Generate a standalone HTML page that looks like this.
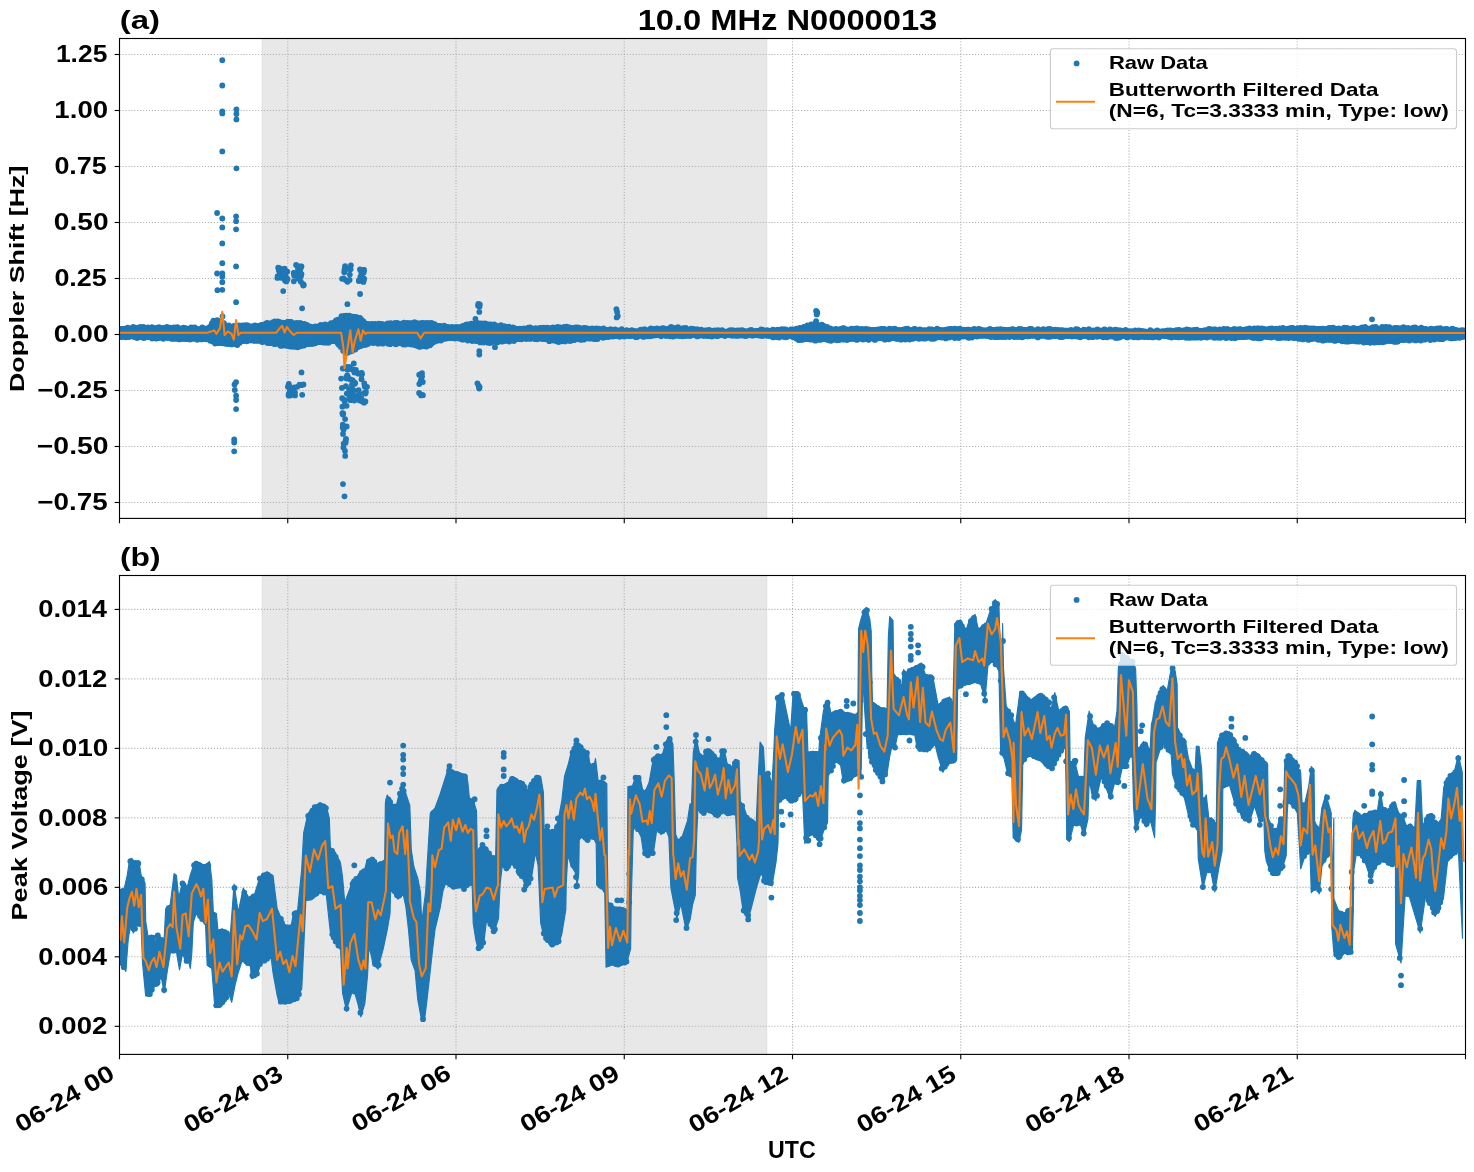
<!DOCTYPE html><html><head><meta charset="utf-8"><style>html,body{margin:0;padding:0;background:#fff;}svg{display:block;}text{font-family:"Liberation Sans", sans-serif;font-weight:bold;fill:#000;}</style></head><body>
<svg width="1474" height="1172" viewBox="0 0 1474 1172">
<rect x="0" y="0" width="1474" height="1172" fill="#fff"/>
<rect x="262.3" y="38.5" width="504.40000000000003" height="479.9" fill="#e8e8e8" stroke="#e0e0e0" stroke-width="1.1"/>
<rect x="262.3" y="575.5" width="504.40000000000003" height="478.9000000000001" fill="#e8e8e8" stroke="#e0e0e0" stroke-width="1.1"/>
<line x1="119.5" y1="54.50" x2="1465.5" y2="54.50" stroke="#b0b0b0" stroke-width="1.1" stroke-dasharray="1.1 1.85"/>
<line x1="119.5" y1="110.50" x2="1465.5" y2="110.50" stroke="#b0b0b0" stroke-width="1.1" stroke-dasharray="1.1 1.85"/>
<line x1="119.5" y1="166.50" x2="1465.5" y2="166.50" stroke="#b0b0b0" stroke-width="1.1" stroke-dasharray="1.1 1.85"/>
<line x1="119.5" y1="222.50" x2="1465.5" y2="222.50" stroke="#b0b0b0" stroke-width="1.1" stroke-dasharray="1.1 1.85"/>
<line x1="119.5" y1="278.50" x2="1465.5" y2="278.50" stroke="#b0b0b0" stroke-width="1.1" stroke-dasharray="1.1 1.85"/>
<line x1="119.5" y1="334.50" x2="1465.5" y2="334.50" stroke="#b0b0b0" stroke-width="1.1" stroke-dasharray="1.1 1.85"/>
<line x1="119.5" y1="390.50" x2="1465.5" y2="390.50" stroke="#b0b0b0" stroke-width="1.1" stroke-dasharray="1.1 1.85"/>
<line x1="119.5" y1="446.50" x2="1465.5" y2="446.50" stroke="#b0b0b0" stroke-width="1.1" stroke-dasharray="1.1 1.85"/>
<line x1="119.5" y1="502.50" x2="1465.5" y2="502.50" stroke="#b0b0b0" stroke-width="1.1" stroke-dasharray="1.1 1.85"/>
<line x1="119.5" y1="1026.30" x2="1465.5" y2="1026.30" stroke="#b0b0b0" stroke-width="1.1" stroke-dasharray="1.1 1.85"/>
<line x1="119.5" y1="956.82" x2="1465.5" y2="956.82" stroke="#b0b0b0" stroke-width="1.1" stroke-dasharray="1.1 1.85"/>
<line x1="119.5" y1="887.34" x2="1465.5" y2="887.34" stroke="#b0b0b0" stroke-width="1.1" stroke-dasharray="1.1 1.85"/>
<line x1="119.5" y1="817.86" x2="1465.5" y2="817.86" stroke="#b0b0b0" stroke-width="1.1" stroke-dasharray="1.1 1.85"/>
<line x1="119.5" y1="748.38" x2="1465.5" y2="748.38" stroke="#b0b0b0" stroke-width="1.1" stroke-dasharray="1.1 1.85"/>
<line x1="119.5" y1="678.90" x2="1465.5" y2="678.90" stroke="#b0b0b0" stroke-width="1.1" stroke-dasharray="1.1 1.85"/>
<line x1="119.5" y1="609.42" x2="1465.5" y2="609.42" stroke="#b0b0b0" stroke-width="1.1" stroke-dasharray="1.1 1.85"/>
<line x1="287.75" y1="38.5" x2="287.75" y2="518.4" stroke="#b0b0b0" stroke-width="1.1" stroke-dasharray="1.1 1.85"/>
<line x1="287.75" y1="575.5" x2="287.75" y2="1054.4" stroke="#b0b0b0" stroke-width="1.1" stroke-dasharray="1.1 1.85"/>
<line x1="456.00" y1="38.5" x2="456.00" y2="518.4" stroke="#b0b0b0" stroke-width="1.1" stroke-dasharray="1.1 1.85"/>
<line x1="456.00" y1="575.5" x2="456.00" y2="1054.4" stroke="#b0b0b0" stroke-width="1.1" stroke-dasharray="1.1 1.85"/>
<line x1="624.25" y1="38.5" x2="624.25" y2="518.4" stroke="#b0b0b0" stroke-width="1.1" stroke-dasharray="1.1 1.85"/>
<line x1="624.25" y1="575.5" x2="624.25" y2="1054.4" stroke="#b0b0b0" stroke-width="1.1" stroke-dasharray="1.1 1.85"/>
<line x1="792.50" y1="38.5" x2="792.50" y2="518.4" stroke="#b0b0b0" stroke-width="1.1" stroke-dasharray="1.1 1.85"/>
<line x1="792.50" y1="575.5" x2="792.50" y2="1054.4" stroke="#b0b0b0" stroke-width="1.1" stroke-dasharray="1.1 1.85"/>
<line x1="960.75" y1="38.5" x2="960.75" y2="518.4" stroke="#b0b0b0" stroke-width="1.1" stroke-dasharray="1.1 1.85"/>
<line x1="960.75" y1="575.5" x2="960.75" y2="1054.4" stroke="#b0b0b0" stroke-width="1.1" stroke-dasharray="1.1 1.85"/>
<line x1="1129.00" y1="38.5" x2="1129.00" y2="518.4" stroke="#b0b0b0" stroke-width="1.1" stroke-dasharray="1.1 1.85"/>
<line x1="1129.00" y1="575.5" x2="1129.00" y2="1054.4" stroke="#b0b0b0" stroke-width="1.1" stroke-dasharray="1.1 1.85"/>
<line x1="1297.25" y1="38.5" x2="1297.25" y2="518.4" stroke="#b0b0b0" stroke-width="1.1" stroke-dasharray="1.1 1.85"/>
<line x1="1297.25" y1="575.5" x2="1297.25" y2="1054.4" stroke="#b0b0b0" stroke-width="1.1" stroke-dasharray="1.1 1.85"/>
<defs><clipPath id="clipA"><rect x="119.5" y="38.5" width="1346" height="479.9"/></clipPath><clipPath id="clipB"><rect x="119.5" y="575.5" width="1346" height="478.9"/></clipPath></defs>
<g clip-path="url(#clipB)">
<polygon points="120.4,890.6 124.2,889.0 127.3,875.2 129.6,859.8 131.9,858.3 134.2,866.0 136.5,861.4 138.8,860.6 141.1,875.2 145.0,882.9 145.7,921.3 148.0,936.6 151.9,935.1 154.9,942.8 158.0,933.6 161.1,938.2 164.2,938.2 165.7,909.0 170.3,904.4 174.1,873.7 176.4,875.2 178.7,898.2 182.6,881.3 187.2,887.5 190.3,875.2 194.9,861.4 199.5,862.9 205.6,866.0 209.5,861.4 211.8,879.8 213.3,912.1 216.4,913.6 217.9,930.5 222.5,929.0 225.6,930.5 230.2,936.6 234.1,884.0 238.2,912.6 243.3,888.1 248.4,898.3 254.6,894.2 259.7,877.8 266.9,871.7 273.0,875.8 277.1,908.5 283.2,922.9 287.3,927.0 291.4,924.9 293.5,912.6 297.6,910.6 301.7,869.6 303.7,832.8 307.8,814.3 314.0,806.1 320.1,803.1 326.3,806.1 329.3,818.4 330.3,847.1 336.5,855.3 340.6,863.5 342.6,877.8 344.7,902.4 352.9,881.0 364.8,869.1 366.8,861.2 371.5,857.2 376.8,863.8 380.7,862.5 384.7,859.8 385.4,803.0 387.3,795.0 392.6,804.3 396.6,804.3 399.2,793.7 403.2,785.8 407.2,797.7 409.8,805.6 411.2,849.3 413.8,866.5 417.8,878.4 420.4,891.9 421.7,922.5 425.7,891.9 427.0,867.8 430.3,813.5 435.0,808.2 440.3,793.7 448.2,768.6 453.5,771.2 458.8,772.5 466.6,775.2 467.9,783.1 469.3,797.7 473.2,800.3 476.5,810.9 477.2,850.6 481.2,846.6 486.5,847.9 491.8,855.9 495.7,855.9 497.0,789.7 499.7,787.1 509.0,781.8 512.9,776.5 518.2,780.5 523.5,781.8 527.5,792.4 531.4,783.1 536.7,775.2 540.7,776.5 543.4,792.4 544.0,829.4 547.3,828.1 552.6,833.4 557.9,821.5 561.9,800.3 564.5,776.5 568.5,763.3 571.1,752.7 576.4,742.1 580.3,744.1 582.9,750.8 588.2,752.1 589.6,762.7 593.5,768.0 595.5,758.7 598.2,781.2 601.5,779.9 606.8,783.8 607.3,856.9 608.1,902.1 614.7,907.4 620.0,907.4 627.3,910.0 627.9,786.5 631.9,787.8 635.9,775.9 639.8,775.9 642.5,789.1 645.1,791.8 649.1,782.5 653.1,760.0 657.0,754.7 662.3,754.7 666.3,741.5 670.3,737.5 672.9,744.1 674.2,781.2 675.6,834.1 678.2,840.7 682.2,836.8 687.5,820.9 690.1,803.7 691.4,807.6 693.3,752.7 696.0,736.8 699.3,752.7 703.2,756.6 707.2,748.7 711.2,751.3 715.1,755.3 718.4,763.2 721.8,750.0 724.4,750.0 727.0,763.2 729.7,765.9 732.3,767.2 735.0,759.3 739.0,760.6 740.3,801.6 742.9,804.3 746.9,816.2 752.2,820.1 756.2,824.1 758.1,779.1 760.1,742.1 763.4,747.4 764.8,773.8 768.1,771.2 772.0,784.4 774.0,747.4 774.7,730.2 777.3,695.8 782.6,693.1 787.9,718.3 790.6,731.5 793.2,691.8 798.5,691.8 803.8,707.7 806.4,707.7 807.9,751.9 818.9,751.9 819.6,739.7 823.5,710.6 828.2,700.0 831.5,715.9 835.4,711.9 840.7,709.3 844.7,713.2 851.3,713.2 855.3,715.9 857.9,711.9 858.6,628.6 860.6,620.6 863.9,610.0 866.5,607.4 869.8,619.3 871.2,631.2 871.8,676.2 872.5,702.6 873.8,702.6 879.1,707.9 884.4,707.9 887.0,710.6 888.4,636.5 889.7,616.6 893.0,620.6 893.6,673.5 897.6,678.8 901.6,686.8 903.6,669.6 906.9,676.2 909.5,669.6 914.8,666.9 921.4,663.0 925.5,674.9 932.8,676.7 938.3,706.1 943.9,700.6 949.4,696.9 953.0,704.2 954.9,623.5 960.4,619.8 965.9,630.8 969.5,619.8 975.0,614.3 978.7,630.8 986.1,623.5 989.7,612.5 995.2,599.6 998.9,605.1 1001.7,698.7 1002.6,623.5 1003.5,669.4 1006.2,706.1 1011.7,715.2 1015.4,726.2 1020.0,691.4 1024.6,693.2 1030.1,700.6 1039.0,694.0 1042.9,695.3 1048.2,700.6 1050.9,709.9 1054.8,692.7 1058.8,711.2 1062.8,708.5 1065.4,705.9 1069.4,711.2 1070.1,761.5 1074.7,761.5 1078.7,777.3 1084.0,777.3 1085.3,737.6 1089.2,711.2 1093.2,724.4 1097.2,728.4 1101.2,728.4 1106.4,721.8 1110.4,724.4 1114.4,728.4 1117.0,711.2 1118.4,667.5 1122.3,653.0 1127.6,658.3 1132.9,660.9 1135.6,668.8 1136.9,705.9 1137.5,750.9 1140.8,745.6 1143.5,741.6 1147.5,746.9 1150.1,750.9 1151.4,724.4 1152.6,719.9 1155.3,702.7 1159.3,692.1 1163.2,685.5 1167.2,690.8 1169.8,676.2 1171.8,665.6 1175.1,670.9 1177.1,684.1 1177.5,727.8 1178.4,729.1 1181.8,737.1 1185.7,742.4 1188.4,758.2 1192.3,768.8 1195.0,774.1 1196.3,746.3 1199.0,746.3 1201.6,768.8 1202.7,796.9 1202.9,801.5 1206.2,794.9 1208.9,818.7 1213.5,820.0 1216.2,828.0 1217.5,742.4 1222.8,733.1 1229.4,731.8 1236.0,742.4 1237.3,747.6 1242.6,750.3 1250.6,758.2 1254.5,751.6 1259.8,755.6 1263.8,760.9 1266.4,762.2 1267.6,764.0 1268.3,818.2 1272.9,828.8 1276.9,828.8 1279.6,818.2 1283.5,816.9 1284.8,762.7 1288.8,753.4 1295.4,762.7 1300.7,773.2 1302.0,802.4 1304.7,803.7 1308.7,786.5 1311.3,766.6 1314.0,770.6 1314.6,820.9 1319.2,831.5 1321.9,807.6 1325.9,794.4 1331.2,812.9 1331.8,894.9 1333.8,818.2 1333.8,898.8 1339.1,912.1 1344.4,913.4 1349.7,908.1 1352.3,906.8 1352.7,823.4 1353.4,814.3 1355.0,810.3 1360.3,815.6 1365.6,814.3 1370.8,811.6 1377.5,810.3 1380.3,791.0 1382.9,806.9 1388.2,810.9 1394.8,801.6 1398.8,813.5 1402.8,816.2 1406.8,826.8 1410.7,824.1 1414.7,829.4 1417.3,780.5 1420.6,780.5 1422.6,826.8 1426.6,816.2 1431.9,813.5 1434.5,821.5 1438.5,822.8 1441.2,818.8 1443.8,787.1 1449.1,775.2 1454.4,771.2 1458.4,755.3 1462.3,772.5 1462.5,938.3 1458.4,849.6 1447.5,861.9 1443.4,898.7 1435.2,916.5 1425.6,896.0 1420.2,932.9 1409.2,896.0 1405.1,896.0 1401.0,962.9 1395.6,943.8 1395.5,862.9 1392.2,866.8 1386.9,862.9 1380.3,860.2 1374.8,868.8 1370.8,879.4 1365.6,863.5 1360.3,855.5 1356.3,854.2 1353.6,871.4 1353.4,903.2 1352.3,953.4 1344.4,953.4 1338.4,958.7 1333.8,952.1 1331.8,927.0 1331.2,852.9 1327.2,856.9 1321.9,866.1 1319.2,893.9 1316.6,887.3 1311.3,892.6 1310.0,851.6 1304.7,856.9 1300.7,868.8 1297.4,813.2 1296.8,812.0 1291.5,802.7 1287.8,804.0 1287.2,813.2 1286.2,855.5 1282.2,868.8 1278.2,874.1 1272.9,875.4 1270.3,871.4 1266.4,861.4 1264.8,850.8 1263.8,813.8 1259.8,823.0 1254.5,805.8 1249.2,823.0 1242.6,816.4 1234.7,803.2 1229.4,784.7 1222.8,788.6 1222.1,850.8 1218.8,868.0 1214.8,891.8 1210.9,872.0 1206.9,872.0 1202.9,887.9 1198.3,858.8 1197.6,831.0 1193.7,824.4 1188.4,815.1 1184.4,797.9 1176.5,787.3 1172.5,774.1 1171.2,754.6 1167.2,750.7 1163.2,742.7 1159.3,752.0 1156.0,762.6 1155.6,797.9 1154.6,837.6 1150.1,819.2 1146.1,827.1 1140.8,815.2 1135.6,832.4 1133.6,807.3 1132.2,751.7 1128.9,759.7 1126.3,767.6 1122.3,767.6 1118.4,784.8 1114.4,783.5 1110.4,799.4 1106.4,788.8 1101.2,776.9 1095.9,800.7 1091.9,794.1 1089.2,779.5 1087.9,819.2 1084.0,836.4 1080.0,823.2 1073.4,825.8 1069.4,841.7 1066.8,839.0 1066.1,787.4 1065.4,746.4 1058.8,755.7 1052.2,770.2 1046.9,766.3 1040.3,759.7 1035.6,759.3 1030.0,755.7 1025.2,758.7 1022.7,765.0 1021.5,830.2 1018.9,842.4 1013.2,837.7 1012.0,777.7 1007.9,774.5 1004.0,758.2 1000.7,752.2 998.9,671.3 993.4,660.3 987.9,665.8 985.1,698.8 980.6,684.1 975.0,682.3 962.2,686.0 957.6,689.6 956.7,759.3 953.9,763.0 947.5,763.0 942.9,772.2 938.3,757.5 934.7,742.8 927.3,752.0 917.5,748.5 917.2,748.5 914.8,734.8 905.6,733.4 897.6,734.8 895.0,747.2 891.7,747.2 889.7,756.4 887.0,773.6 881.7,780.2 873.8,767.0 868.5,753.8 867.2,675.2 867.2,748.5 862.6,677.9 861.6,748.5 861.2,769.7 859.2,775.0 856.6,775.0 850.0,780.2 843.4,782.9 840.7,765.7 835.4,760.4 830.1,772.3 828.2,776.3 827.5,822.6 824.8,827.9 819.6,842.4 812.9,833.2 809.0,835.8 804.8,843.5 802.5,791.4 799.8,794.0 795.8,802.0 790.6,802.0 785.3,796.7 778.6,803.3 778.0,843.5 776.0,862.0 772.0,885.8 764.1,883.2 761.4,871.3 756.2,888.5 750.9,909.6 748.2,917.6 742.9,909.6 740.3,891.1 737.6,877.9 737.0,843.5 735.6,813.9 729.7,815.2 723.1,811.2 717.8,817.9 712.5,813.9 708.5,809.9 703.2,815.2 697.9,807.3 696.4,843.5 695.3,895.1 692.6,904.4 690.1,919.6 686.1,930.2 680.8,903.8 676.9,918.3 672.9,898.5 670.9,887.9 668.9,837.1 666.3,830.5 661.0,834.5 657.0,827.9 653.1,854.8 643.8,854.8 641.2,837.1 635.9,826.5 633.2,830.5 631.2,901.1 630.6,948.8 626.6,963.3 620.0,966.0 612.0,964.6 606.1,967.3 604.8,893.2 601.5,887.9 596.8,883.9 596.2,843.7 592.2,834.5 588.2,842.4 585.6,839.8 582.9,835.8 579.2,839.8 578.7,873.3 577.1,884.5 575.1,872.1 571.1,865.5 567.8,854.9 566.2,883.9 565.8,909.7 561.9,933.5 559.2,942.7 551.3,946.7 543.4,934.8 540.7,922.9 539.0,883.9 538.1,865.5 535.4,852.3 531.4,878.7 526.2,888.3 522.2,877.4 518.2,872.1 515.6,865.5 510.3,864.2 506.3,870.8 502.3,865.5 500.1,883.9 498.4,918.9 494.4,930.8 486.5,920.2 483.8,942.7 478.5,950.7 475.9,940.1 473.2,922.9 472.2,883.9 466.6,887.2 454.8,888.5 445.6,883.2 442.9,891.1 440.3,907.0 435.0,929.5 432.3,952.0 429.7,975.8 427.0,999.6 424.4,1020.8 421.7,1020.8 417.8,999.6 415.1,970.5 411.2,959.9 408.5,929.5 405.9,907.0 403.2,893.8 397.9,899.1 395.3,895.1 390.6,889.8 390.0,913.6 387.3,929.5 383.4,948.0 379.4,962.6 378.1,969.2 372.8,963.9 371.5,956.0 368.8,946.7 367.5,975.8 364.8,1003.6 360.9,1016.8 358.2,1004.9 355.6,995.7 352.9,989.0 347.6,1006.2 346.7,1011.4 342.6,993.0 340.6,950.0 336.5,943.8 330.3,931.6 326.3,894.7 320.1,892.6 311.9,898.8 305.8,900.8 303.7,947.9 301.7,988.9 295.5,1001.2 287.3,1003.2 279.2,1003.2 277.1,995.0 273.0,972.5 271.0,956.1 266.9,960.2 260.7,964.3 256.6,976.6 251.5,978.7 250.5,966.4 242.3,960.2 238.2,972.5 235.1,984.8 231.7,1002.2 228.7,993.0 225.6,1000.6 221.0,1006.8 214.8,1006.8 211.8,968.4 207.2,965.3 205.6,925.4 201.0,919.2 196.4,913.1 193.3,922.3 191.8,953.0 190.3,968.4 188.7,962.2 185.7,962.2 182.6,953.0 179.5,969.9 176.4,951.5 170.3,953.0 167.2,971.4 164.2,993.0 161.1,976.1 158.0,985.3 154.9,985.3 150.3,996.0 145.7,996.0 142.6,963.8 141.1,925.4 136.5,925.4 133.4,933.0 130.4,925.4 128.1,940.7 125.8,971.4 124.2,968.4 120.4,960.7" fill="#1f77b4" stroke="#1f77b4" stroke-width="1.2" stroke-linejoin="round"/>
<g fill="#1f77b4"><circle cx="120.1" cy="892.0" r="2.9"/><circle cx="122.6" cy="891.0" r="2.9"/><circle cx="130.4" cy="861.2" r="2.9"/><circle cx="131.7" cy="862.0" r="2.9"/><circle cx="133.6" cy="867.6" r="2.9"/><circle cx="135.7" cy="862.9" r="2.9"/><circle cx="138.3" cy="863.5" r="2.9"/><circle cx="141.8" cy="879.3" r="2.9"/><circle cx="148.6" cy="939.5" r="2.9"/><circle cx="150.5" cy="937.6" r="2.9"/><circle cx="153.1" cy="937.6" r="2.9"/><circle cx="154.9" cy="943.1" r="2.9"/><circle cx="157.8" cy="935.5" r="2.9"/><circle cx="160.1" cy="939.9" r="2.9"/><circle cx="161.9" cy="940.4" r="2.9"/><circle cx="168.6" cy="908.2" r="2.9"/><circle cx="182.5" cy="883.5" r="2.9"/><circle cx="183.7" cy="885.2" r="2.9"/><circle cx="186.7" cy="888.4" r="2.9"/><circle cx="194.1" cy="865.2" r="2.9"/><circle cx="196.3" cy="863.6" r="2.9"/><circle cx="198.8" cy="865.0" r="2.9"/><circle cx="200.0" cy="865.6" r="2.9"/><circle cx="202.4" cy="867.2" r="2.9"/><circle cx="204.7" cy="867.0" r="2.9"/><circle cx="207.1" cy="866.4" r="2.9"/><circle cx="208.2" cy="865.3" r="2.9"/><circle cx="219.8" cy="931.8" r="2.9"/><circle cx="221.6" cy="931.5" r="2.9"/><circle cx="224.8" cy="932.1" r="2.9"/><circle cx="227.0" cy="933.3" r="2.9"/><circle cx="228.7" cy="936.5" r="2.9"/><circle cx="234.5" cy="887.9" r="2.9"/><circle cx="238.9" cy="914.7" r="2.9"/><circle cx="244.3" cy="892.6" r="2.9"/><circle cx="245.7" cy="896.7" r="2.9"/><circle cx="248.6" cy="901.3" r="2.9"/><circle cx="250.9" cy="898.7" r="2.9"/><circle cx="252.2" cy="898.1" r="2.9"/><circle cx="253.6" cy="896.4" r="2.9"/><circle cx="259.8" cy="878.6" r="2.9"/><circle cx="261.7" cy="878.2" r="2.9"/><circle cx="263.8" cy="875.4" r="2.9"/><circle cx="266.2" cy="874.9" r="2.9"/><circle cx="267.7" cy="874.7" r="2.9"/><circle cx="270.5" cy="876.9" r="2.9"/><circle cx="280.9" cy="919.0" r="2.9"/><circle cx="282.0" cy="922.8" r="2.9"/><circle cx="284.2" cy="926.9" r="2.9"/><circle cx="287.1" cy="927.4" r="2.9"/><circle cx="287.9" cy="928.0" r="2.9"/><circle cx="289.9" cy="927.5" r="2.9"/><circle cx="294.5" cy="913.8" r="2.9"/><circle cx="295.6" cy="913.1" r="2.9"/><circle cx="308.2" cy="815.8" r="2.9"/><circle cx="311.1" cy="813.4" r="2.9"/><circle cx="312.4" cy="810.6" r="2.9"/><circle cx="314.7" cy="807.1" r="2.9"/><circle cx="317.0" cy="807.6" r="2.9"/><circle cx="319.0" cy="806.6" r="2.9"/><circle cx="320.2" cy="805.1" r="2.9"/><circle cx="321.7" cy="806.6" r="2.9"/><circle cx="323.7" cy="806.4" r="2.9"/><circle cx="325.9" cy="808.1" r="2.9"/><circle cx="332.1" cy="851.0" r="2.9"/><circle cx="333.6" cy="853.9" r="2.9"/><circle cx="335.7" cy="857.0" r="2.9"/><circle cx="337.6" cy="861.9" r="2.9"/><circle cx="352.6" cy="883.9" r="2.9"/><circle cx="354.0" cy="881.4" r="2.9"/><circle cx="356.2" cy="878.9" r="2.9"/><circle cx="358.9" cy="878.7" r="2.9"/><circle cx="360.3" cy="875.6" r="2.9"/><circle cx="361.7" cy="872.9" r="2.9"/><circle cx="364.1" cy="871.2" r="2.9"/><circle cx="368.9" cy="861.3" r="2.9"/><circle cx="369.6" cy="861.1" r="2.9"/><circle cx="372.4" cy="859.7" r="2.9"/><circle cx="374.4" cy="862.0" r="2.9"/><circle cx="376.4" cy="866.4" r="2.9"/><circle cx="379.0" cy="865.8" r="2.9"/><circle cx="380.0" cy="864.4" r="2.9"/><circle cx="381.8" cy="864.0" r="2.9"/><circle cx="388.4" cy="799.5" r="2.9"/><circle cx="390.1" cy="801.9" r="2.9"/><circle cx="392.9" cy="806.9" r="2.9"/><circle cx="394.9" cy="807.0" r="2.9"/><circle cx="396.9" cy="806.9" r="2.9"/><circle cx="399.9" cy="793.6" r="2.9"/><circle cx="402.1" cy="788.6" r="2.9"/><circle cx="403.6" cy="790.9" r="2.9"/><circle cx="422.0" cy="920.1" r="2.9"/><circle cx="433.1" cy="813.2" r="2.9"/><circle cx="435.1" cy="812.0" r="2.9"/><circle cx="449.1" cy="770.5" r="2.9"/><circle cx="449.9" cy="771.2" r="2.9"/><circle cx="451.9" cy="772.2" r="2.9"/><circle cx="454.6" cy="774.3" r="2.9"/><circle cx="456.9" cy="774.0" r="2.9"/><circle cx="458.6" cy="775.1" r="2.9"/><circle cx="459.7" cy="775.5" r="2.9"/><circle cx="463.0" cy="776.4" r="2.9"/><circle cx="464.8" cy="776.5" r="2.9"/><circle cx="469.9" cy="801.1" r="2.9"/><circle cx="472.1" cy="802.4" r="2.9"/><circle cx="481.1" cy="849.3" r="2.9"/><circle cx="482.2" cy="849.9" r="2.9"/><circle cx="484.7" cy="848.9" r="2.9"/><circle cx="485.8" cy="849.3" r="2.9"/><circle cx="489.0" cy="853.5" r="2.9"/><circle cx="489.8" cy="856.6" r="2.9"/><circle cx="493.1" cy="858.3" r="2.9"/><circle cx="500.1" cy="788.9" r="2.9"/><circle cx="501.8" cy="786.7" r="2.9"/><circle cx="505.1" cy="786.8" r="2.9"/><circle cx="506.4" cy="786.2" r="2.9"/><circle cx="508.3" cy="785.0" r="2.9"/><circle cx="510.9" cy="781.4" r="2.9"/><circle cx="512.0" cy="778.9" r="2.9"/><circle cx="514.0" cy="779.9" r="2.9"/><circle cx="516.0" cy="781.0" r="2.9"/><circle cx="517.8" cy="783.4" r="2.9"/><circle cx="520.1" cy="783.0" r="2.9"/><circle cx="522.5" cy="784.4" r="2.9"/><circle cx="524.2" cy="787.0" r="2.9"/><circle cx="526.4" cy="791.6" r="2.9"/><circle cx="528.4" cy="791.4" r="2.9"/><circle cx="530.3" cy="787.1" r="2.9"/><circle cx="531.6" cy="784.4" r="2.9"/><circle cx="533.9" cy="780.8" r="2.9"/><circle cx="536.7" cy="777.9" r="2.9"/><circle cx="538.1" cy="777.9" r="2.9"/><circle cx="546.5" cy="831.1" r="2.9"/><circle cx="547.7" cy="831.4" r="2.9"/><circle cx="550.0" cy="832.8" r="2.9"/><circle cx="552.8" cy="835.3" r="2.9"/><circle cx="554.5" cy="832.0" r="2.9"/><circle cx="557.0" cy="826.9" r="2.9"/><circle cx="572.6" cy="752.3" r="2.9"/><circle cx="574.4" cy="748.7" r="2.9"/><circle cx="576.3" cy="744.4" r="2.9"/><circle cx="578.3" cy="746.1" r="2.9"/><circle cx="580.7" cy="747.2" r="2.9"/><circle cx="583.1" cy="751.0" r="2.9"/><circle cx="584.5" cy="754.1" r="2.9"/><circle cx="586.9" cy="753.0" r="2.9"/><circle cx="591.8" cy="768.4" r="2.9"/><circle cx="593.7" cy="765.6" r="2.9"/><circle cx="599.7" cy="782.7" r="2.9"/><circle cx="602.8" cy="783.4" r="2.9"/><circle cx="603.8" cy="784.6" r="2.9"/><circle cx="610.6" cy="905.3" r="2.9"/><circle cx="613.0" cy="908.6" r="2.9"/><circle cx="613.9" cy="910.1" r="2.9"/><circle cx="616.2" cy="909.4" r="2.9"/><circle cx="619.2" cy="910.1" r="2.9"/><circle cx="619.8" cy="909.5" r="2.9"/><circle cx="622.4" cy="910.0" r="2.9"/><circle cx="623.9" cy="910.7" r="2.9"/><circle cx="630.7" cy="788.4" r="2.9"/><circle cx="632.5" cy="788.3" r="2.9"/><circle cx="635.6" cy="777.7" r="2.9"/><circle cx="638.6" cy="778.0" r="2.9"/><circle cx="643.7" cy="794.1" r="2.9"/><circle cx="646.8" cy="791.9" r="2.9"/><circle cx="653.7" cy="759.9" r="2.9"/><circle cx="655.6" cy="758.3" r="2.9"/><circle cx="658.0" cy="756.1" r="2.9"/><circle cx="660.3" cy="757.6" r="2.9"/><circle cx="662.9" cy="756.2" r="2.9"/><circle cx="665.8" cy="744.3" r="2.9"/><circle cx="668.5" cy="741.9" r="2.9"/><circle cx="669.7" cy="739.0" r="2.9"/><circle cx="678.7" cy="842.5" r="2.9"/><circle cx="679.7" cy="841.5" r="2.9"/><circle cx="682.6" cy="838.8" r="2.9"/><circle cx="695.7" cy="741.6" r="2.9"/><circle cx="699.7" cy="756.6" r="2.9"/><circle cx="702.3" cy="757.6" r="2.9"/><circle cx="704.5" cy="757.3" r="2.9"/><circle cx="706.0" cy="751.7" r="2.9"/><circle cx="708.4" cy="751.1" r="2.9"/><circle cx="709.8" cy="752.2" r="2.9"/><circle cx="711.7" cy="754.0" r="2.9"/><circle cx="714.1" cy="756.3" r="2.9"/><circle cx="716.8" cy="760.0" r="2.9"/><circle cx="718.4" cy="764.5" r="2.9"/><circle cx="722.1" cy="751.2" r="2.9"/><circle cx="724.0" cy="751.1" r="2.9"/><circle cx="728.7" cy="766.8" r="2.9"/><circle cx="729.9" cy="768.3" r="2.9"/><circle cx="733.1" cy="768.4" r="2.9"/><circle cx="734.9" cy="763.1" r="2.9"/><circle cx="736.4" cy="762.5" r="2.9"/><circle cx="742.2" cy="805.8" r="2.9"/><circle cx="746.7" cy="817.7" r="2.9"/><circle cx="748.1" cy="820.0" r="2.9"/><circle cx="750.7" cy="821.2" r="2.9"/><circle cx="752.2" cy="822.1" r="2.9"/><circle cx="753.7" cy="823.7" r="2.9"/><circle cx="765.7" cy="775.1" r="2.9"/><circle cx="768.0" cy="773.7" r="2.9"/><circle cx="777.7" cy="698.0" r="2.9"/><circle cx="781.0" cy="696.7" r="2.9"/><circle cx="782.0" cy="694.8" r="2.9"/><circle cx="794.0" cy="693.8" r="2.9"/><circle cx="795.8" cy="693.8" r="2.9"/><circle cx="798.0" cy="694.8" r="2.9"/><circle cx="805.1" cy="709.9" r="2.9"/><circle cx="810.0" cy="754.9" r="2.9"/><circle cx="812.1" cy="753.7" r="2.9"/><circle cx="813.6" cy="753.7" r="2.9"/><circle cx="816.3" cy="754.0" r="2.9"/><circle cx="825.9" cy="706.2" r="2.9"/><circle cx="827.6" cy="702.7" r="2.9"/><circle cx="831.7" cy="716.9" r="2.9"/><circle cx="833.6" cy="714.1" r="2.9"/><circle cx="836.1" cy="713.0" r="2.9"/><circle cx="838.5" cy="712.6" r="2.9"/><circle cx="840.8" cy="711.9" r="2.9"/><circle cx="842.7" cy="713.8" r="2.9"/><circle cx="844.2" cy="714.7" r="2.9"/><circle cx="847.2" cy="714.6" r="2.9"/><circle cx="848.7" cy="715.6" r="2.9"/><circle cx="849.6" cy="716.0" r="2.9"/><circle cx="853.0" cy="716.3" r="2.9"/><circle cx="854.8" cy="718.0" r="2.9"/><circle cx="855.8" cy="716.4" r="2.9"/><circle cx="864.4" cy="612.3" r="2.9"/><circle cx="866.9" cy="610.3" r="2.9"/><circle cx="874.5" cy="706.1" r="2.9"/><circle cx="876.7" cy="707.7" r="2.9"/><circle cx="877.9" cy="708.4" r="2.9"/><circle cx="879.8" cy="709.8" r="2.9"/><circle cx="881.7" cy="710.7" r="2.9"/><circle cx="884.5" cy="710.3" r="2.9"/><circle cx="896.6" cy="679.6" r="2.9"/><circle cx="898.4" cy="681.5" r="2.9"/><circle cx="900.9" cy="686.9" r="2.9"/><circle cx="904.4" cy="673.4" r="2.9"/><circle cx="906.6" cy="676.4" r="2.9"/><circle cx="908.8" cy="674.0" r="2.9"/><circle cx="909.7" cy="670.8" r="2.9"/><circle cx="912.7" cy="669.7" r="2.9"/><circle cx="914.8" cy="670.2" r="2.9"/><circle cx="916.4" cy="667.9" r="2.9"/><circle cx="918.3" cy="667.3" r="2.9"/><circle cx="920.8" cy="665.9" r="2.9"/><circle cx="922.6" cy="667.0" r="2.9"/><circle cx="925.8" cy="676.7" r="2.9"/><circle cx="928.8" cy="677.3" r="2.9"/><circle cx="930.5" cy="677.2" r="2.9"/><circle cx="931.7" cy="678.2" r="2.9"/><circle cx="938.7" cy="708.5" r="2.9"/><circle cx="940.7" cy="705.7" r="2.9"/><circle cx="942.4" cy="704.1" r="2.9"/><circle cx="944.3" cy="701.5" r="2.9"/><circle cx="947.0" cy="700.4" r="2.9"/><circle cx="949.1" cy="700.5" r="2.9"/><circle cx="949.6" cy="700.9" r="2.9"/><circle cx="956.9" cy="625.5" r="2.9"/><circle cx="958.3" cy="622.8" r="2.9"/><circle cx="959.9" cy="622.8" r="2.9"/><circle cx="961.9" cy="626.1" r="2.9"/><circle cx="963.8" cy="630.0" r="2.9"/><circle cx="967.1" cy="630.7" r="2.9"/><circle cx="970.9" cy="621.1" r="2.9"/><circle cx="973.0" cy="619.5" r="2.9"/><circle cx="973.9" cy="617.9" r="2.9"/><circle cx="978.4" cy="630.5" r="2.9"/><circle cx="979.6" cy="631.3" r="2.9"/><circle cx="982.3" cy="628.9" r="2.9"/><circle cx="983.8" cy="627.0" r="2.9"/><circle cx="986.1" cy="625.3" r="2.9"/><circle cx="991.6" cy="608.9" r="2.9"/><circle cx="994.9" cy="603.0" r="2.9"/><circle cx="997.1" cy="603.9" r="2.9"/><circle cx="1003.0" cy="641.0" r="2.9"/><circle cx="1008.2" cy="711.5" r="2.9"/><circle cx="1011.2" cy="715.2" r="2.9"/><circle cx="1014.2" cy="725.1" r="2.9"/><circle cx="1022.0" cy="693.5" r="2.9"/><circle cx="1023.7" cy="695.9" r="2.9"/><circle cx="1026.0" cy="698.6" r="2.9"/><circle cx="1028.0" cy="699.9" r="2.9"/><circle cx="1030.4" cy="701.8" r="2.9"/><circle cx="1032.2" cy="701.9" r="2.9"/><circle cx="1035.0" cy="700.1" r="2.9"/><circle cx="1036.6" cy="698.8" r="2.9"/><circle cx="1039.1" cy="696.6" r="2.9"/><circle cx="1040.7" cy="695.7" r="2.9"/><circle cx="1042.7" cy="697.1" r="2.9"/><circle cx="1044.8" cy="699.1" r="2.9"/><circle cx="1046.0" cy="699.9" r="2.9"/><circle cx="1049.1" cy="702.5" r="2.9"/><circle cx="1050.3" cy="709.9" r="2.9"/><circle cx="1054.1" cy="697.3" r="2.9"/><circle cx="1061.1" cy="711.8" r="2.9"/><circle cx="1062.6" cy="710.5" r="2.9"/><circle cx="1064.5" cy="708.8" r="2.9"/><circle cx="1065.8" cy="708.6" r="2.9"/><circle cx="1071.9" cy="764.4" r="2.9"/><circle cx="1074.4" cy="763.0" r="2.9"/><circle cx="1079.0" cy="779.3" r="2.9"/><circle cx="1080.3" cy="778.7" r="2.9"/><circle cx="1081.9" cy="778.6" r="2.9"/><circle cx="1090.1" cy="716.2" r="2.9"/><circle cx="1094.0" cy="727.2" r="2.9"/><circle cx="1096.5" cy="730.5" r="2.9"/><circle cx="1098.8" cy="730.3" r="2.9"/><circle cx="1100.2" cy="730.5" r="2.9"/><circle cx="1102.2" cy="728.6" r="2.9"/><circle cx="1103.7" cy="726.0" r="2.9"/><circle cx="1107.1" cy="723.2" r="2.9"/><circle cx="1108.4" cy="725.4" r="2.9"/><circle cx="1111.0" cy="725.9" r="2.9"/><circle cx="1112.0" cy="728.0" r="2.9"/><circle cx="1122.2" cy="655.0" r="2.9"/><circle cx="1125.1" cy="657.8" r="2.9"/><circle cx="1127.0" cy="658.2" r="2.9"/><circle cx="1127.6" cy="661.2" r="2.9"/><circle cx="1131.0" cy="661.7" r="2.9"/><circle cx="1132.5" cy="661.7" r="2.9"/><circle cx="1140.2" cy="749.3" r="2.9"/><circle cx="1142.9" cy="746.1" r="2.9"/><circle cx="1145.1" cy="744.4" r="2.9"/><circle cx="1145.8" cy="746.9" r="2.9"/><circle cx="1148.4" cy="750.7" r="2.9"/><circle cx="1159.1" cy="697.0" r="2.9"/><circle cx="1160.6" cy="692.8" r="2.9"/><circle cx="1162.3" cy="689.1" r="2.9"/><circle cx="1163.6" cy="689.7" r="2.9"/><circle cx="1165.9" cy="692.6" r="2.9"/><circle cx="1172.6" cy="668.2" r="2.9"/><circle cx="1179.8" cy="735.4" r="2.9"/><circle cx="1182.6" cy="740.4" r="2.9"/><circle cx="1183.8" cy="741.8" r="2.9"/><circle cx="1192.4" cy="771.2" r="2.9"/><circle cx="1204.2" cy="800.1" r="2.9"/><circle cx="1210.5" cy="820.2" r="2.9"/><circle cx="1212.1" cy="821.7" r="2.9"/><circle cx="1215.1" cy="825.0" r="2.9"/><circle cx="1221.0" cy="739.3" r="2.9"/><circle cx="1222.0" cy="735.4" r="2.9"/><circle cx="1225.1" cy="735.3" r="2.9"/><circle cx="1226.1" cy="733.5" r="2.9"/><circle cx="1228.4" cy="734.4" r="2.9"/><circle cx="1230.2" cy="735.0" r="2.9"/><circle cx="1232.6" cy="739.5" r="2.9"/><circle cx="1233.9" cy="740.9" r="2.9"/><circle cx="1236.1" cy="745.8" r="2.9"/><circle cx="1238.7" cy="749.7" r="2.9"/><circle cx="1240.9" cy="751.8" r="2.9"/><circle cx="1242.4" cy="751.7" r="2.9"/><circle cx="1245.1" cy="753.8" r="2.9"/><circle cx="1246.9" cy="755.6" r="2.9"/><circle cx="1247.9" cy="758.7" r="2.9"/><circle cx="1250.0" cy="761.1" r="2.9"/><circle cx="1252.4" cy="756.7" r="2.9"/><circle cx="1253.9" cy="753.8" r="2.9"/><circle cx="1256.6" cy="756.0" r="2.9"/><circle cx="1257.8" cy="756.4" r="2.9"/><circle cx="1259.9" cy="759.4" r="2.9"/><circle cx="1261.8" cy="760.2" r="2.9"/><circle cx="1263.7" cy="763.1" r="2.9"/><circle cx="1271.0" cy="825.8" r="2.9"/><circle cx="1272.7" cy="830.6" r="2.9"/><circle cx="1275.1" cy="830.6" r="2.9"/><circle cx="1275.9" cy="831.8" r="2.9"/><circle cx="1280.8" cy="819.1" r="2.9"/><circle cx="1286.6" cy="761.0" r="2.9"/><circle cx="1288.2" cy="756.2" r="2.9"/><circle cx="1289.8" cy="756.7" r="2.9"/><circle cx="1292.0" cy="760.2" r="2.9"/><circle cx="1295.1" cy="762.5" r="2.9"/><circle cx="1297.1" cy="766.1" r="2.9"/><circle cx="1298.1" cy="771.3" r="2.9"/><circle cx="1304.9" cy="805.5" r="2.9"/><circle cx="1311.7" cy="770.3" r="2.9"/><circle cx="1316.2" cy="827.8" r="2.9"/><circle cx="1317.9" cy="831.3" r="2.9"/><circle cx="1327.0" cy="797.4" r="2.9"/><circle cx="1338.2" cy="913.0" r="2.9"/><circle cx="1340.8" cy="913.6" r="2.9"/><circle cx="1341.6" cy="914.1" r="2.9"/><circle cx="1345.0" cy="915.0" r="2.9"/><circle cx="1346.8" cy="914.3" r="2.9"/><circle cx="1348.1" cy="911.0" r="2.9"/><circle cx="1351.1" cy="910.1" r="2.9"/><circle cx="1356.0" cy="814.2" r="2.9"/><circle cx="1358.1" cy="815.4" r="2.9"/><circle cx="1359.6" cy="818.2" r="2.9"/><circle cx="1363.0" cy="817.4" r="2.9"/><circle cx="1365.1" cy="815.7" r="2.9"/><circle cx="1366.0" cy="815.9" r="2.9"/><circle cx="1369.1" cy="815.9" r="2.9"/><circle cx="1370.2" cy="813.5" r="2.9"/><circle cx="1372.3" cy="813.4" r="2.9"/><circle cx="1375.1" cy="812.4" r="2.9"/><circle cx="1376.9" cy="813.1" r="2.9"/><circle cx="1380.9" cy="794.2" r="2.9"/><circle cx="1384.5" cy="809.8" r="2.9"/><circle cx="1386.1" cy="811.3" r="2.9"/><circle cx="1388.8" cy="811.9" r="2.9"/><circle cx="1389.9" cy="810.5" r="2.9"/><circle cx="1392.0" cy="806.3" r="2.9"/><circle cx="1393.6" cy="804.5" r="2.9"/><circle cx="1398.1" cy="815.3" r="2.9"/><circle cx="1401.0" cy="817.7" r="2.9"/><circle cx="1402.0" cy="817.2" r="2.9"/><circle cx="1405.7" cy="827.9" r="2.9"/><circle cx="1408.7" cy="827.7" r="2.9"/><circle cx="1410.0" cy="826.3" r="2.9"/><circle cx="1412.6" cy="828.8" r="2.9"/><circle cx="1426.8" cy="819.6" r="2.9"/><circle cx="1428.6" cy="816.6" r="2.9"/><circle cx="1430.9" cy="816.0" r="2.9"/><circle cx="1432.5" cy="816.8" r="2.9"/><circle cx="1434.8" cy="822.5" r="2.9"/><circle cx="1436.0" cy="823.7" r="2.9"/><circle cx="1437.8" cy="825.6" r="2.9"/><circle cx="1446.5" cy="783.0" r="2.9"/><circle cx="1448.2" cy="779.9" r="2.9"/><circle cx="1450.4" cy="775.8" r="2.9"/><circle cx="1452.9" cy="775.1" r="2.9"/><circle cx="1455.2" cy="772.5" r="2.9"/><circle cx="1458.3" cy="758.2" r="2.9"/><circle cx="120.9" cy="957.8" r="2.9"/><circle cx="121.6" cy="963.0" r="2.9"/><circle cx="123.8" cy="967.2" r="2.9"/><circle cx="131.1" cy="923.1" r="2.9"/><circle cx="133.1" cy="928.6" r="2.9"/><circle cx="135.0" cy="928.7" r="2.9"/><circle cx="136.0" cy="923.0" r="2.9"/><circle cx="139.1" cy="924.1" r="2.9"/><circle cx="148.5" cy="993.7" r="2.9"/><circle cx="149.9" cy="994.1" r="2.9"/><circle cx="151.8" cy="989.7" r="2.9"/><circle cx="154.0" cy="984.3" r="2.9"/><circle cx="156.6" cy="983.8" r="2.9"/><circle cx="157.6" cy="982.4" r="2.9"/><circle cx="160.7" cy="976.7" r="2.9"/><circle cx="164.1" cy="989.9" r="2.9"/><circle cx="172.8" cy="950.3" r="2.9"/><circle cx="173.7" cy="950.7" r="2.9"/><circle cx="182.2" cy="952.0" r="2.9"/><circle cx="186.6" cy="960.9" r="2.9"/><circle cx="187.8" cy="959.7" r="2.9"/><circle cx="196.2" cy="911.5" r="2.9"/><circle cx="198.1" cy="912.7" r="2.9"/><circle cx="200.1" cy="916.1" r="2.9"/><circle cx="202.1" cy="919.1" r="2.9"/><circle cx="211.0" cy="964.4" r="2.9"/><circle cx="216.2" cy="1005.3" r="2.9"/><circle cx="218.7" cy="1005.3" r="2.9"/><circle cx="219.6" cy="1003.9" r="2.9"/><circle cx="222.3" cy="1002.2" r="2.9"/><circle cx="224.2" cy="999.4" r="2.9"/><circle cx="226.3" cy="997.3" r="2.9"/><circle cx="227.6" cy="991.5" r="2.9"/><circle cx="242.6" cy="957.4" r="2.9"/><circle cx="243.7" cy="959.4" r="2.9"/><circle cx="246.2" cy="961.2" r="2.9"/><circle cx="247.8" cy="963.1" r="2.9"/><circle cx="252.4" cy="975.4" r="2.9"/><circle cx="253.8" cy="975.4" r="2.9"/><circle cx="256.9" cy="973.7" r="2.9"/><circle cx="259.9" cy="964.0" r="2.9"/><circle cx="263.1" cy="960.2" r="2.9"/><circle cx="264.3" cy="960.7" r="2.9"/><circle cx="267.1" cy="958.7" r="2.9"/><circle cx="269.0" cy="956.4" r="2.9"/><circle cx="270.9" cy="955.3" r="2.9"/><circle cx="280.8" cy="1001.7" r="2.9"/><circle cx="282.2" cy="1000.4" r="2.9"/><circle cx="284.9" cy="1001.8" r="2.9"/><circle cx="285.9" cy="1001.3" r="2.9"/><circle cx="288.4" cy="1001.1" r="2.9"/><circle cx="289.8" cy="1000.9" r="2.9"/><circle cx="292.7" cy="999.1" r="2.9"/><circle cx="293.6" cy="999.2" r="2.9"/><circle cx="296.8" cy="998.3" r="2.9"/><circle cx="298.9" cy="994.2" r="2.9"/><circle cx="308.5" cy="897.8" r="2.9"/><circle cx="310.6" cy="897.6" r="2.9"/><circle cx="312.2" cy="896.2" r="2.9"/><circle cx="314.3" cy="894.5" r="2.9"/><circle cx="316.3" cy="893.5" r="2.9"/><circle cx="317.6" cy="891.6" r="2.9"/><circle cx="320.4" cy="891.2" r="2.9"/><circle cx="322.8" cy="890.7" r="2.9"/><circle cx="324.3" cy="892.6" r="2.9"/><circle cx="332.3" cy="934.3" r="2.9"/><circle cx="333.8" cy="937.6" r="2.9"/><circle cx="335.7" cy="941.6" r="2.9"/><circle cx="338.4" cy="945.5" r="2.9"/><circle cx="346.6" cy="1008.6" r="2.9"/><circle cx="352.7" cy="988.2" r="2.9"/><circle cx="354.4" cy="991.4" r="2.9"/><circle cx="360.4" cy="1012.7" r="2.9"/><circle cx="375.1" cy="964.1" r="2.9"/><circle cx="376.9" cy="964.4" r="2.9"/><circle cx="378.7" cy="965.0" r="2.9"/><circle cx="391.9" cy="888.7" r="2.9"/><circle cx="394.4" cy="891.1" r="2.9"/><circle cx="397.0" cy="895.3" r="2.9"/><circle cx="398.8" cy="895.7" r="2.9"/><circle cx="399.7" cy="894.8" r="2.9"/><circle cx="402.8" cy="893.2" r="2.9"/><circle cx="423.0" cy="1019.2" r="2.9"/><circle cx="446.9" cy="882.3" r="2.9"/><circle cx="448.4" cy="881.9" r="2.9"/><circle cx="449.9" cy="884.3" r="2.9"/><circle cx="452.4" cy="885.4" r="2.9"/><circle cx="453.6" cy="886.8" r="2.9"/><circle cx="455.8" cy="885.3" r="2.9"/><circle cx="458.7" cy="885.2" r="2.9"/><circle cx="459.8" cy="885.2" r="2.9"/><circle cx="461.8" cy="885.5" r="2.9"/><circle cx="464.6" cy="885.6" r="2.9"/><circle cx="467.0" cy="885.0" r="2.9"/><circle cx="468.5" cy="883.3" r="2.9"/><circle cx="469.7" cy="881.8" r="2.9"/><circle cx="478.6" cy="948.2" r="2.9"/><circle cx="480.9" cy="946.3" r="2.9"/><circle cx="483.2" cy="942.6" r="2.9"/><circle cx="488.2" cy="920.2" r="2.9"/><circle cx="490.3" cy="924.0" r="2.9"/><circle cx="492.8" cy="926.9" r="2.9"/><circle cx="494.9" cy="929.2" r="2.9"/><circle cx="504.6" cy="865.2" r="2.9"/><circle cx="506.5" cy="868.3" r="2.9"/><circle cx="508.1" cy="866.3" r="2.9"/><circle cx="509.6" cy="862.8" r="2.9"/><circle cx="512.6" cy="862.7" r="2.9"/><circle cx="514.4" cy="862.3" r="2.9"/><circle cx="515.8" cy="866.0" r="2.9"/><circle cx="518.6" cy="871.2" r="2.9"/><circle cx="519.6" cy="873.2" r="2.9"/><circle cx="521.7" cy="876.1" r="2.9"/><circle cx="525.9" cy="885.6" r="2.9"/><circle cx="528.5" cy="882.8" r="2.9"/><circle cx="530.6" cy="878.6" r="2.9"/><circle cx="543.8" cy="933.4" r="2.9"/><circle cx="546.0" cy="937.9" r="2.9"/><circle cx="547.7" cy="940.0" r="2.9"/><circle cx="551.0" cy="942.7" r="2.9"/><circle cx="552.2" cy="944.5" r="2.9"/><circle cx="553.6" cy="942.8" r="2.9"/><circle cx="556.5" cy="942.4" r="2.9"/><circle cx="558.6" cy="941.2" r="2.9"/><circle cx="573.1" cy="865.0" r="2.9"/><circle cx="576.0" cy="877.1" r="2.9"/><circle cx="581.6" cy="834.2" r="2.9"/><circle cx="584.2" cy="836.4" r="2.9"/><circle cx="585.7" cy="837.9" r="2.9"/><circle cx="587.6" cy="839.9" r="2.9"/><circle cx="591.1" cy="836.7" r="2.9"/><circle cx="591.9" cy="832.6" r="2.9"/><circle cx="594.4" cy="837.2" r="2.9"/><circle cx="598.9" cy="883.8" r="2.9"/><circle cx="600.1" cy="885.3" r="2.9"/><circle cx="601.7" cy="886.5" r="2.9"/><circle cx="608.8" cy="963.7" r="2.9"/><circle cx="609.6" cy="962.6" r="2.9"/><circle cx="612.8" cy="962.7" r="2.9"/><circle cx="614.8" cy="963.0" r="2.9"/><circle cx="615.9" cy="964.0" r="2.9"/><circle cx="617.9" cy="964.5" r="2.9"/><circle cx="620.1" cy="963.2" r="2.9"/><circle cx="622.7" cy="962.2" r="2.9"/><circle cx="624.7" cy="962.6" r="2.9"/><circle cx="626.5" cy="961.4" r="2.9"/><circle cx="636.8" cy="825.4" r="2.9"/><circle cx="638.0" cy="829.2" r="2.9"/><circle cx="645.1" cy="853.3" r="2.9"/><circle cx="647.0" cy="853.7" r="2.9"/><circle cx="648.0" cy="853.2" r="2.9"/><circle cx="650.8" cy="851.8" r="2.9"/><circle cx="652.8" cy="853.1" r="2.9"/><circle cx="659.0" cy="828.3" r="2.9"/><circle cx="660.0" cy="830.5" r="2.9"/><circle cx="662.6" cy="831.0" r="2.9"/><circle cx="664.6" cy="828.9" r="2.9"/><circle cx="666.3" cy="827.9" r="2.9"/><circle cx="676.7" cy="913.0" r="2.9"/><circle cx="680.3" cy="903.0" r="2.9"/><circle cx="686.5" cy="927.9" r="2.9"/><circle cx="699.9" cy="808.6" r="2.9"/><circle cx="701.7" cy="811.0" r="2.9"/><circle cx="703.8" cy="812.9" r="2.9"/><circle cx="705.7" cy="809.1" r="2.9"/><circle cx="708.1" cy="808.7" r="2.9"/><circle cx="709.6" cy="810.6" r="2.9"/><circle cx="712.7" cy="811.4" r="2.9"/><circle cx="714.7" cy="812.7" r="2.9"/><circle cx="715.7" cy="814.5" r="2.9"/><circle cx="718.2" cy="814.4" r="2.9"/><circle cx="720.9" cy="811.7" r="2.9"/><circle cx="721.7" cy="809.3" r="2.9"/><circle cx="725.0" cy="809.0" r="2.9"/><circle cx="725.7" cy="811.7" r="2.9"/><circle cx="727.8" cy="813.3" r="2.9"/><circle cx="730.9" cy="812.3" r="2.9"/><circle cx="732.6" cy="811.9" r="2.9"/><circle cx="734.6" cy="812.5" r="2.9"/><circle cx="743.7" cy="910.5" r="2.9"/><circle cx="746.8" cy="913.3" r="2.9"/><circle cx="748.1" cy="915.2" r="2.9"/><circle cx="759.6" cy="873.1" r="2.9"/><circle cx="764.0" cy="880.7" r="2.9"/><circle cx="766.2" cy="882.2" r="2.9"/><circle cx="769.1" cy="882.5" r="2.9"/><circle cx="770.9" cy="882.9" r="2.9"/><circle cx="779.6" cy="799.7" r="2.9"/><circle cx="782.3" cy="796.9" r="2.9"/><circle cx="784.1" cy="795.1" r="2.9"/><circle cx="786.4" cy="796.3" r="2.9"/><circle cx="789.0" cy="798.5" r="2.9"/><circle cx="790.9" cy="800.4" r="2.9"/><circle cx="791.6" cy="800.5" r="2.9"/><circle cx="794.8" cy="798.9" r="2.9"/><circle cx="795.6" cy="798.8" r="2.9"/><circle cx="798.4" cy="794.2" r="2.9"/><circle cx="799.9" cy="791.4" r="2.9"/><circle cx="806.1" cy="837.9" r="2.9"/><circle cx="808.0" cy="833.9" r="2.9"/><circle cx="810.0" cy="833.3" r="2.9"/><circle cx="812.7" cy="831.4" r="2.9"/><circle cx="813.8" cy="832.8" r="2.9"/><circle cx="815.7" cy="835.3" r="2.9"/><circle cx="818.7" cy="838.1" r="2.9"/><circle cx="820.6" cy="838.4" r="2.9"/><circle cx="824.2" cy="827.3" r="2.9"/><circle cx="831.0" cy="770.5" r="2.9"/><circle cx="833.0" cy="766.1" r="2.9"/><circle cx="833.9" cy="761.1" r="2.9"/><circle cx="837.0" cy="759.2" r="2.9"/><circle cx="838.2" cy="760.5" r="2.9"/><circle cx="844.0" cy="780.5" r="2.9"/><circle cx="846.4" cy="779.1" r="2.9"/><circle cx="848.8" cy="778.5" r="2.9"/><circle cx="850.1" cy="778.2" r="2.9"/><circle cx="851.8" cy="775.5" r="2.9"/><circle cx="854.6" cy="774.2" r="2.9"/><circle cx="855.8" cy="773.2" r="2.9"/><circle cx="858.8" cy="772.7" r="2.9"/><circle cx="865.8" cy="734.1" r="2.9"/><circle cx="871.0" cy="756.9" r="2.9"/><circle cx="871.9" cy="761.8" r="2.9"/><circle cx="874.7" cy="765.2" r="2.9"/><circle cx="875.8" cy="769.9" r="2.9"/><circle cx="878.0" cy="772.9" r="2.9"/><circle cx="880.4" cy="776.6" r="2.9"/><circle cx="882.1" cy="778.0" r="2.9"/><circle cx="885.1" cy="774.4" r="2.9"/><circle cx="891.7" cy="744.1" r="2.9"/><circle cx="893.7" cy="745.3" r="2.9"/><circle cx="899.2" cy="732.0" r="2.9"/><circle cx="900.7" cy="732.3" r="2.9"/><circle cx="901.9" cy="731.6" r="2.9"/><circle cx="903.7" cy="732.1" r="2.9"/><circle cx="906.2" cy="732.4" r="2.9"/><circle cx="908.2" cy="731.2" r="2.9"/><circle cx="910.7" cy="732.0" r="2.9"/><circle cx="912.6" cy="732.4" r="2.9"/><circle cx="913.8" cy="732.4" r="2.9"/><circle cx="918.2" cy="746.2" r="2.9"/><circle cx="921.0" cy="747.6" r="2.9"/><circle cx="922.5" cy="747.6" r="2.9"/><circle cx="924.3" cy="749.4" r="2.9"/><circle cx="926.7" cy="748.8" r="2.9"/><circle cx="928.8" cy="748.2" r="2.9"/><circle cx="930.9" cy="745.8" r="2.9"/><circle cx="932.6" cy="743.7" r="2.9"/><circle cx="934.1" cy="740.9" r="2.9"/><circle cx="941.7" cy="768.5" r="2.9"/><circle cx="944.8" cy="766.8" r="2.9"/><circle cx="946.6" cy="763.7" r="2.9"/><circle cx="948.3" cy="761.0" r="2.9"/><circle cx="950.6" cy="761.1" r="2.9"/><circle cx="952.7" cy="760.1" r="2.9"/><circle cx="953.9" cy="760.0" r="2.9"/><circle cx="960.8" cy="685.5" r="2.9"/><circle cx="962.4" cy="682.9" r="2.9"/><circle cx="963.6" cy="683.1" r="2.9"/><circle cx="965.8" cy="682.1" r="2.9"/><circle cx="969.1" cy="682.0" r="2.9"/><circle cx="969.7" cy="681.4" r="2.9"/><circle cx="972.4" cy="680.5" r="2.9"/><circle cx="974.4" cy="680.1" r="2.9"/><circle cx="976.9" cy="680.6" r="2.9"/><circle cx="978.2" cy="680.4" r="2.9"/><circle cx="979.9" cy="681.6" r="2.9"/><circle cx="984.2" cy="693.7" r="2.9"/><circle cx="989.8" cy="660.2" r="2.9"/><circle cx="992.1" cy="660.1" r="2.9"/><circle cx="994.0" cy="660.3" r="2.9"/><circle cx="995.6" cy="664.3" r="2.9"/><circle cx="1002.2" cy="752.8" r="2.9"/><circle cx="1008.1" cy="773.2" r="2.9"/><circle cx="1009.9" cy="773.8" r="2.9"/><circle cx="1017.1" cy="838.2" r="2.9"/><circle cx="1017.9" cy="839.3" r="2.9"/><circle cx="1024.2" cy="759.3" r="2.9"/><circle cx="1025.8" cy="755.3" r="2.9"/><circle cx="1028.9" cy="754.3" r="2.9"/><circle cx="1030.3" cy="753.7" r="2.9"/><circle cx="1031.9" cy="754.2" r="2.9"/><circle cx="1034.1" cy="756.2" r="2.9"/><circle cx="1036.9" cy="756.7" r="2.9"/><circle cx="1038.3" cy="757.8" r="2.9"/><circle cx="1040.5" cy="758.4" r="2.9"/><circle cx="1042.9" cy="759.9" r="2.9"/><circle cx="1044.9" cy="762.1" r="2.9"/><circle cx="1046.2" cy="764.1" r="2.9"/><circle cx="1048.3" cy="765.9" r="2.9"/><circle cx="1049.6" cy="766.3" r="2.9"/><circle cx="1052.0" cy="768.3" r="2.9"/><circle cx="1054.1" cy="763.4" r="2.9"/><circle cx="1056.3" cy="758.7" r="2.9"/><circle cx="1058.6" cy="754.8" r="2.9"/><circle cx="1061.1" cy="750.7" r="2.9"/><circle cx="1061.7" cy="748.0" r="2.9"/><circle cx="1069.0" cy="838.0" r="2.9"/><circle cx="1073.8" cy="822.7" r="2.9"/><circle cx="1076.6" cy="823.5" r="2.9"/><circle cx="1077.6" cy="820.8" r="2.9"/><circle cx="1080.6" cy="822.9" r="2.9"/><circle cx="1083.7" cy="833.2" r="2.9"/><circle cx="1090.0" cy="783.1" r="2.9"/><circle cx="1094.1" cy="796.8" r="2.9"/><circle cx="1097.0" cy="795.7" r="2.9"/><circle cx="1101.8" cy="776.7" r="2.9"/><circle cx="1104.5" cy="781.4" r="2.9"/><circle cx="1106.6" cy="785.7" r="2.9"/><circle cx="1110.8" cy="796.5" r="2.9"/><circle cx="1113.9" cy="781.0" r="2.9"/><circle cx="1116.4" cy="781.6" r="2.9"/><circle cx="1118.3" cy="781.8" r="2.9"/><circle cx="1122.5" cy="766.0" r="2.9"/><circle cx="1124.0" cy="766.2" r="2.9"/><circle cx="1126.4" cy="766.1" r="2.9"/><circle cx="1130.3" cy="754.8" r="2.9"/><circle cx="1136.4" cy="827.7" r="2.9"/><circle cx="1140.4" cy="813.9" r="2.9"/><circle cx="1141.6" cy="815.9" r="2.9"/><circle cx="1144.3" cy="820.9" r="2.9"/><circle cx="1146.6" cy="823.9" r="2.9"/><circle cx="1148.2" cy="820.7" r="2.9"/><circle cx="1151.1" cy="819.0" r="2.9"/><circle cx="1160.6" cy="747.0" r="2.9"/><circle cx="1161.6" cy="742.4" r="2.9"/><circle cx="1164.7" cy="742.1" r="2.9"/><circle cx="1166.1" cy="746.0" r="2.9"/><circle cx="1168.4" cy="749.8" r="2.9"/><circle cx="1177.0" cy="785.9" r="2.9"/><circle cx="1178.7" cy="787.5" r="2.9"/><circle cx="1180.1" cy="789.7" r="2.9"/><circle cx="1182.2" cy="793.1" r="2.9"/><circle cx="1190.4" cy="816.0" r="2.9"/><circle cx="1191.9" cy="820.1" r="2.9"/><circle cx="1194.3" cy="823.3" r="2.9"/><circle cx="1208.9" cy="870.3" r="2.9"/><circle cx="1210.9" cy="870.1" r="2.9"/><circle cx="1214.4" cy="887.9" r="2.9"/><circle cx="1224.4" cy="784.6" r="2.9"/><circle cx="1226.6" cy="783.8" r="2.9"/><circle cx="1228.1" cy="783.5" r="2.9"/><circle cx="1236.1" cy="803.7" r="2.9"/><circle cx="1238.6" cy="806.7" r="2.9"/><circle cx="1239.6" cy="810.1" r="2.9"/><circle cx="1243.0" cy="813.8" r="2.9"/><circle cx="1243.7" cy="816.5" r="2.9"/><circle cx="1245.6" cy="818.7" r="2.9"/><circle cx="1249.1" cy="819.9" r="2.9"/><circle cx="1254.6" cy="803.6" r="2.9"/><circle cx="1261.0" cy="819.4" r="2.9"/><circle cx="1262.6" cy="814.7" r="2.9"/><circle cx="1270.7" cy="869.2" r="2.9"/><circle cx="1272.7" cy="873.0" r="2.9"/><circle cx="1274.6" cy="873.0" r="2.9"/><circle cx="1276.8" cy="873.2" r="2.9"/><circle cx="1277.9" cy="872.7" r="2.9"/><circle cx="1280.8" cy="868.3" r="2.9"/><circle cx="1282.6" cy="866.3" r="2.9"/><circle cx="1290.9" cy="800.4" r="2.9"/><circle cx="1292.5" cy="802.7" r="2.9"/><circle cx="1294.1" cy="805.9" r="2.9"/><circle cx="1304.1" cy="855.9" r="2.9"/><circle cx="1306.6" cy="852.2" r="2.9"/><circle cx="1307.7" cy="850.9" r="2.9"/><circle cx="1313.6" cy="888.2" r="2.9"/><circle cx="1316.9" cy="885.3" r="2.9"/><circle cx="1319.0" cy="889.7" r="2.9"/><circle cx="1323.6" cy="859.9" r="2.9"/><circle cx="1326.5" cy="855.3" r="2.9"/><circle cx="1329.1" cy="853.6" r="2.9"/><circle cx="1336.2" cy="954.5" r="2.9"/><circle cx="1338.6" cy="957.1" r="2.9"/><circle cx="1339.8" cy="955.9" r="2.9"/><circle cx="1341.6" cy="952.8" r="2.9"/><circle cx="1343.8" cy="950.4" r="2.9"/><circle cx="1345.7" cy="950.6" r="2.9"/><circle cx="1347.8" cy="952.3" r="2.9"/><circle cx="1350.7" cy="951.9" r="2.9"/><circle cx="1358.8" cy="853.4" r="2.9"/><circle cx="1359.7" cy="853.1" r="2.9"/><circle cx="1362.7" cy="855.9" r="2.9"/><circle cx="1364.7" cy="860.4" r="2.9"/><circle cx="1370.6" cy="875.4" r="2.9"/><circle cx="1374.3" cy="867.0" r="2.9"/><circle cx="1376.0" cy="863.3" r="2.9"/><circle cx="1378.7" cy="862.1" r="2.9"/><circle cx="1379.6" cy="857.8" r="2.9"/><circle cx="1382.9" cy="859.8" r="2.9"/><circle cx="1384.1" cy="859.3" r="2.9"/><circle cx="1385.8" cy="859.8" r="2.9"/><circle cx="1388.4" cy="862.7" r="2.9"/><circle cx="1390.2" cy="863.2" r="2.9"/><circle cx="1392.3" cy="864.2" r="2.9"/><circle cx="1399.8" cy="957.9" r="2.9"/><circle cx="1406.2" cy="893.6" r="2.9"/><circle cx="1408.6" cy="894.1" r="2.9"/><circle cx="1420.2" cy="928.7" r="2.9"/><circle cx="1427.1" cy="895.0" r="2.9"/><circle cx="1428.5" cy="900.2" r="2.9"/><circle cx="1429.7" cy="903.1" r="2.9"/><circle cx="1432.7" cy="907.7" r="2.9"/><circle cx="1434.1" cy="912.5" r="2.9"/><circle cx="1437.1" cy="911.1" r="2.9"/><circle cx="1438.5" cy="907.8" r="2.9"/><circle cx="1440.3" cy="902.3" r="2.9"/><circle cx="1450.2" cy="856.1" r="2.9"/><circle cx="1452.5" cy="853.4" r="2.9"/><circle cx="1454.9" cy="852.4" r="2.9"/><circle cx="1455.6" cy="850.2" r="2.9"/></g>
<circle cx="403.2" cy="745.6" r="2.9" fill="#1f77b4"/>
<circle cx="403.2" cy="754.8" r="2.9" fill="#1f77b4"/>
<circle cx="403.2" cy="759.5" r="2.9" fill="#1f77b4"/>
<circle cx="403.2" cy="768.1" r="2.9" fill="#1f77b4"/>
<circle cx="403.2" cy="774.0" r="2.9" fill="#1f77b4"/>
<circle cx="403.2" cy="784.6" r="2.9" fill="#1f77b4"/>
<circle cx="390.0" cy="782.6" r="2.9" fill="#1f77b4"/>
<circle cx="449.5" cy="766.1" r="2.9" fill="#1f77b4"/>
<circle cx="354.3" cy="865.3" r="2.9" fill="#1f77b4"/>
<circle cx="474.6" cy="799.2" r="2.9" fill="#1f77b4"/>
<circle cx="503.7" cy="752.9" r="2.9" fill="#1f77b4"/>
<circle cx="503.7" cy="756.8" r="2.9" fill="#1f77b4"/>
<circle cx="503.7" cy="769.4" r="2.9" fill="#1f77b4"/>
<circle cx="503.7" cy="776.0" r="2.9" fill="#1f77b4"/>
<circle cx="486.5" cy="830.3" r="2.9" fill="#1f77b4"/>
<circle cx="486.5" cy="836.2" r="2.9" fill="#1f77b4"/>
<circle cx="547.3" cy="826.3" r="2.9" fill="#1f77b4"/>
<circle cx="552.6" cy="831.6" r="2.9" fill="#1f77b4"/>
<circle cx="557.9" cy="818.4" r="2.9" fill="#1f77b4"/>
<circle cx="576.4" cy="740.3" r="2.9" fill="#1f77b4"/>
<circle cx="482.5" cy="844.8" r="2.9" fill="#1f77b4"/>
<circle cx="524.2" cy="889.6" r="2.9" fill="#1f77b4"/>
<circle cx="576.4" cy="886.3" r="2.9" fill="#1f77b4"/>
<circle cx="464.0" cy="889.0" r="2.9" fill="#1f77b4"/>
<circle cx="493.7" cy="931.3" r="2.9" fill="#1f77b4"/>
<circle cx="666.3" cy="715.2" r="2.9" fill="#1f77b4"/>
<circle cx="666.3" cy="727.1" r="2.9" fill="#1f77b4"/>
<circle cx="656.4" cy="747.0" r="2.9" fill="#1f77b4"/>
<circle cx="603.4" cy="777.4" r="2.9" fill="#1f77b4"/>
<circle cx="577.0" cy="885.7" r="2.9" fill="#1f77b4"/>
<circle cx="629.2" cy="873.8" r="2.9" fill="#1f77b4"/>
<circle cx="629.2" cy="902.3" r="2.9" fill="#1f77b4"/>
<circle cx="617.3" cy="900.3" r="2.9" fill="#1f77b4"/>
<circle cx="621.3" cy="900.3" r="2.9" fill="#1f77b4"/>
<circle cx="676.2" cy="920.1" r="2.9" fill="#1f77b4"/>
<circle cx="647.8" cy="855.3" r="2.9" fill="#1f77b4"/>
<circle cx="708.5" cy="739.0" r="2.9" fill="#1f77b4"/>
<circle cx="696.0" cy="735.0" r="2.9" fill="#1f77b4"/>
<circle cx="781.3" cy="811.7" r="2.9" fill="#1f77b4"/>
<circle cx="782.6" cy="825.0" r="2.9" fill="#1f77b4"/>
<circle cx="790.6" cy="814.4" r="2.9" fill="#1f77b4"/>
<circle cx="771.4" cy="897.6" r="2.9" fill="#1f77b4"/>
<circle cx="748.2" cy="919.4" r="2.9" fill="#1f77b4"/>
<circle cx="807.8" cy="840.7" r="2.9" fill="#1f77b4"/>
<circle cx="846.7" cy="700.8" r="2.9" fill="#1f77b4"/>
<circle cx="846.7" cy="706.1" r="2.9" fill="#1f77b4"/>
<circle cx="853.3" cy="703.5" r="2.9" fill="#1f77b4"/>
<circle cx="860.6" cy="700.8" r="2.9" fill="#1f77b4"/>
<circle cx="869.8" cy="682.3" r="2.9" fill="#1f77b4"/>
<circle cx="910.8" cy="626.8" r="2.9" fill="#1f77b4"/>
<circle cx="910.8" cy="634.0" r="2.9" fill="#1f77b4"/>
<circle cx="910.8" cy="639.3" r="2.9" fill="#1f77b4"/>
<circle cx="910.8" cy="646.6" r="2.9" fill="#1f77b4"/>
<circle cx="910.8" cy="655.9" r="2.9" fill="#1f77b4"/>
<circle cx="910.8" cy="659.8" r="2.9" fill="#1f77b4"/>
<circle cx="918.1" cy="645.3" r="2.9" fill="#1f77b4"/>
<circle cx="918.1" cy="652.6" r="2.9" fill="#1f77b4"/>
<circle cx="909.5" cy="740.5" r="2.9" fill="#1f77b4"/>
<circle cx="820.9" cy="737.9" r="2.9" fill="#1f77b4"/>
<circle cx="819.6" cy="844.2" r="2.9" fill="#1f77b4"/>
<circle cx="808.3" cy="840.3" r="2.9" fill="#1f77b4"/>
<circle cx="882.4" cy="781.4" r="2.9" fill="#1f77b4"/>
<circle cx="861.2" cy="776.8" r="2.9" fill="#1f77b4"/>
<circle cx="895.0" cy="747.6" r="2.9" fill="#1f77b4"/>
<circle cx="920.1" cy="749.0" r="2.9" fill="#1f77b4"/>
<circle cx="859.9" cy="795.3" r="2.9" fill="#1f77b4"/>
<circle cx="859.9" cy="812.5" r="2.9" fill="#1f77b4"/>
<circle cx="859.9" cy="823.1" r="2.9" fill="#1f77b4"/>
<circle cx="859.9" cy="828.4" r="2.9" fill="#1f77b4"/>
<circle cx="859.9" cy="839.6" r="2.9" fill="#1f77b4"/>
<circle cx="859.9" cy="848.2" r="2.9" fill="#1f77b4"/>
<circle cx="859.9" cy="856.1" r="2.9" fill="#1f77b4"/>
<circle cx="859.9" cy="865.4" r="2.9" fill="#1f77b4"/>
<circle cx="859.9" cy="870.0" r="2.9" fill="#1f77b4"/>
<circle cx="859.9" cy="876.6" r="2.9" fill="#1f77b4"/>
<circle cx="859.9" cy="881.3" r="2.9" fill="#1f77b4"/>
<circle cx="859.9" cy="887.2" r="2.9" fill="#1f77b4"/>
<circle cx="859.9" cy="890.5" r="2.9" fill="#1f77b4"/>
<circle cx="859.9" cy="895.8" r="2.9" fill="#1f77b4"/>
<circle cx="859.9" cy="900.1" r="2.9" fill="#1f77b4"/>
<circle cx="859.9" cy="905.1" r="2.9" fill="#1f77b4"/>
<circle cx="859.9" cy="913.0" r="2.9" fill="#1f77b4"/>
<circle cx="859.9" cy="921.0" r="2.9" fill="#1f77b4"/>
<circle cx="965.9" cy="694.2" r="2.9" fill="#1f77b4"/>
<circle cx="1000.7" cy="680.4" r="2.9" fill="#1f77b4"/>
<circle cx="985.1" cy="700.6" r="2.9" fill="#1f77b4"/>
<circle cx="1142.2" cy="725.3" r="2.9" fill="#1f77b4"/>
<circle cx="1140.8" cy="731.2" r="2.9" fill="#1f77b4"/>
<circle cx="1066.8" cy="761.0" r="2.9" fill="#1f77b4"/>
<circle cx="1074.7" cy="761.0" r="2.9" fill="#1f77b4"/>
<circle cx="1124.3" cy="785.9" r="2.9" fill="#1f77b4"/>
<circle cx="1132.9" cy="754.8" r="2.9" fill="#1f77b4"/>
<circle cx="1075.4" cy="760.8" r="2.9" fill="#1f77b4"/>
<circle cx="1066.1" cy="761.5" r="2.9" fill="#1f77b4"/>
<circle cx="1175.1" cy="714.1" r="2.9" fill="#1f77b4"/>
<circle cx="1231.4" cy="718.7" r="2.9" fill="#1f77b4"/>
<circle cx="1231.4" cy="726.7" r="2.9" fill="#1f77b4"/>
<circle cx="1245.3" cy="737.9" r="2.9" fill="#1f77b4"/>
<circle cx="1193.0" cy="824.8" r="2.9" fill="#1f77b4"/>
<circle cx="1218.8" cy="798.4" r="2.9" fill="#1f77b4"/>
<circle cx="1218.8" cy="820.2" r="2.9" fill="#1f77b4"/>
<circle cx="1259.8" cy="824.8" r="2.9" fill="#1f77b4"/>
<circle cx="1202.9" cy="887.0" r="2.9" fill="#1f77b4"/>
<circle cx="1372.2" cy="716.5" r="2.9" fill="#1f77b4"/>
<circle cx="1372.2" cy="744.3" r="2.9" fill="#1f77b4"/>
<circle cx="1372.2" cy="764.8" r="2.9" fill="#1f77b4"/>
<circle cx="1372.2" cy="769.5" r="2.9" fill="#1f77b4"/>
<circle cx="1372.2" cy="791.3" r="2.9" fill="#1f77b4"/>
<circle cx="1372.2" cy="793.9" r="2.9" fill="#1f77b4"/>
<circle cx="1364.2" cy="805.8" r="2.9" fill="#1f77b4"/>
<circle cx="1280.2" cy="789.3" r="2.9" fill="#1f77b4"/>
<circle cx="1280.2" cy="805.8" r="2.9" fill="#1f77b4"/>
<circle cx="1285.5" cy="801.9" r="2.9" fill="#1f77b4"/>
<circle cx="1331.2" cy="865.9" r="2.9" fill="#1f77b4"/>
<circle cx="1331.2" cy="889.1" r="2.9" fill="#1f77b4"/>
<circle cx="1351.7" cy="871.9" r="2.9" fill="#1f77b4"/>
<circle cx="1351.7" cy="887.8" r="2.9" fill="#1f77b4"/>
<circle cx="1370.8" cy="881.2" r="2.9" fill="#1f77b4"/>
<circle cx="1404.1" cy="780.0" r="2.9" fill="#1f77b4"/>
<circle cx="1404.1" cy="801.2" r="2.9" fill="#1f77b4"/>
<circle cx="1404.1" cy="815.0" r="2.9" fill="#1f77b4"/>
<circle cx="1401.0" cy="975.6" r="2.9" fill="#1f77b4"/>
<circle cx="1401.0" cy="985.2" r="2.9" fill="#1f77b4"/>
<polyline points="120.4,941.0 121.9,916.4 124.2,942.5 127.3,907.2 129.6,898.0 131.9,891.8 134.2,905.7 136.5,888.8 138.8,907.2 141.1,894.9 143.4,957.9 145.7,961.0 148.8,970.2 151.1,962.5 154.2,957.9 156.5,967.1 159.5,951.7 163.4,967.1 167.2,928.7 170.3,924.1 172.6,927.2 174.1,891.8 176.4,927.2 180.3,948.7 182.6,914.9 185.7,913.3 188.7,936.4 191.8,893.4 196.4,884.2 198.7,888.8 201.0,896.4 203.3,888.8 205.6,922.6 207.9,899.5 210.2,953.3 213.3,939.5 216.4,982.5 219.5,962.5 222.5,971.7 228.7,962.5 231.7,976.3 234.1,910.8 237.2,964.1 240.2,935.4 242.3,939.5 245.4,926.2 248.4,925.2 252.5,931.3 256.6,939.5 259.7,912.9 262.8,921.1 266.9,919.0 272.0,908.8 277.1,960.0 280.2,951.8 283.2,964.1 286.3,960.0 289.4,972.3 292.5,955.9 295.5,966.1 300.7,914.9 302.7,931.3 305.8,855.5 309.9,871.9 314.0,849.4 318.1,859.6 322.2,845.3 325.2,841.2 328.3,888.3 332.4,886.3 335.5,908.8 340.6,904.7 343.7,984.6 346.7,947.7 347.6,968.4 350.3,943.2 354.3,934.0 358.2,959.1 361.5,969.7 363.5,960.4 365.5,968.4 368.2,902.2 371.5,902.2 375.4,919.4 378.1,910.1 380.7,915.4 384.7,896.9 386.0,890.1 386.0,885.0 388.0,823.6 390.6,838.2 392.6,835.6 394.6,851.4 397.3,854.1 399.2,832.9 402.6,826.3 405.2,854.1 407.2,830.3 409.8,890.1 409.8,900.9 413.8,918.1 416.4,922.0 419.1,964.4 421.7,976.3 425.7,968.4 428.4,903.5 430.3,911.5 431.7,885.0 432.3,855.4 435.0,867.3 438.9,850.1 441.6,848.8 444.2,827.6 448.2,822.3 450.8,840.8 452.8,819.7 456.1,830.3 458.8,818.4 461.4,827.6 462.6,831.6 465.3,825.0 467.9,832.9 470.6,828.9 473.2,830.3 474.3,890.1 474.8,898.2 475.9,911.5 479.8,895.6 482.5,894.3 486.5,887.6 490.4,889.0 493.7,899.6 497.0,887.6 498.1,885.0 498.4,814.4 501.0,827.6 503.7,821.0 506.3,826.3 509.6,822.3 511.6,818.4 514.2,827.6 516.9,826.3 519.5,832.9 522.2,822.3 524.2,842.2 526.2,830.3 528.8,826.3 531.4,814.4 534.1,819.7 536.7,809.1 539.4,794.5 540.7,814.4 541.8,890.1 542.3,902.2 544.7,889.0 552.6,887.6 554.6,896.9 557.9,887.6 561.2,886.3 563.2,885.0 564.5,814.4 566.5,805.1 568.5,818.4 571.1,801.2 573.8,819.7 576.4,798.5 580.3,792.6 582.9,795.3 584.9,788.6 586.9,799.2 589.6,796.6 592.2,801.9 594.2,811.1 595.5,793.9 598.2,821.7 600.1,840.2 602.1,828.3 604.4,855.1 605.4,855.3 606.8,896.3 608.1,947.9 610.1,926.7 612.0,945.3 616.0,928.1 620.0,941.3 623.3,930.7 627.3,942.6 628.6,850.0 629.2,855.1 629.9,799.2 631.2,813.8 633.2,805.8 635.9,795.3 639.8,804.5 642.5,821.7 646.4,820.4 647.8,824.4 649.8,811.1 651.7,823.0 654.4,790.0 658.4,783.4 661.7,796.6 665.0,780.7 668.9,775.4 671.6,778.1 673.2,855.1 673.6,856.6 675.6,879.1 678.2,863.2 680.8,876.5 683.5,871.2 686.8,889.7 690.1,857.9 692.6,857.2 694.2,840.0 695.3,761.4 697.9,770.7 700.6,773.4 704.6,790.6 707.2,768.1 709.8,787.9 712.5,782.6 715.1,774.7 717.8,794.5 721.8,780.0 723.7,768.1 725.7,798.5 728.4,780.0 731.0,793.2 735.0,785.3 737.0,769.4 738.4,845.1 739.0,840.0 739.6,855.9 744.2,849.3 749.5,859.8 752.2,854.6 754.8,862.5 758.1,851.9 759.1,840.0 759.9,776.0 762.1,839.5 764.1,828.9 768.1,825.0 770.7,832.9 773.4,819.7 774.7,834.2 776.7,736.3 780.0,758.8 782.6,744.2 787.9,772.0 791.9,754.8 795.8,727.0 798.5,742.9 802.5,729.7 805.1,801.1 807.6,797.9 810.3,795.3 812.9,796.6 815.6,792.6 818.2,805.9 820.9,786.0 823.5,803.2 825.1,745.0 825.5,750.1 826.2,728.6 829.5,745.8 832.8,737.9 839.4,730.0 842.0,735.2 843.4,755.6 847.3,747.6 851.3,750.3 855.3,745.0 857.3,724.7 858.6,788.7 861.2,630.7 863.2,651.9 865.2,630.7 867.8,645.3 869.8,681.0 871.2,719.4 873.8,733.9 876.4,732.6 880.4,745.8 881.7,747.6 884.4,751.6 887.7,735.2 891.0,650.6 893.6,708.8 898.9,715.4 903.6,696.9 906.9,714.1 908.9,719.4 910.8,682.3 913.5,707.5 917.5,677.0 920.1,722.0 922.8,687.8 925.5,722.6 929.2,726.3 931.9,711.6 936.5,730.0 940.2,739.1 942.9,741.0 945.7,730.0 950.3,722.6 953.9,752.0 955.8,645.6 959.4,638.2 962.2,662.1 967.7,658.4 973.2,660.2 975.0,651.1 978.7,662.1 982.4,658.4 984.2,665.7 987.9,623.5 991.6,634.5 995.2,629.0 997.1,618.0 1000.7,640.0 1002.6,695.1 1003.5,737.3 1006.2,728.1 1009.9,741.0 1012.5,760.0 1013.5,822.0 1013.6,742.8 1016.0,805.0 1019.0,826.0 1020.5,760.0 1021.5,712.0 1024.6,735.5 1028.3,728.1 1031.9,739.1 1037.6,712.0 1040.3,733.2 1044.3,716.0 1046.9,739.8 1049.6,735.8 1051.5,747.8 1054.8,733.2 1057.5,727.9 1060.8,735.8 1064.1,734.5 1066.1,714.7 1067.4,774.7 1068.1,814.4 1070.7,794.5 1073.4,809.1 1076.0,789.2 1078.7,805.1 1081.3,810.4 1084.0,814.4 1087.9,740.3 1091.9,748.2 1095.9,774.7 1099.8,745.6 1103.8,757.5 1107.8,745.6 1110.4,773.4 1115.7,742.9 1117.7,766.8 1119.0,735.0 1121.0,675.0 1126.3,735.8 1128.9,680.3 1132.9,692.2 1134.0,748.2 1136.9,809.1 1142.8,764.1 1147.5,798.5 1151.4,809.1 1153.3,760.0 1154.0,732.6 1156.6,719.4 1159.3,718.1 1162.6,706.2 1165.9,722.0 1169.2,726.0 1172.5,678.4 1175.1,741.9 1177.8,759.1 1181.1,753.8 1183.1,767.0 1184.4,759.1 1187.0,785.5 1189.7,775.0 1192.3,794.4 1196.3,790.4 1197.6,773.2 1200.3,826.2 1202.3,852.6 1204.2,856.6 1205.6,818.2 1208.2,856.6 1212.2,842.0 1214.8,865.8 1217.5,844.7 1218.8,797.0 1220.8,764.0 1221.4,759.1 1224.1,756.4 1226.1,747.2 1229.4,759.1 1233.4,777.6 1237.3,764.4 1241.3,797.0 1244.6,775.9 1248.6,805.0 1255.8,775.9 1259.8,794.4 1263.1,779.8 1265.1,815.6 1267.6,826.9 1270.3,845.4 1272.9,857.3 1275.6,848.1 1278.2,854.7 1280.9,836.2 1283.5,844.1 1284.8,815.0 1286.2,771.4 1288.8,776.7 1291.5,779.4 1295.4,784.7 1298.1,793.9 1299.4,803.2 1300.7,845.4 1303.4,828.2 1307.3,833.5 1310.0,784.7 1312.6,854.7 1315.3,845.4 1319.2,881.2 1323.9,815.0 1324.5,809.8 1328.5,832.3 1330.5,828.3 1331.8,894.4 1332.5,924.8 1336.4,930.1 1338.4,940.7 1340.4,924.8 1344.4,938.0 1347.0,931.4 1349.7,944.7 1351.7,854.7 1352.3,833.5 1356.3,825.6 1358.9,838.8 1362.9,832.2 1366.9,848.1 1369.5,838.8 1373.5,830.9 1376.1,852.0 1380.3,821.0 1382.9,843.5 1385.6,840.8 1388.2,832.9 1392.2,831.6 1395.5,818.4 1396.8,867.3 1398.8,846.1 1401.0,903.2 1403.4,854.1 1406.8,867.3 1409.4,855.4 1411.4,847.5 1414.7,867.3 1416.0,877.9 1418.0,813.1 1420.0,880.5 1422.9,858.2 1425.3,854.1 1428.6,839.5 1431.2,848.8 1433.2,873.9 1435.2,891.0 1437.8,868.6 1441.2,838.2 1443.8,848.8 1446.4,831.6 1448.4,798.5 1451.1,818.4 1454.4,803.8 1457.0,787.9 1459.7,821.0 1461.7,806.4 1463.6,862.0" fill="none" stroke="#ff7f0e" stroke-width="2.08" stroke-linejoin="round"/>
</g>
<g clip-path="url(#clipA)">
<polygon points="119.5,326.4 115.0,326.4 138.1,325.2 207.3,326.4 214.2,318.3 221.1,319.5 225.7,324.1 244.2,324.1 262.6,322.9 276.5,319.5 294.9,320.6 313.4,325.2 331.8,321.8 343.4,313.7 359.5,314.9 368.7,322.9 414.9,320.6 426.4,320.6 447.2,325.2 456.9,325.2 477.7,320.6 519.2,326.4 574.6,325.2 611.5,327.6 634.5,328.7 676.1,325.2 703.7,328.7 749.9,328.7 782.2,327.6 791.9,328.2 817.3,321.8 831.1,326.9 909.6,327.6 1015.7,327.6 1117.2,328.2 1132.0,329.3 1265.4,326.9 1370.8,325.7 1401.2,325.7 1466.8,328.1 1465.5,328.1 1465.5,339.0 1466.8,339.0 1370.8,344.4 1284.2,339.7 1132.0,338.6 1117.2,339.0 992.6,338.3 911.9,340.6 826.5,342.0 796.5,341.7 791.9,337.8 782.2,338.9 749.9,337.8 657.6,337.8 611.5,338.9 558.4,343.6 530.7,340.1 496.1,344.7 480.0,343.6 456.9,340.1 447.2,341.3 438.0,342.4 424.1,349.3 408.0,345.9 368.7,344.7 345.7,355.1 336.5,343.6 313.4,344.7 299.5,349.3 281.1,347.0 262.6,343.6 244.2,342.4 236.1,347.0 214.2,344.7 207.3,341.3 115.0,338.9 119.5,338.9" fill="#1f77b4"/>
<g fill="#1f77b4"><circle cx="119.4" cy="328.8" r="2.9"/><circle cx="122.0" cy="329.3" r="2.9"/><circle cx="122.8" cy="329.1" r="2.9"/><circle cx="126.0" cy="329.0" r="2.9"/><circle cx="127.6" cy="327.6" r="2.9"/><circle cx="130.1" cy="328.7" r="2.9"/><circle cx="131.8" cy="328.8" r="2.9"/><circle cx="133.3" cy="326.8" r="2.9"/><circle cx="135.6" cy="328.3" r="2.9"/><circle cx="137.0" cy="328.0" r="2.9"/><circle cx="140.2" cy="326.9" r="2.9"/><circle cx="141.7" cy="327.9" r="2.9"/><circle cx="143.4" cy="326.9" r="2.9"/><circle cx="145.1" cy="328.1" r="2.9"/><circle cx="148.0" cy="327.5" r="2.9"/><circle cx="148.8" cy="328.3" r="2.9"/><circle cx="151.9" cy="327.1" r="2.9"/><circle cx="153.6" cy="328.6" r="2.9"/><circle cx="156.1" cy="327.8" r="2.9"/><circle cx="157.5" cy="328.0" r="2.9"/><circle cx="159.0" cy="327.1" r="2.9"/><circle cx="161.0" cy="328.3" r="2.9"/><circle cx="163.3" cy="328.0" r="2.9"/><circle cx="165.3" cy="327.9" r="2.9"/><circle cx="166.9" cy="326.9" r="2.9"/><circle cx="170.3" cy="327.7" r="2.9"/><circle cx="170.9" cy="328.3" r="2.9"/><circle cx="174.0" cy="327.3" r="2.9"/><circle cx="175.7" cy="327.7" r="2.9"/><circle cx="177.5" cy="327.1" r="2.9"/><circle cx="178.8" cy="329.2" r="2.9"/><circle cx="182.1" cy="328.1" r="2.9"/><circle cx="183.6" cy="327.7" r="2.9"/><circle cx="185.9" cy="328.1" r="2.9"/><circle cx="188.2" cy="328.9" r="2.9"/><circle cx="190.0" cy="329.3" r="2.9"/><circle cx="191.1" cy="327.3" r="2.9"/><circle cx="193.0" cy="327.7" r="2.9"/><circle cx="194.8" cy="327.4" r="2.9"/><circle cx="197.6" cy="329.3" r="2.9"/><circle cx="199.4" cy="329.5" r="2.9"/><circle cx="202.2" cy="327.5" r="2.9"/><circle cx="203.7" cy="328.3" r="2.9"/><circle cx="204.9" cy="329.6" r="2.9"/><circle cx="207.1" cy="328.5" r="2.9"/><circle cx="209.7" cy="327.0" r="2.9"/><circle cx="211.8" cy="323.4" r="2.9"/><circle cx="213.4" cy="320.6" r="2.9"/><circle cx="216.2" cy="321.8" r="2.9"/><circle cx="217.1" cy="320.1" r="2.9"/><circle cx="219.1" cy="321.1" r="2.9"/><circle cx="222.1" cy="323.0" r="2.9"/><circle cx="224.0" cy="323.1" r="2.9"/><circle cx="226.0" cy="326.5" r="2.9"/><circle cx="227.7" cy="327.4" r="2.9"/><circle cx="228.8" cy="325.5" r="2.9"/><circle cx="231.9" cy="327.3" r="2.9"/><circle cx="233.8" cy="325.9" r="2.9"/><circle cx="235.6" cy="326.9" r="2.9"/><circle cx="236.9" cy="325.9" r="2.9"/><circle cx="239.1" cy="325.5" r="2.9"/><circle cx="241.5" cy="325.6" r="2.9"/><circle cx="243.1" cy="325.5" r="2.9"/><circle cx="245.8" cy="325.1" r="2.9"/><circle cx="247.8" cy="325.4" r="2.9"/><circle cx="248.8" cy="326.9" r="2.9"/><circle cx="251.1" cy="326.8" r="2.9"/><circle cx="254.1" cy="326.6" r="2.9"/><circle cx="254.9" cy="325.5" r="2.9"/><circle cx="256.9" cy="326.4" r="2.9"/><circle cx="260.0" cy="325.6" r="2.9"/><circle cx="261.4" cy="324.9" r="2.9"/><circle cx="264.0" cy="324.9" r="2.9"/><circle cx="265.7" cy="323.6" r="2.9"/><circle cx="267.1" cy="323.0" r="2.9"/><circle cx="269.8" cy="323.5" r="2.9"/><circle cx="270.9" cy="323.7" r="2.9"/><circle cx="273.1" cy="322.2" r="2.9"/><circle cx="274.9" cy="321.4" r="2.9"/><circle cx="278.0" cy="321.4" r="2.9"/><circle cx="279.0" cy="321.9" r="2.9"/><circle cx="281.2" cy="322.9" r="2.9"/><circle cx="282.9" cy="323.2" r="2.9"/><circle cx="284.8" cy="323.1" r="2.9"/><circle cx="287.8" cy="321.7" r="2.9"/><circle cx="289.5" cy="322.0" r="2.9"/><circle cx="291.1" cy="322.0" r="2.9"/><circle cx="293.3" cy="323.8" r="2.9"/><circle cx="296.3" cy="323.9" r="2.9"/><circle cx="296.9" cy="323.0" r="2.9"/><circle cx="300.1" cy="323.0" r="2.9"/><circle cx="301.9" cy="324.0" r="2.9"/><circle cx="304.3" cy="323.9" r="2.9"/><circle cx="306.0" cy="325.1" r="2.9"/><circle cx="306.9" cy="324.9" r="2.9"/><circle cx="310.0" cy="326.5" r="2.9"/><circle cx="311.0" cy="326.8" r="2.9"/><circle cx="314.2" cy="326.8" r="2.9"/><circle cx="315.6" cy="326.3" r="2.9"/><circle cx="317.0" cy="327.3" r="2.9"/><circle cx="319.8" cy="325.6" r="2.9"/><circle cx="320.8" cy="325.0" r="2.9"/><circle cx="323.7" cy="325.5" r="2.9"/><circle cx="325.1" cy="324.5" r="2.9"/><circle cx="327.7" cy="325.3" r="2.9"/><circle cx="330.0" cy="324.6" r="2.9"/><circle cx="331.0" cy="323.1" r="2.9"/><circle cx="333.9" cy="322.6" r="2.9"/><circle cx="335.9" cy="320.4" r="2.9"/><circle cx="338.0" cy="319.7" r="2.9"/><circle cx="340.0" cy="319.4" r="2.9"/><circle cx="341.5" cy="316.2" r="2.9"/><circle cx="344.2" cy="315.9" r="2.9"/><circle cx="346.1" cy="315.6" r="2.9"/><circle cx="347.0" cy="316.9" r="2.9"/><circle cx="349.3" cy="315.6" r="2.9"/><circle cx="351.3" cy="316.7" r="2.9"/><circle cx="352.7" cy="316.7" r="2.9"/><circle cx="355.4" cy="316.8" r="2.9"/><circle cx="356.9" cy="317.4" r="2.9"/><circle cx="360.0" cy="317.9" r="2.9"/><circle cx="361.2" cy="319.3" r="2.9"/><circle cx="363.3" cy="321.1" r="2.9"/><circle cx="364.8" cy="323.1" r="2.9"/><circle cx="368.2" cy="324.0" r="2.9"/><circle cx="369.5" cy="325.2" r="2.9"/><circle cx="371.6" cy="323.9" r="2.9"/><circle cx="374.2" cy="324.3" r="2.9"/><circle cx="375.0" cy="323.9" r="2.9"/><circle cx="377.1" cy="325.4" r="2.9"/><circle cx="378.7" cy="323.7" r="2.9"/><circle cx="381.8" cy="323.8" r="2.9"/><circle cx="382.7" cy="324.6" r="2.9"/><circle cx="385.6" cy="324.4" r="2.9"/><circle cx="387.8" cy="323.3" r="2.9"/><circle cx="390.1" cy="324.6" r="2.9"/><circle cx="390.8" cy="323.2" r="2.9"/><circle cx="393.5" cy="323.9" r="2.9"/><circle cx="395.1" cy="323.0" r="2.9"/><circle cx="397.3" cy="322.9" r="2.9"/><circle cx="399.6" cy="324.4" r="2.9"/><circle cx="400.9" cy="323.7" r="2.9"/><circle cx="403.9" cy="322.7" r="2.9"/><circle cx="406.0" cy="324.3" r="2.9"/><circle cx="407.3" cy="323.0" r="2.9"/><circle cx="410.0" cy="323.2" r="2.9"/><circle cx="411.3" cy="324.0" r="2.9"/><circle cx="413.9" cy="322.5" r="2.9"/><circle cx="415.1" cy="322.5" r="2.9"/><circle cx="417.4" cy="323.9" r="2.9"/><circle cx="420.0" cy="323.7" r="2.9"/><circle cx="422.0" cy="323.6" r="2.9"/><circle cx="422.8" cy="322.9" r="2.9"/><circle cx="426.2" cy="323.8" r="2.9"/><circle cx="427.1" cy="322.9" r="2.9"/><circle cx="429.7" cy="323.2" r="2.9"/><circle cx="431.5" cy="323.0" r="2.9"/><circle cx="433.4" cy="324.4" r="2.9"/><circle cx="434.7" cy="324.1" r="2.9"/><circle cx="438.3" cy="325.9" r="2.9"/><circle cx="440.2" cy="326.0" r="2.9"/><circle cx="442.0" cy="327.0" r="2.9"/><circle cx="444.1" cy="325.6" r="2.9"/><circle cx="445.7" cy="326.6" r="2.9"/><circle cx="447.8" cy="327.0" r="2.9"/><circle cx="449.6" cy="328.4" r="2.9"/><circle cx="451.7" cy="326.9" r="2.9"/><circle cx="453.5" cy="327.3" r="2.9"/><circle cx="456.2" cy="327.0" r="2.9"/><circle cx="457.2" cy="327.6" r="2.9"/><circle cx="458.9" cy="327.1" r="2.9"/><circle cx="462.2" cy="326.5" r="2.9"/><circle cx="463.1" cy="325.9" r="2.9"/><circle cx="465.6" cy="324.8" r="2.9"/><circle cx="466.9" cy="324.3" r="2.9"/><circle cx="469.2" cy="324.4" r="2.9"/><circle cx="471.2" cy="323.6" r="2.9"/><circle cx="472.8" cy="323.9" r="2.9"/><circle cx="476.0" cy="323.6" r="2.9"/><circle cx="477.6" cy="323.2" r="2.9"/><circle cx="479.0" cy="323.6" r="2.9"/><circle cx="481.4" cy="323.5" r="2.9"/><circle cx="483.7" cy="323.6" r="2.9"/><circle cx="485.2" cy="323.4" r="2.9"/><circle cx="487.1" cy="324.2" r="2.9"/><circle cx="489.3" cy="324.7" r="2.9"/><circle cx="490.7" cy="324.4" r="2.9"/><circle cx="494.1" cy="324.5" r="2.9"/><circle cx="495.6" cy="325.3" r="2.9"/><circle cx="497.2" cy="326.7" r="2.9"/><circle cx="499.2" cy="326.5" r="2.9"/><circle cx="501.0" cy="325.2" r="2.9"/><circle cx="504.1" cy="326.3" r="2.9"/><circle cx="504.8" cy="326.5" r="2.9"/><circle cx="507.4" cy="327.5" r="2.9"/><circle cx="508.9" cy="326.6" r="2.9"/><circle cx="512.2" cy="328.1" r="2.9"/><circle cx="512.9" cy="327.5" r="2.9"/><circle cx="515.3" cy="328.5" r="2.9"/><circle cx="517.7" cy="329.1" r="2.9"/><circle cx="520.0" cy="328.6" r="2.9"/><circle cx="521.9" cy="329.1" r="2.9"/><circle cx="523.9" cy="328.5" r="2.9"/><circle cx="526.0" cy="328.9" r="2.9"/><circle cx="528.2" cy="327.6" r="2.9"/><circle cx="530.1" cy="327.3" r="2.9"/><circle cx="531.9" cy="328.5" r="2.9"/><circle cx="533.5" cy="329.3" r="2.9"/><circle cx="535.6" cy="328.1" r="2.9"/><circle cx="538.0" cy="329.0" r="2.9"/><circle cx="539.7" cy="327.9" r="2.9"/><circle cx="541.4" cy="328.0" r="2.9"/><circle cx="543.9" cy="327.6" r="2.9"/><circle cx="545.3" cy="328.2" r="2.9"/><circle cx="547.3" cy="327.6" r="2.9"/><circle cx="550.0" cy="328.7" r="2.9"/><circle cx="551.5" cy="327.8" r="2.9"/><circle cx="553.0" cy="327.5" r="2.9"/><circle cx="554.9" cy="328.0" r="2.9"/><circle cx="557.6" cy="326.9" r="2.9"/><circle cx="560.2" cy="327.4" r="2.9"/><circle cx="562.0" cy="328.5" r="2.9"/><circle cx="564.2" cy="327.0" r="2.9"/><circle cx="565.4" cy="328.5" r="2.9"/><circle cx="566.7" cy="326.6" r="2.9"/><circle cx="569.6" cy="327.5" r="2.9"/><circle cx="572.2" cy="328.1" r="2.9"/><circle cx="573.6" cy="328.6" r="2.9"/><circle cx="575.5" cy="327.5" r="2.9"/><circle cx="577.8" cy="327.4" r="2.9"/><circle cx="579.3" cy="328.0" r="2.9"/><circle cx="581.3" cy="328.9" r="2.9"/><circle cx="583.8" cy="328.1" r="2.9"/><circle cx="584.9" cy="327.9" r="2.9"/><circle cx="587.3" cy="328.4" r="2.9"/><circle cx="589.6" cy="329.2" r="2.9"/><circle cx="592.2" cy="328.5" r="2.9"/><circle cx="593.4" cy="328.9" r="2.9"/><circle cx="596.3" cy="328.4" r="2.9"/><circle cx="597.5" cy="329.6" r="2.9"/><circle cx="599.0" cy="328.6" r="2.9"/><circle cx="602.3" cy="329.8" r="2.9"/><circle cx="603.5" cy="328.4" r="2.9"/><circle cx="606.1" cy="329.8" r="2.9"/><circle cx="608.0" cy="330.6" r="2.9"/><circle cx="610.1" cy="329.5" r="2.9"/><circle cx="611.0" cy="329.3" r="2.9"/><circle cx="613.5" cy="329.9" r="2.9"/><circle cx="615.0" cy="329.3" r="2.9"/><circle cx="617.7" cy="330.3" r="2.9"/><circle cx="619.3" cy="331.2" r="2.9"/><circle cx="621.7" cy="329.2" r="2.9"/><circle cx="623.4" cy="331.0" r="2.9"/><circle cx="625.2" cy="330.9" r="2.9"/><circle cx="626.7" cy="330.1" r="2.9"/><circle cx="630.0" cy="330.8" r="2.9"/><circle cx="631.8" cy="330.1" r="2.9"/><circle cx="633.5" cy="331.0" r="2.9"/><circle cx="635.1" cy="331.2" r="2.9"/><circle cx="637.6" cy="331.8" r="2.9"/><circle cx="639.6" cy="330.3" r="2.9"/><circle cx="640.9" cy="329.6" r="2.9"/><circle cx="643.9" cy="329.3" r="2.9"/><circle cx="644.9" cy="329.3" r="2.9"/><circle cx="647.5" cy="330.5" r="2.9"/><circle cx="649.7" cy="330.3" r="2.9"/><circle cx="650.8" cy="328.4" r="2.9"/><circle cx="653.9" cy="328.9" r="2.9"/><circle cx="655.8" cy="328.8" r="2.9"/><circle cx="657.0" cy="328.5" r="2.9"/><circle cx="658.9" cy="329.7" r="2.9"/><circle cx="661.6" cy="328.3" r="2.9"/><circle cx="663.4" cy="328.2" r="2.9"/><circle cx="664.8" cy="329.2" r="2.9"/><circle cx="667.6" cy="329.2" r="2.9"/><circle cx="669.4" cy="328.3" r="2.9"/><circle cx="671.1" cy="326.8" r="2.9"/><circle cx="674.2" cy="328.4" r="2.9"/><circle cx="675.2" cy="328.4" r="2.9"/><circle cx="678.0" cy="327.2" r="2.9"/><circle cx="679.7" cy="328.9" r="2.9"/><circle cx="681.5" cy="329.1" r="2.9"/><circle cx="683.1" cy="328.1" r="2.9"/><circle cx="685.8" cy="328.0" r="2.9"/><circle cx="687.2" cy="329.7" r="2.9"/><circle cx="689.5" cy="329.8" r="2.9"/><circle cx="691.1" cy="328.7" r="2.9"/><circle cx="693.3" cy="328.9" r="2.9"/><circle cx="696.3" cy="329.4" r="2.9"/><circle cx="697.6" cy="329.3" r="2.9"/><circle cx="699.6" cy="330.1" r="2.9"/><circle cx="701.3" cy="329.7" r="2.9"/><circle cx="702.9" cy="331.6" r="2.9"/><circle cx="705.3" cy="330.3" r="2.9"/><circle cx="707.0" cy="330.4" r="2.9"/><circle cx="709.1" cy="329.9" r="2.9"/><circle cx="711.8" cy="330.6" r="2.9"/><circle cx="712.9" cy="331.4" r="2.9"/><circle cx="714.8" cy="330.4" r="2.9"/><circle cx="718.0" cy="330.1" r="2.9"/><circle cx="719.4" cy="331.6" r="2.9"/><circle cx="722.0" cy="330.2" r="2.9"/><circle cx="723.3" cy="331.4" r="2.9"/><circle cx="725.3" cy="331.9" r="2.9"/><circle cx="727.0" cy="331.9" r="2.9"/><circle cx="729.5" cy="330.3" r="2.9"/><circle cx="731.4" cy="330.1" r="2.9"/><circle cx="733.8" cy="330.4" r="2.9"/><circle cx="736.1" cy="331.1" r="2.9"/><circle cx="737.3" cy="330.4" r="2.9"/><circle cx="739.7" cy="330.3" r="2.9"/><circle cx="742.1" cy="330.1" r="2.9"/><circle cx="743.5" cy="331.0" r="2.9"/><circle cx="745.1" cy="331.5" r="2.9"/><circle cx="747.3" cy="331.3" r="2.9"/><circle cx="749.6" cy="330.5" r="2.9"/><circle cx="751.3" cy="329.9" r="2.9"/><circle cx="753.0" cy="331.6" r="2.9"/><circle cx="755.2" cy="331.1" r="2.9"/><circle cx="756.9" cy="330.8" r="2.9"/><circle cx="759.3" cy="330.6" r="2.9"/><circle cx="761.2" cy="329.5" r="2.9"/><circle cx="763.2" cy="329.8" r="2.9"/><circle cx="764.9" cy="330.8" r="2.9"/><circle cx="767.2" cy="330.1" r="2.9"/><circle cx="770.2" cy="330.8" r="2.9"/><circle cx="772.1" cy="330.9" r="2.9"/><circle cx="772.9" cy="329.6" r="2.9"/><circle cx="774.7" cy="330.4" r="2.9"/><circle cx="777.8" cy="329.6" r="2.9"/><circle cx="779.4" cy="330.2" r="2.9"/><circle cx="781.8" cy="329.2" r="2.9"/><circle cx="784.1" cy="329.5" r="2.9"/><circle cx="785.7" cy="329.3" r="2.9"/><circle cx="786.9" cy="331.0" r="2.9"/><circle cx="789.9" cy="330.7" r="2.9"/><circle cx="790.8" cy="329.4" r="2.9"/><circle cx="793.0" cy="329.4" r="2.9"/><circle cx="795.2" cy="329.3" r="2.9"/><circle cx="796.8" cy="328.6" r="2.9"/><circle cx="799.7" cy="327.8" r="2.9"/><circle cx="802.0" cy="328.2" r="2.9"/><circle cx="803.8" cy="327.0" r="2.9"/><circle cx="805.4" cy="327.4" r="2.9"/><circle cx="807.3" cy="325.4" r="2.9"/><circle cx="810.0" cy="326.6" r="2.9"/><circle cx="811.2" cy="324.5" r="2.9"/><circle cx="814.1" cy="325.2" r="2.9"/><circle cx="814.8" cy="323.9" r="2.9"/><circle cx="816.9" cy="324.7" r="2.9"/><circle cx="819.0" cy="325.7" r="2.9"/><circle cx="821.9" cy="324.6" r="2.9"/><circle cx="823.8" cy="326.0" r="2.9"/><circle cx="825.9" cy="327.7" r="2.9"/><circle cx="827.1" cy="326.8" r="2.9"/><circle cx="830.2" cy="328.3" r="2.9"/><circle cx="832.2" cy="329.5" r="2.9"/><circle cx="833.9" cy="329.8" r="2.9"/><circle cx="835.7" cy="329.0" r="2.9"/><circle cx="836.8" cy="329.6" r="2.9"/><circle cx="839.4" cy="329.2" r="2.9"/><circle cx="842.2" cy="328.3" r="2.9"/><circle cx="843.9" cy="328.2" r="2.9"/><circle cx="845.8" cy="329.9" r="2.9"/><circle cx="847.1" cy="329.3" r="2.9"/><circle cx="850.3" cy="329.5" r="2.9"/><circle cx="851.6" cy="328.7" r="2.9"/><circle cx="852.8" cy="328.9" r="2.9"/><circle cx="855.4" cy="328.6" r="2.9"/><circle cx="857.2" cy="328.5" r="2.9"/><circle cx="859.8" cy="329.7" r="2.9"/><circle cx="861.1" cy="328.8" r="2.9"/><circle cx="863.5" cy="329.2" r="2.9"/><circle cx="866.2" cy="329.0" r="2.9"/><circle cx="867.2" cy="330.2" r="2.9"/><circle cx="868.9" cy="329.5" r="2.9"/><circle cx="871.2" cy="330.1" r="2.9"/><circle cx="873.6" cy="330.0" r="2.9"/><circle cx="875.0" cy="329.8" r="2.9"/><circle cx="877.7" cy="329.4" r="2.9"/><circle cx="879.9" cy="330.2" r="2.9"/><circle cx="880.9" cy="329.0" r="2.9"/><circle cx="883.3" cy="328.9" r="2.9"/><circle cx="884.8" cy="329.1" r="2.9"/><circle cx="887.0" cy="330.0" r="2.9"/><circle cx="889.4" cy="328.7" r="2.9"/><circle cx="891.2" cy="329.5" r="2.9"/><circle cx="893.3" cy="328.9" r="2.9"/><circle cx="894.8" cy="328.6" r="2.9"/><circle cx="898.3" cy="330.2" r="2.9"/><circle cx="898.8" cy="330.1" r="2.9"/><circle cx="902.3" cy="329.8" r="2.9"/><circle cx="902.9" cy="329.7" r="2.9"/><circle cx="905.4" cy="329.0" r="2.9"/><circle cx="907.6" cy="328.7" r="2.9"/><circle cx="910.2" cy="330.1" r="2.9"/><circle cx="911.7" cy="330.7" r="2.9"/><circle cx="913.7" cy="329.2" r="2.9"/><circle cx="915.1" cy="329.0" r="2.9"/><circle cx="916.7" cy="330.4" r="2.9"/><circle cx="920.0" cy="329.3" r="2.9"/><circle cx="921.0" cy="330.1" r="2.9"/><circle cx="924.1" cy="330.7" r="2.9"/><circle cx="925.0" cy="330.4" r="2.9"/><circle cx="928.0" cy="330.3" r="2.9"/><circle cx="929.2" cy="329.1" r="2.9"/><circle cx="932.0" cy="329.4" r="2.9"/><circle cx="933.3" cy="329.9" r="2.9"/><circle cx="935.3" cy="330.5" r="2.9"/><circle cx="937.1" cy="328.7" r="2.9"/><circle cx="939.6" cy="330.0" r="2.9"/><circle cx="942.0" cy="330.2" r="2.9"/><circle cx="944.1" cy="330.7" r="2.9"/><circle cx="945.5" cy="329.8" r="2.9"/><circle cx="947.0" cy="329.3" r="2.9"/><circle cx="949.6" cy="328.8" r="2.9"/><circle cx="951.8" cy="329.0" r="2.9"/><circle cx="953.4" cy="330.8" r="2.9"/><circle cx="954.8" cy="328.7" r="2.9"/><circle cx="957.4" cy="329.1" r="2.9"/><circle cx="959.9" cy="328.7" r="2.9"/><circle cx="962.0" cy="330.5" r="2.9"/><circle cx="964.0" cy="329.6" r="2.9"/><circle cx="965.2" cy="330.1" r="2.9"/><circle cx="967.5" cy="329.6" r="2.9"/><circle cx="969.2" cy="329.6" r="2.9"/><circle cx="971.8" cy="330.5" r="2.9"/><circle cx="974.1" cy="329.0" r="2.9"/><circle cx="975.2" cy="329.6" r="2.9"/><circle cx="977.6" cy="329.4" r="2.9"/><circle cx="979.0" cy="328.8" r="2.9"/><circle cx="981.2" cy="329.7" r="2.9"/><circle cx="984.3" cy="330.7" r="2.9"/><circle cx="986.1" cy="330.8" r="2.9"/><circle cx="988.2" cy="330.0" r="2.9"/><circle cx="990.0" cy="328.8" r="2.9"/><circle cx="991.8" cy="330.0" r="2.9"/><circle cx="993.2" cy="329.9" r="2.9"/><circle cx="996.2" cy="329.7" r="2.9"/><circle cx="997.7" cy="329.3" r="2.9"/><circle cx="999.2" cy="330.6" r="2.9"/><circle cx="1000.7" cy="329.1" r="2.9"/><circle cx="1003.8" cy="329.6" r="2.9"/><circle cx="1004.8" cy="330.1" r="2.9"/><circle cx="1007.3" cy="329.9" r="2.9"/><circle cx="1009.4" cy="329.8" r="2.9"/><circle cx="1011.6" cy="329.5" r="2.9"/><circle cx="1012.9" cy="329.1" r="2.9"/><circle cx="1016.1" cy="329.9" r="2.9"/><circle cx="1016.9" cy="330.6" r="2.9"/><circle cx="1019.1" cy="328.9" r="2.9"/><circle cx="1021.5" cy="329.2" r="2.9"/><circle cx="1023.5" cy="329.9" r="2.9"/><circle cx="1025.1" cy="330.0" r="2.9"/><circle cx="1026.9" cy="329.9" r="2.9"/><circle cx="1029.6" cy="328.9" r="2.9"/><circle cx="1031.4" cy="328.9" r="2.9"/><circle cx="1033.4" cy="330.7" r="2.9"/><circle cx="1035.6" cy="330.4" r="2.9"/><circle cx="1037.9" cy="329.1" r="2.9"/><circle cx="1040.3" cy="330.4" r="2.9"/><circle cx="1040.9" cy="330.7" r="2.9"/><circle cx="1043.3" cy="329.2" r="2.9"/><circle cx="1046.2" cy="330.1" r="2.9"/><circle cx="1047.9" cy="329.2" r="2.9"/><circle cx="1049.9" cy="329.0" r="2.9"/><circle cx="1051.1" cy="329.7" r="2.9"/><circle cx="1052.7" cy="330.2" r="2.9"/><circle cx="1055.0" cy="329.6" r="2.9"/><circle cx="1057.8" cy="329.9" r="2.9"/><circle cx="1060.1" cy="330.3" r="2.9"/><circle cx="1062.1" cy="330.2" r="2.9"/><circle cx="1064.2" cy="330.9" r="2.9"/><circle cx="1065.0" cy="330.6" r="2.9"/><circle cx="1067.2" cy="330.7" r="2.9"/><circle cx="1069.8" cy="330.8" r="2.9"/><circle cx="1070.9" cy="329.9" r="2.9"/><circle cx="1073.9" cy="331.1" r="2.9"/><circle cx="1075.9" cy="329.2" r="2.9"/><circle cx="1077.7" cy="329.3" r="2.9"/><circle cx="1079.6" cy="330.9" r="2.9"/><circle cx="1080.9" cy="331.1" r="2.9"/><circle cx="1083.8" cy="329.7" r="2.9"/><circle cx="1085.0" cy="330.1" r="2.9"/><circle cx="1088.0" cy="330.4" r="2.9"/><circle cx="1088.9" cy="329.2" r="2.9"/><circle cx="1090.9" cy="330.9" r="2.9"/><circle cx="1093.0" cy="330.4" r="2.9"/><circle cx="1095.2" cy="330.7" r="2.9"/><circle cx="1097.3" cy="329.5" r="2.9"/><circle cx="1100.1" cy="330.4" r="2.9"/><circle cx="1101.8" cy="331.0" r="2.9"/><circle cx="1104.2" cy="329.3" r="2.9"/><circle cx="1105.2" cy="329.6" r="2.9"/><circle cx="1107.5" cy="331.2" r="2.9"/><circle cx="1110.0" cy="329.4" r="2.9"/><circle cx="1111.0" cy="331.1" r="2.9"/><circle cx="1113.8" cy="330.2" r="2.9"/><circle cx="1115.5" cy="329.7" r="2.9"/><circle cx="1118.1" cy="330.2" r="2.9"/><circle cx="1120.1" cy="330.8" r="2.9"/><circle cx="1120.8" cy="330.4" r="2.9"/><circle cx="1123.0" cy="331.7" r="2.9"/><circle cx="1125.6" cy="330.0" r="2.9"/><circle cx="1127.0" cy="330.8" r="2.9"/><circle cx="1129.4" cy="331.5" r="2.9"/><circle cx="1131.3" cy="331.1" r="2.9"/><circle cx="1132.7" cy="331.6" r="2.9"/><circle cx="1135.2" cy="330.3" r="2.9"/><circle cx="1137.4" cy="332.4" r="2.9"/><circle cx="1138.8" cy="330.5" r="2.9"/><circle cx="1141.8" cy="330.8" r="2.9"/><circle cx="1143.1" cy="331.3" r="2.9"/><circle cx="1145.1" cy="331.4" r="2.9"/><circle cx="1147.5" cy="332.2" r="2.9"/><circle cx="1150.3" cy="330.1" r="2.9"/><circle cx="1151.6" cy="331.7" r="2.9"/><circle cx="1154.1" cy="331.7" r="2.9"/><circle cx="1155.7" cy="331.3" r="2.9"/><circle cx="1157.3" cy="330.5" r="2.9"/><circle cx="1160.0" cy="331.8" r="2.9"/><circle cx="1162.2" cy="331.3" r="2.9"/><circle cx="1163.2" cy="331.5" r="2.9"/><circle cx="1165.9" cy="330.9" r="2.9"/><circle cx="1167.7" cy="330.5" r="2.9"/><circle cx="1169.6" cy="330.6" r="2.9"/><circle cx="1170.8" cy="330.4" r="2.9"/><circle cx="1173.2" cy="331.8" r="2.9"/><circle cx="1175.5" cy="330.4" r="2.9"/><circle cx="1177.1" cy="330.1" r="2.9"/><circle cx="1179.3" cy="329.8" r="2.9"/><circle cx="1180.7" cy="331.4" r="2.9"/><circle cx="1183.4" cy="330.4" r="2.9"/><circle cx="1185.6" cy="330.1" r="2.9"/><circle cx="1187.0" cy="329.5" r="2.9"/><circle cx="1189.2" cy="330.0" r="2.9"/><circle cx="1191.9" cy="330.5" r="2.9"/><circle cx="1194.2" cy="330.0" r="2.9"/><circle cx="1196.2" cy="330.5" r="2.9"/><circle cx="1196.8" cy="329.6" r="2.9"/><circle cx="1199.6" cy="331.3" r="2.9"/><circle cx="1201.3" cy="330.8" r="2.9"/><circle cx="1203.4" cy="331.0" r="2.9"/><circle cx="1204.8" cy="330.1" r="2.9"/><circle cx="1208.1" cy="329.6" r="2.9"/><circle cx="1209.1" cy="329.0" r="2.9"/><circle cx="1211.0" cy="329.5" r="2.9"/><circle cx="1213.8" cy="329.4" r="2.9"/><circle cx="1215.3" cy="329.3" r="2.9"/><circle cx="1217.7" cy="330.8" r="2.9"/><circle cx="1219.7" cy="329.3" r="2.9"/><circle cx="1221.9" cy="330.9" r="2.9"/><circle cx="1223.7" cy="328.9" r="2.9"/><circle cx="1226.0" cy="330.6" r="2.9"/><circle cx="1227.2" cy="329.0" r="2.9"/><circle cx="1229.0" cy="329.8" r="2.9"/><circle cx="1232.1" cy="330.0" r="2.9"/><circle cx="1234.2" cy="329.0" r="2.9"/><circle cx="1235.2" cy="330.2" r="2.9"/><circle cx="1237.7" cy="329.4" r="2.9"/><circle cx="1239.8" cy="329.2" r="2.9"/><circle cx="1240.8" cy="329.3" r="2.9"/><circle cx="1242.8" cy="329.8" r="2.9"/><circle cx="1245.2" cy="329.4" r="2.9"/><circle cx="1247.7" cy="328.9" r="2.9"/><circle cx="1249.4" cy="328.3" r="2.9"/><circle cx="1252.2" cy="329.5" r="2.9"/><circle cx="1254.3" cy="328.3" r="2.9"/><circle cx="1255.7" cy="329.8" r="2.9"/><circle cx="1257.2" cy="328.4" r="2.9"/><circle cx="1258.9" cy="328.4" r="2.9"/><circle cx="1261.9" cy="328.3" r="2.9"/><circle cx="1264.0" cy="329.0" r="2.9"/><circle cx="1265.6" cy="329.3" r="2.9"/><circle cx="1267.6" cy="329.4" r="2.9"/><circle cx="1269.7" cy="328.7" r="2.9"/><circle cx="1271.9" cy="328.5" r="2.9"/><circle cx="1273.8" cy="329.6" r="2.9"/><circle cx="1275.9" cy="328.6" r="2.9"/><circle cx="1277.9" cy="330.0" r="2.9"/><circle cx="1279.4" cy="328.5" r="2.9"/><circle cx="1281.5" cy="329.9" r="2.9"/><circle cx="1282.9" cy="327.8" r="2.9"/><circle cx="1285.5" cy="329.2" r="2.9"/><circle cx="1287.9" cy="328.6" r="2.9"/><circle cx="1290.3" cy="328.2" r="2.9"/><circle cx="1291.9" cy="327.9" r="2.9"/><circle cx="1292.7" cy="328.0" r="2.9"/><circle cx="1294.8" cy="328.8" r="2.9"/><circle cx="1297.6" cy="328.1" r="2.9"/><circle cx="1300.2" cy="328.4" r="2.9"/><circle cx="1300.9" cy="328.0" r="2.9"/><circle cx="1303.9" cy="329.6" r="2.9"/><circle cx="1305.0" cy="327.6" r="2.9"/><circle cx="1307.9" cy="328.1" r="2.9"/><circle cx="1310.3" cy="328.6" r="2.9"/><circle cx="1311.7" cy="328.3" r="2.9"/><circle cx="1314.0" cy="328.5" r="2.9"/><circle cx="1315.2" cy="329.4" r="2.9"/><circle cx="1316.9" cy="329.0" r="2.9"/><circle cx="1318.8" cy="328.8" r="2.9"/><circle cx="1321.3" cy="329.3" r="2.9"/><circle cx="1322.8" cy="328.6" r="2.9"/><circle cx="1325.4" cy="329.4" r="2.9"/><circle cx="1328.2" cy="328.7" r="2.9"/><circle cx="1329.1" cy="327.9" r="2.9"/><circle cx="1331.1" cy="328.2" r="2.9"/><circle cx="1333.1" cy="327.7" r="2.9"/><circle cx="1335.9" cy="328.6" r="2.9"/><circle cx="1337.2" cy="329.4" r="2.9"/><circle cx="1339.0" cy="328.4" r="2.9"/><circle cx="1341.0" cy="329.1" r="2.9"/><circle cx="1344.1" cy="327.7" r="2.9"/><circle cx="1345.9" cy="328.9" r="2.9"/><circle cx="1347.2" cy="327.8" r="2.9"/><circle cx="1349.5" cy="329.0" r="2.9"/><circle cx="1351.0" cy="328.6" r="2.9"/><circle cx="1353.7" cy="328.0" r="2.9"/><circle cx="1355.6" cy="329.0" r="2.9"/><circle cx="1357.0" cy="328.9" r="2.9"/><circle cx="1359.3" cy="328.7" r="2.9"/><circle cx="1362.1" cy="327.3" r="2.9"/><circle cx="1364.1" cy="329.1" r="2.9"/><circle cx="1365.2" cy="327.0" r="2.9"/><circle cx="1366.9" cy="329.0" r="2.9"/><circle cx="1368.7" cy="328.9" r="2.9"/><circle cx="1370.9" cy="328.5" r="2.9"/><circle cx="1372.9" cy="327.2" r="2.9"/><circle cx="1375.8" cy="327.0" r="2.9"/><circle cx="1377.2" cy="328.9" r="2.9"/><circle cx="1379.8" cy="328.8" r="2.9"/><circle cx="1382.3" cy="326.9" r="2.9"/><circle cx="1383.1" cy="328.6" r="2.9"/><circle cx="1385.8" cy="326.9" r="2.9"/><circle cx="1387.5" cy="327.4" r="2.9"/><circle cx="1389.4" cy="327.1" r="2.9"/><circle cx="1390.7" cy="329.0" r="2.9"/><circle cx="1393.2" cy="328.8" r="2.9"/><circle cx="1394.9" cy="327.9" r="2.9"/><circle cx="1396.9" cy="327.8" r="2.9"/><circle cx="1399.0" cy="328.3" r="2.9"/><circle cx="1400.9" cy="328.5" r="2.9"/><circle cx="1403.5" cy="327.2" r="2.9"/><circle cx="1405.3" cy="328.1" r="2.9"/><circle cx="1408.2" cy="327.8" r="2.9"/><circle cx="1409.0" cy="329.3" r="2.9"/><circle cx="1412.1" cy="328.8" r="2.9"/><circle cx="1413.1" cy="327.7" r="2.9"/><circle cx="1415.1" cy="327.5" r="2.9"/><circle cx="1416.8" cy="328.5" r="2.9"/><circle cx="1419.4" cy="328.7" r="2.9"/><circle cx="1421.3" cy="327.6" r="2.9"/><circle cx="1423.8" cy="329.1" r="2.9"/><circle cx="1425.6" cy="328.9" r="2.9"/><circle cx="1427.8" cy="329.9" r="2.9"/><circle cx="1430.1" cy="329.4" r="2.9"/><circle cx="1431.3" cy="328.6" r="2.9"/><circle cx="1433.4" cy="330.1" r="2.9"/><circle cx="1435.3" cy="328.9" r="2.9"/><circle cx="1437.4" cy="328.5" r="2.9"/><circle cx="1440.3" cy="328.2" r="2.9"/><circle cx="1441.7" cy="330.3" r="2.9"/><circle cx="1443.1" cy="329.7" r="2.9"/><circle cx="1445.3" cy="329.0" r="2.9"/><circle cx="1447.0" cy="328.8" r="2.9"/><circle cx="1450.0" cy="330.3" r="2.9"/><circle cx="1452.2" cy="328.7" r="2.9"/><circle cx="1453.8" cy="329.4" r="2.9"/><circle cx="1455.7" cy="330.0" r="2.9"/><circle cx="1457.2" cy="331.0" r="2.9"/><circle cx="1458.7" cy="330.6" r="2.9"/><circle cx="1462.1" cy="330.1" r="2.9"/><circle cx="1463.6" cy="331.3" r="2.9"/><circle cx="1465.1" cy="330.5" r="2.9"/><circle cx="119.9" cy="337.0" r="2.9"/><circle cx="121.8" cy="337.0" r="2.9"/><circle cx="123.5" cy="336.6" r="2.9"/><circle cx="125.8" cy="337.3" r="2.9"/><circle cx="127.7" cy="336.9" r="2.9"/><circle cx="129.1" cy="336.8" r="2.9"/><circle cx="131.1" cy="336.2" r="2.9"/><circle cx="133.5" cy="336.6" r="2.9"/><circle cx="135.5" cy="337.2" r="2.9"/><circle cx="137.1" cy="338.0" r="2.9"/><circle cx="140.2" cy="337.2" r="2.9"/><circle cx="141.5" cy="337.3" r="2.9"/><circle cx="144.0" cy="338.0" r="2.9"/><circle cx="145.0" cy="336.7" r="2.9"/><circle cx="147.4" cy="337.2" r="2.9"/><circle cx="150.0" cy="336.7" r="2.9"/><circle cx="152.1" cy="338.6" r="2.9"/><circle cx="153.3" cy="336.9" r="2.9"/><circle cx="156.0" cy="338.5" r="2.9"/><circle cx="156.9" cy="338.3" r="2.9"/><circle cx="158.9" cy="338.1" r="2.9"/><circle cx="162.0" cy="337.8" r="2.9"/><circle cx="163.4" cy="338.8" r="2.9"/><circle cx="165.3" cy="336.9" r="2.9"/><circle cx="167.8" cy="338.1" r="2.9"/><circle cx="169.5" cy="337.4" r="2.9"/><circle cx="171.9" cy="338.9" r="2.9"/><circle cx="173.8" cy="338.5" r="2.9"/><circle cx="175.5" cy="338.8" r="2.9"/><circle cx="177.3" cy="338.6" r="2.9"/><circle cx="179.3" cy="339.4" r="2.9"/><circle cx="181.0" cy="338.2" r="2.9"/><circle cx="182.8" cy="339.1" r="2.9"/><circle cx="185.8" cy="339.0" r="2.9"/><circle cx="187.2" cy="339.1" r="2.9"/><circle cx="190.0" cy="339.5" r="2.9"/><circle cx="191.7" cy="337.9" r="2.9"/><circle cx="193.0" cy="338.9" r="2.9"/><circle cx="196.0" cy="338.5" r="2.9"/><circle cx="197.3" cy="339.8" r="2.9"/><circle cx="199.4" cy="339.1" r="2.9"/><circle cx="201.8" cy="339.4" r="2.9"/><circle cx="203.4" cy="338.6" r="2.9"/><circle cx="206.0" cy="339.3" r="2.9"/><circle cx="207.3" cy="339.0" r="2.9"/><circle cx="210.2" cy="340.8" r="2.9"/><circle cx="212.3" cy="340.7" r="2.9"/><circle cx="213.3" cy="341.8" r="2.9"/><circle cx="215.2" cy="343.6" r="2.9"/><circle cx="217.9" cy="343.1" r="2.9"/><circle cx="219.5" cy="343.1" r="2.9"/><circle cx="222.1" cy="342.7" r="2.9"/><circle cx="222.7" cy="343.3" r="2.9"/><circle cx="225.4" cy="343.8" r="2.9"/><circle cx="228.0" cy="344.1" r="2.9"/><circle cx="229.5" cy="343.3" r="2.9"/><circle cx="231.4" cy="344.4" r="2.9"/><circle cx="233.5" cy="343.8" r="2.9"/><circle cx="235.8" cy="344.2" r="2.9"/><circle cx="237.3" cy="345.0" r="2.9"/><circle cx="239.8" cy="342.8" r="2.9"/><circle cx="241.9" cy="341.1" r="2.9"/><circle cx="242.9" cy="341.2" r="2.9"/><circle cx="244.8" cy="339.6" r="2.9"/><circle cx="246.9" cy="341.3" r="2.9"/><circle cx="249.9" cy="340.4" r="2.9"/><circle cx="250.8" cy="340.3" r="2.9"/><circle cx="253.8" cy="340.8" r="2.9"/><circle cx="254.8" cy="340.5" r="2.9"/><circle cx="257.4" cy="340.9" r="2.9"/><circle cx="260.3" cy="340.5" r="2.9"/><circle cx="262.1" cy="342.1" r="2.9"/><circle cx="263.2" cy="341.5" r="2.9"/><circle cx="264.7" cy="340.8" r="2.9"/><circle cx="267.1" cy="342.8" r="2.9"/><circle cx="269.2" cy="343.2" r="2.9"/><circle cx="272.1" cy="342.9" r="2.9"/><circle cx="273.5" cy="343.6" r="2.9"/><circle cx="274.8" cy="344.2" r="2.9"/><circle cx="278.1" cy="343.5" r="2.9"/><circle cx="280.1" cy="345.1" r="2.9"/><circle cx="281.0" cy="345.9" r="2.9"/><circle cx="283.6" cy="345.4" r="2.9"/><circle cx="285.4" cy="345.4" r="2.9"/><circle cx="287.6" cy="345.9" r="2.9"/><circle cx="290.0" cy="346.5" r="2.9"/><circle cx="292.2" cy="346.0" r="2.9"/><circle cx="292.8" cy="346.8" r="2.9"/><circle cx="295.6" cy="346.8" r="2.9"/><circle cx="297.6" cy="347.3" r="2.9"/><circle cx="299.1" cy="346.5" r="2.9"/><circle cx="301.2" cy="346.0" r="2.9"/><circle cx="304.0" cy="345.6" r="2.9"/><circle cx="305.4" cy="344.2" r="2.9"/><circle cx="307.4" cy="343.6" r="2.9"/><circle cx="308.8" cy="344.0" r="2.9"/><circle cx="311.7" cy="344.1" r="2.9"/><circle cx="314.1" cy="343.5" r="2.9"/><circle cx="315.7" cy="343.1" r="2.9"/><circle cx="318.2" cy="342.2" r="2.9"/><circle cx="320.0" cy="342.2" r="2.9"/><circle cx="321.8" cy="341.7" r="2.9"/><circle cx="323.2" cy="342.6" r="2.9"/><circle cx="326.0" cy="342.7" r="2.9"/><circle cx="328.2" cy="342.5" r="2.9"/><circle cx="328.9" cy="342.6" r="2.9"/><circle cx="332.0" cy="340.6" r="2.9"/><circle cx="333.4" cy="341.2" r="2.9"/><circle cx="335.1" cy="340.5" r="2.9"/><circle cx="337.8" cy="343.4" r="2.9"/><circle cx="338.8" cy="344.7" r="2.9"/><circle cx="340.8" cy="346.9" r="2.9"/><circle cx="343.2" cy="350.8" r="2.9"/><circle cx="345.6" cy="353.1" r="2.9"/><circle cx="347.6" cy="352.8" r="2.9"/><circle cx="350.2" cy="351.6" r="2.9"/><circle cx="352.0" cy="351.0" r="2.9"/><circle cx="354.0" cy="348.3" r="2.9"/><circle cx="355.3" cy="349.5" r="2.9"/><circle cx="357.3" cy="347.3" r="2.9"/><circle cx="359.1" cy="346.6" r="2.9"/><circle cx="360.8" cy="345.9" r="2.9"/><circle cx="363.9" cy="345.0" r="2.9"/><circle cx="365.8" cy="344.8" r="2.9"/><circle cx="368.0" cy="343.9" r="2.9"/><circle cx="370.2" cy="341.4" r="2.9"/><circle cx="372.2" cy="342.5" r="2.9"/><circle cx="373.2" cy="343.0" r="2.9"/><circle cx="375.9" cy="342.7" r="2.9"/><circle cx="378.2" cy="343.7" r="2.9"/><circle cx="379.5" cy="342.0" r="2.9"/><circle cx="381.7" cy="342.8" r="2.9"/><circle cx="382.8" cy="343.7" r="2.9"/><circle cx="385.1" cy="342.1" r="2.9"/><circle cx="388.1" cy="343.7" r="2.9"/><circle cx="390.2" cy="344.2" r="2.9"/><circle cx="391.7" cy="342.2" r="2.9"/><circle cx="393.3" cy="342.3" r="2.9"/><circle cx="395.8" cy="344.3" r="2.9"/><circle cx="397.2" cy="343.5" r="2.9"/><circle cx="399.1" cy="342.9" r="2.9"/><circle cx="401.0" cy="342.8" r="2.9"/><circle cx="403.2" cy="344.5" r="2.9"/><circle cx="405.6" cy="344.5" r="2.9"/><circle cx="407.6" cy="343.0" r="2.9"/><circle cx="409.7" cy="344.1" r="2.9"/><circle cx="410.8" cy="344.4" r="2.9"/><circle cx="412.9" cy="344.5" r="2.9"/><circle cx="414.9" cy="345.1" r="2.9"/><circle cx="417.3" cy="346.0" r="2.9"/><circle cx="419.8" cy="346.9" r="2.9"/><circle cx="421.0" cy="345.6" r="2.9"/><circle cx="423.2" cy="346.2" r="2.9"/><circle cx="426.1" cy="346.5" r="2.9"/><circle cx="426.9" cy="346.3" r="2.9"/><circle cx="430.1" cy="345.3" r="2.9"/><circle cx="431.5" cy="343.4" r="2.9"/><circle cx="432.9" cy="342.5" r="2.9"/><circle cx="435.0" cy="341.4" r="2.9"/><circle cx="437.5" cy="340.7" r="2.9"/><circle cx="439.0" cy="340.2" r="2.9"/><circle cx="441.0" cy="340.6" r="2.9"/><circle cx="443.1" cy="338.7" r="2.9"/><circle cx="445.5" cy="338.4" r="2.9"/><circle cx="446.7" cy="338.0" r="2.9"/><circle cx="449.5" cy="338.1" r="2.9"/><circle cx="451.6" cy="338.1" r="2.9"/><circle cx="453.1" cy="337.8" r="2.9"/><circle cx="454.9" cy="338.6" r="2.9"/><circle cx="456.7" cy="338.2" r="2.9"/><circle cx="459.5" cy="338.7" r="2.9"/><circle cx="462.1" cy="339.5" r="2.9"/><circle cx="463.6" cy="339.5" r="2.9"/><circle cx="465.7" cy="338.6" r="2.9"/><circle cx="467.8" cy="340.5" r="2.9"/><circle cx="469.1" cy="339.6" r="2.9"/><circle cx="472.3" cy="341.1" r="2.9"/><circle cx="473.7" cy="340.0" r="2.9"/><circle cx="476.0" cy="341.0" r="2.9"/><circle cx="478.0" cy="341.1" r="2.9"/><circle cx="480.2" cy="342.4" r="2.9"/><circle cx="482.2" cy="341.7" r="2.9"/><circle cx="483.4" cy="342.5" r="2.9"/><circle cx="485.1" cy="341.2" r="2.9"/><circle cx="487.8" cy="342.7" r="2.9"/><circle cx="489.3" cy="342.8" r="2.9"/><circle cx="491.0" cy="342.8" r="2.9"/><circle cx="493.2" cy="341.3" r="2.9"/><circle cx="496.3" cy="341.8" r="2.9"/><circle cx="497.5" cy="342.3" r="2.9"/><circle cx="499.9" cy="341.2" r="2.9"/><circle cx="501.9" cy="341.5" r="2.9"/><circle cx="503.0" cy="341.3" r="2.9"/><circle cx="506.1" cy="340.6" r="2.9"/><circle cx="506.8" cy="340.5" r="2.9"/><circle cx="509.3" cy="341.5" r="2.9"/><circle cx="512.2" cy="340.1" r="2.9"/><circle cx="513.9" cy="341.0" r="2.9"/><circle cx="516.0" cy="339.0" r="2.9"/><circle cx="518.1" cy="339.1" r="2.9"/><circle cx="520.0" cy="338.7" r="2.9"/><circle cx="521.6" cy="339.3" r="2.9"/><circle cx="524.0" cy="338.2" r="2.9"/><circle cx="526.1" cy="339.0" r="2.9"/><circle cx="528.2" cy="338.3" r="2.9"/><circle cx="530.2" cy="338.9" r="2.9"/><circle cx="532.2" cy="337.4" r="2.9"/><circle cx="533.1" cy="337.5" r="2.9"/><circle cx="535.1" cy="339.2" r="2.9"/><circle cx="537.4" cy="339.3" r="2.9"/><circle cx="539.5" cy="338.1" r="2.9"/><circle cx="541.8" cy="338.8" r="2.9"/><circle cx="543.3" cy="338.9" r="2.9"/><circle cx="546.0" cy="339.3" r="2.9"/><circle cx="548.2" cy="339.3" r="2.9"/><circle cx="549.3" cy="341.2" r="2.9"/><circle cx="551.7" cy="339.8" r="2.9"/><circle cx="553.2" cy="340.5" r="2.9"/><circle cx="556.0" cy="340.4" r="2.9"/><circle cx="556.7" cy="341.3" r="2.9"/><circle cx="558.7" cy="342.1" r="2.9"/><circle cx="562.0" cy="341.3" r="2.9"/><circle cx="563.7" cy="341.0" r="2.9"/><circle cx="565.2" cy="341.4" r="2.9"/><circle cx="567.3" cy="339.8" r="2.9"/><circle cx="569.7" cy="340.9" r="2.9"/><circle cx="570.8" cy="340.7" r="2.9"/><circle cx="573.8" cy="340.2" r="2.9"/><circle cx="575.8" cy="339.2" r="2.9"/><circle cx="576.9" cy="339.3" r="2.9"/><circle cx="578.8" cy="338.8" r="2.9"/><circle cx="581.0" cy="339.9" r="2.9"/><circle cx="584.2" cy="339.5" r="2.9"/><circle cx="585.1" cy="338.2" r="2.9"/><circle cx="587.7" cy="338.0" r="2.9"/><circle cx="589.3" cy="338.7" r="2.9"/><circle cx="592.2" cy="338.5" r="2.9"/><circle cx="594.3" cy="339.0" r="2.9"/><circle cx="596.0" cy="338.9" r="2.9"/><circle cx="597.5" cy="339.1" r="2.9"/><circle cx="599.0" cy="336.8" r="2.9"/><circle cx="601.4" cy="336.9" r="2.9"/><circle cx="603.1" cy="337.8" r="2.9"/><circle cx="604.9" cy="337.2" r="2.9"/><circle cx="608.1" cy="337.1" r="2.9"/><circle cx="609.3" cy="336.0" r="2.9"/><circle cx="612.1" cy="336.4" r="2.9"/><circle cx="612.8" cy="336.4" r="2.9"/><circle cx="615.4" cy="335.6" r="2.9"/><circle cx="617.3" cy="336.2" r="2.9"/><circle cx="619.7" cy="336.8" r="2.9"/><circle cx="621.5" cy="336.1" r="2.9"/><circle cx="624.2" cy="336.5" r="2.9"/><circle cx="625.3" cy="335.4" r="2.9"/><circle cx="626.8" cy="335.6" r="2.9"/><circle cx="629.8" cy="336.2" r="2.9"/><circle cx="631.4" cy="335.7" r="2.9"/><circle cx="634.1" cy="335.7" r="2.9"/><circle cx="635.9" cy="337.2" r="2.9"/><circle cx="637.2" cy="336.9" r="2.9"/><circle cx="640.2" cy="335.2" r="2.9"/><circle cx="640.9" cy="335.8" r="2.9"/><circle cx="643.6" cy="336.9" r="2.9"/><circle cx="645.3" cy="335.4" r="2.9"/><circle cx="647.7" cy="336.3" r="2.9"/><circle cx="649.9" cy="336.3" r="2.9"/><circle cx="651.6" cy="335.9" r="2.9"/><circle cx="654.3" cy="335.4" r="2.9"/><circle cx="656.0" cy="335.3" r="2.9"/><circle cx="657.3" cy="334.6" r="2.9"/><circle cx="659.8" cy="335.2" r="2.9"/><circle cx="661.1" cy="336.3" r="2.9"/><circle cx="663.6" cy="334.9" r="2.9"/><circle cx="666.0" cy="335.9" r="2.9"/><circle cx="666.9" cy="335.6" r="2.9"/><circle cx="670.1" cy="336.3" r="2.9"/><circle cx="671.9" cy="336.3" r="2.9"/><circle cx="673.2" cy="336.6" r="2.9"/><circle cx="675.2" cy="335.9" r="2.9"/><circle cx="678.2" cy="334.6" r="2.9"/><circle cx="679.0" cy="336.0" r="2.9"/><circle cx="682.2" cy="336.3" r="2.9"/><circle cx="683.2" cy="335.7" r="2.9"/><circle cx="684.9" cy="336.1" r="2.9"/><circle cx="687.3" cy="335.8" r="2.9"/><circle cx="690.2" cy="336.1" r="2.9"/><circle cx="691.0" cy="334.7" r="2.9"/><circle cx="693.4" cy="334.9" r="2.9"/><circle cx="695.7" cy="335.0" r="2.9"/><circle cx="697.2" cy="336.4" r="2.9"/><circle cx="699.9" cy="335.7" r="2.9"/><circle cx="701.6" cy="335.2" r="2.9"/><circle cx="703.9" cy="336.1" r="2.9"/><circle cx="705.3" cy="334.7" r="2.9"/><circle cx="707.5" cy="336.1" r="2.9"/><circle cx="709.7" cy="336.1" r="2.9"/><circle cx="711.9" cy="336.6" r="2.9"/><circle cx="714.0" cy="335.5" r="2.9"/><circle cx="715.3" cy="334.6" r="2.9"/><circle cx="717.1" cy="336.2" r="2.9"/><circle cx="718.8" cy="335.5" r="2.9"/><circle cx="721.9" cy="335.2" r="2.9"/><circle cx="723.4" cy="334.9" r="2.9"/><circle cx="724.9" cy="336.0" r="2.9"/><circle cx="727.7" cy="334.6" r="2.9"/><circle cx="729.7" cy="335.2" r="2.9"/><circle cx="731.9" cy="335.8" r="2.9"/><circle cx="734.2" cy="335.1" r="2.9"/><circle cx="735.2" cy="335.8" r="2.9"/><circle cx="738.0" cy="335.9" r="2.9"/><circle cx="739.0" cy="334.8" r="2.9"/><circle cx="741.6" cy="335.5" r="2.9"/><circle cx="743.8" cy="334.7" r="2.9"/><circle cx="744.9" cy="336.0" r="2.9"/><circle cx="746.8" cy="335.8" r="2.9"/><circle cx="749.5" cy="334.8" r="2.9"/><circle cx="751.8" cy="335.5" r="2.9"/><circle cx="753.3" cy="335.6" r="2.9"/><circle cx="755.1" cy="335.0" r="2.9"/><circle cx="758.0" cy="335.1" r="2.9"/><circle cx="758.9" cy="335.6" r="2.9"/><circle cx="761.9" cy="336.0" r="2.9"/><circle cx="764.1" cy="335.2" r="2.9"/><circle cx="765.9" cy="335.4" r="2.9"/><circle cx="767.7" cy="335.4" r="2.9"/><circle cx="768.9" cy="335.8" r="2.9"/><circle cx="771.8" cy="336.1" r="2.9"/><circle cx="773.1" cy="337.4" r="2.9"/><circle cx="775.7" cy="335.8" r="2.9"/><circle cx="777.1" cy="337.2" r="2.9"/><circle cx="779.1" cy="337.5" r="2.9"/><circle cx="781.8" cy="335.7" r="2.9"/><circle cx="784.0" cy="336.9" r="2.9"/><circle cx="785.8" cy="337.3" r="2.9"/><circle cx="788.0" cy="336.5" r="2.9"/><circle cx="788.7" cy="335.6" r="2.9"/><circle cx="790.9" cy="336.1" r="2.9"/><circle cx="792.8" cy="337.1" r="2.9"/><circle cx="795.6" cy="338.0" r="2.9"/><circle cx="796.8" cy="338.8" r="2.9"/><circle cx="798.9" cy="340.2" r="2.9"/><circle cx="801.7" cy="339.9" r="2.9"/><circle cx="803.2" cy="339.4" r="2.9"/><circle cx="805.0" cy="339.0" r="2.9"/><circle cx="807.0" cy="338.9" r="2.9"/><circle cx="810.0" cy="339.6" r="2.9"/><circle cx="810.7" cy="339.0" r="2.9"/><circle cx="812.7" cy="339.7" r="2.9"/><circle cx="815.4" cy="340.7" r="2.9"/><circle cx="817.7" cy="339.2" r="2.9"/><circle cx="819.6" cy="339.9" r="2.9"/><circle cx="821.5" cy="339.6" r="2.9"/><circle cx="823.1" cy="339.0" r="2.9"/><circle cx="826.3" cy="339.1" r="2.9"/><circle cx="828.2" cy="340.2" r="2.9"/><circle cx="830.3" cy="340.7" r="2.9"/><circle cx="831.5" cy="340.5" r="2.9"/><circle cx="833.4" cy="339.3" r="2.9"/><circle cx="835.8" cy="339.7" r="2.9"/><circle cx="837.2" cy="340.3" r="2.9"/><circle cx="839.3" cy="340.1" r="2.9"/><circle cx="841.0" cy="339.0" r="2.9"/><circle cx="843.5" cy="339.7" r="2.9"/><circle cx="845.0" cy="339.0" r="2.9"/><circle cx="847.0" cy="340.0" r="2.9"/><circle cx="849.6" cy="339.0" r="2.9"/><circle cx="852.3" cy="338.8" r="2.9"/><circle cx="854.2" cy="338.4" r="2.9"/><circle cx="855.9" cy="338.8" r="2.9"/><circle cx="856.8" cy="339.9" r="2.9"/><circle cx="858.7" cy="338.5" r="2.9"/><circle cx="861.9" cy="338.9" r="2.9"/><circle cx="863.1" cy="339.5" r="2.9"/><circle cx="865.0" cy="338.9" r="2.9"/><circle cx="868.3" cy="339.6" r="2.9"/><circle cx="868.8" cy="339.8" r="2.9"/><circle cx="871.3" cy="338.2" r="2.9"/><circle cx="874.0" cy="339.1" r="2.9"/><circle cx="874.9" cy="339.9" r="2.9"/><circle cx="876.9" cy="338.4" r="2.9"/><circle cx="879.5" cy="337.9" r="2.9"/><circle cx="882.2" cy="338.3" r="2.9"/><circle cx="883.5" cy="338.2" r="2.9"/><circle cx="884.9" cy="339.7" r="2.9"/><circle cx="887.6" cy="338.8" r="2.9"/><circle cx="889.0" cy="339.3" r="2.9"/><circle cx="890.7" cy="337.8" r="2.9"/><circle cx="893.8" cy="337.7" r="2.9"/><circle cx="896.3" cy="338.8" r="2.9"/><circle cx="897.9" cy="338.9" r="2.9"/><circle cx="900.0" cy="337.9" r="2.9"/><circle cx="900.9" cy="339.7" r="2.9"/><circle cx="903.0" cy="338.4" r="2.9"/><circle cx="905.3" cy="339.6" r="2.9"/><circle cx="908.0" cy="337.9" r="2.9"/><circle cx="909.4" cy="339.5" r="2.9"/><circle cx="912.1" cy="338.3" r="2.9"/><circle cx="912.8" cy="338.8" r="2.9"/><circle cx="915.7" cy="337.5" r="2.9"/><circle cx="917.5" cy="337.9" r="2.9"/><circle cx="919.0" cy="338.8" r="2.9"/><circle cx="922.1" cy="338.4" r="2.9"/><circle cx="922.9" cy="337.9" r="2.9"/><circle cx="924.9" cy="338.7" r="2.9"/><circle cx="927.4" cy="337.8" r="2.9"/><circle cx="929.7" cy="337.5" r="2.9"/><circle cx="931.4" cy="338.8" r="2.9"/><circle cx="933.9" cy="338.8" r="2.9"/><circle cx="935.5" cy="338.0" r="2.9"/><circle cx="937.8" cy="337.2" r="2.9"/><circle cx="939.1" cy="337.3" r="2.9"/><circle cx="941.8" cy="337.6" r="2.9"/><circle cx="942.9" cy="336.6" r="2.9"/><circle cx="945.7" cy="338.4" r="2.9"/><circle cx="947.1" cy="336.3" r="2.9"/><circle cx="949.1" cy="337.6" r="2.9"/><circle cx="952.0" cy="336.6" r="2.9"/><circle cx="953.7" cy="336.7" r="2.9"/><circle cx="954.8" cy="338.1" r="2.9"/><circle cx="958.3" cy="336.4" r="2.9"/><circle cx="958.8" cy="338.0" r="2.9"/><circle cx="961.1" cy="336.0" r="2.9"/><circle cx="963.1" cy="336.6" r="2.9"/><circle cx="966.2" cy="336.6" r="2.9"/><circle cx="968.2" cy="337.3" r="2.9"/><circle cx="968.9" cy="337.8" r="2.9"/><circle cx="971.9" cy="337.6" r="2.9"/><circle cx="974.3" cy="336.2" r="2.9"/><circle cx="975.0" cy="335.9" r="2.9"/><circle cx="977.0" cy="336.5" r="2.9"/><circle cx="978.9" cy="335.8" r="2.9"/><circle cx="982.1" cy="335.5" r="2.9"/><circle cx="982.7" cy="335.6" r="2.9"/><circle cx="985.6" cy="335.6" r="2.9"/><circle cx="987.5" cy="336.0" r="2.9"/><circle cx="989.7" cy="335.5" r="2.9"/><circle cx="990.8" cy="337.1" r="2.9"/><circle cx="993.6" cy="336.6" r="2.9"/><circle cx="995.3" cy="337.2" r="2.9"/><circle cx="997.9" cy="337.2" r="2.9"/><circle cx="1000.0" cy="335.5" r="2.9"/><circle cx="1001.4" cy="337.0" r="2.9"/><circle cx="1003.7" cy="336.8" r="2.9"/><circle cx="1005.4" cy="337.0" r="2.9"/><circle cx="1008.3" cy="336.1" r="2.9"/><circle cx="1009.3" cy="337.1" r="2.9"/><circle cx="1011.9" cy="335.4" r="2.9"/><circle cx="1014.1" cy="337.1" r="2.9"/><circle cx="1015.3" cy="336.7" r="2.9"/><circle cx="1017.9" cy="337.0" r="2.9"/><circle cx="1019.7" cy="335.2" r="2.9"/><circle cx="1021.9" cy="337.3" r="2.9"/><circle cx="1022.8" cy="337.1" r="2.9"/><circle cx="1025.8" cy="336.1" r="2.9"/><circle cx="1027.5" cy="336.4" r="2.9"/><circle cx="1029.4" cy="336.1" r="2.9"/><circle cx="1031.7" cy="335.4" r="2.9"/><circle cx="1033.9" cy="335.7" r="2.9"/><circle cx="1036.2" cy="335.6" r="2.9"/><circle cx="1037.8" cy="337.4" r="2.9"/><circle cx="1039.8" cy="335.6" r="2.9"/><circle cx="1041.4" cy="335.5" r="2.9"/><circle cx="1043.0" cy="335.4" r="2.9"/><circle cx="1045.4" cy="335.9" r="2.9"/><circle cx="1047.1" cy="336.8" r="2.9"/><circle cx="1049.3" cy="336.8" r="2.9"/><circle cx="1050.9" cy="336.6" r="2.9"/><circle cx="1054.3" cy="336.1" r="2.9"/><circle cx="1056.2" cy="335.9" r="2.9"/><circle cx="1058.0" cy="335.4" r="2.9"/><circle cx="1059.9" cy="337.0" r="2.9"/><circle cx="1061.1" cy="336.7" r="2.9"/><circle cx="1062.7" cy="337.1" r="2.9"/><circle cx="1066.1" cy="335.6" r="2.9"/><circle cx="1067.2" cy="335.9" r="2.9"/><circle cx="1069.9" cy="335.7" r="2.9"/><circle cx="1072.0" cy="336.5" r="2.9"/><circle cx="1072.9" cy="335.8" r="2.9"/><circle cx="1075.2" cy="336.3" r="2.9"/><circle cx="1077.3" cy="336.5" r="2.9"/><circle cx="1080.2" cy="337.3" r="2.9"/><circle cx="1081.5" cy="336.3" r="2.9"/><circle cx="1083.6" cy="335.6" r="2.9"/><circle cx="1085.4" cy="335.7" r="2.9"/><circle cx="1087.8" cy="335.6" r="2.9"/><circle cx="1088.8" cy="337.3" r="2.9"/><circle cx="1091.2" cy="335.8" r="2.9"/><circle cx="1092.7" cy="337.2" r="2.9"/><circle cx="1095.8" cy="335.6" r="2.9"/><circle cx="1097.0" cy="336.8" r="2.9"/><circle cx="1099.8" cy="336.3" r="2.9"/><circle cx="1101.9" cy="336.2" r="2.9"/><circle cx="1103.1" cy="337.3" r="2.9"/><circle cx="1104.7" cy="336.3" r="2.9"/><circle cx="1107.0" cy="337.3" r="2.9"/><circle cx="1110.2" cy="336.4" r="2.9"/><circle cx="1111.6" cy="336.4" r="2.9"/><circle cx="1113.7" cy="336.3" r="2.9"/><circle cx="1115.2" cy="337.7" r="2.9"/><circle cx="1116.8" cy="337.9" r="2.9"/><circle cx="1119.3" cy="337.5" r="2.9"/><circle cx="1120.9" cy="336.7" r="2.9"/><circle cx="1124.3" cy="336.2" r="2.9"/><circle cx="1125.1" cy="336.0" r="2.9"/><circle cx="1127.0" cy="337.4" r="2.9"/><circle cx="1129.2" cy="336.6" r="2.9"/><circle cx="1131.8" cy="336.5" r="2.9"/><circle cx="1133.9" cy="337.3" r="2.9"/><circle cx="1136.2" cy="336.7" r="2.9"/><circle cx="1138.0" cy="337.4" r="2.9"/><circle cx="1140.0" cy="337.0" r="2.9"/><circle cx="1142.1" cy="335.8" r="2.9"/><circle cx="1143.8" cy="336.9" r="2.9"/><circle cx="1144.7" cy="337.1" r="2.9"/><circle cx="1148.1" cy="337.2" r="2.9"/><circle cx="1149.8" cy="336.3" r="2.9"/><circle cx="1151.8" cy="337.2" r="2.9"/><circle cx="1152.9" cy="337.4" r="2.9"/><circle cx="1156.3" cy="336.8" r="2.9"/><circle cx="1157.7" cy="336.4" r="2.9"/><circle cx="1159.1" cy="337.5" r="2.9"/><circle cx="1160.7" cy="335.8" r="2.9"/><circle cx="1162.9" cy="335.6" r="2.9"/><circle cx="1165.3" cy="336.1" r="2.9"/><circle cx="1166.9" cy="336.0" r="2.9"/><circle cx="1169.1" cy="336.9" r="2.9"/><circle cx="1171.5" cy="337.5" r="2.9"/><circle cx="1173.1" cy="336.0" r="2.9"/><circle cx="1175.2" cy="337.0" r="2.9"/><circle cx="1177.9" cy="337.3" r="2.9"/><circle cx="1179.0" cy="337.3" r="2.9"/><circle cx="1181.3" cy="337.0" r="2.9"/><circle cx="1183.7" cy="336.8" r="2.9"/><circle cx="1186.1" cy="337.8" r="2.9"/><circle cx="1187.8" cy="336.0" r="2.9"/><circle cx="1189.1" cy="337.8" r="2.9"/><circle cx="1191.4" cy="337.7" r="2.9"/><circle cx="1193.4" cy="336.4" r="2.9"/><circle cx="1194.8" cy="337.7" r="2.9"/><circle cx="1197.5" cy="337.6" r="2.9"/><circle cx="1199.1" cy="337.0" r="2.9"/><circle cx="1200.9" cy="337.8" r="2.9"/><circle cx="1203.3" cy="337.0" r="2.9"/><circle cx="1206.2" cy="336.8" r="2.9"/><circle cx="1206.8" cy="337.5" r="2.9"/><circle cx="1209.9" cy="336.8" r="2.9"/><circle cx="1212.1" cy="336.0" r="2.9"/><circle cx="1214.1" cy="337.8" r="2.9"/><circle cx="1216.2" cy="336.9" r="2.9"/><circle cx="1217.1" cy="337.7" r="2.9"/><circle cx="1220.1" cy="337.7" r="2.9"/><circle cx="1220.8" cy="337.6" r="2.9"/><circle cx="1224.2" cy="337.1" r="2.9"/><circle cx="1225.9" cy="338.0" r="2.9"/><circle cx="1227.4" cy="337.5" r="2.9"/><circle cx="1229.0" cy="336.7" r="2.9"/><circle cx="1231.3" cy="338.0" r="2.9"/><circle cx="1234.3" cy="337.2" r="2.9"/><circle cx="1235.0" cy="338.2" r="2.9"/><circle cx="1237.7" cy="337.1" r="2.9"/><circle cx="1238.7" cy="337.2" r="2.9"/><circle cx="1241.9" cy="337.1" r="2.9"/><circle cx="1243.1" cy="337.2" r="2.9"/><circle cx="1245.7" cy="336.9" r="2.9"/><circle cx="1246.9" cy="336.6" r="2.9"/><circle cx="1250.2" cy="336.7" r="2.9"/><circle cx="1252.1" cy="337.6" r="2.9"/><circle cx="1254.1" cy="338.0" r="2.9"/><circle cx="1255.1" cy="337.1" r="2.9"/><circle cx="1258.1" cy="338.2" r="2.9"/><circle cx="1259.0" cy="338.4" r="2.9"/><circle cx="1261.4" cy="338.1" r="2.9"/><circle cx="1263.0" cy="336.8" r="2.9"/><circle cx="1265.6" cy="336.4" r="2.9"/><circle cx="1267.3" cy="337.0" r="2.9"/><circle cx="1268.7" cy="336.4" r="2.9"/><circle cx="1271.1" cy="337.5" r="2.9"/><circle cx="1273.5" cy="336.5" r="2.9"/><circle cx="1275.5" cy="336.4" r="2.9"/><circle cx="1277.7" cy="338.1" r="2.9"/><circle cx="1280.0" cy="338.1" r="2.9"/><circle cx="1282.3" cy="337.6" r="2.9"/><circle cx="1283.1" cy="336.5" r="2.9"/><circle cx="1285.2" cy="337.8" r="2.9"/><circle cx="1287.2" cy="337.3" r="2.9"/><circle cx="1288.7" cy="338.1" r="2.9"/><circle cx="1291.0" cy="337.2" r="2.9"/><circle cx="1292.7" cy="337.8" r="2.9"/><circle cx="1295.1" cy="338.2" r="2.9"/><circle cx="1297.6" cy="337.8" r="2.9"/><circle cx="1298.9" cy="338.9" r="2.9"/><circle cx="1300.9" cy="337.5" r="2.9"/><circle cx="1302.9" cy="339.4" r="2.9"/><circle cx="1305.5" cy="338.5" r="2.9"/><circle cx="1308.1" cy="339.8" r="2.9"/><circle cx="1309.1" cy="339.6" r="2.9"/><circle cx="1311.6" cy="339.1" r="2.9"/><circle cx="1313.4" cy="338.3" r="2.9"/><circle cx="1315.8" cy="338.4" r="2.9"/><circle cx="1318.2" cy="339.8" r="2.9"/><circle cx="1320.2" cy="339.6" r="2.9"/><circle cx="1320.8" cy="338.6" r="2.9"/><circle cx="1322.9" cy="340.7" r="2.9"/><circle cx="1325.2" cy="340.2" r="2.9"/><circle cx="1328.2" cy="339.1" r="2.9"/><circle cx="1329.4" cy="339.9" r="2.9"/><circle cx="1332.1" cy="339.4" r="2.9"/><circle cx="1333.7" cy="340.2" r="2.9"/><circle cx="1334.9" cy="340.9" r="2.9"/><circle cx="1337.8" cy="340.2" r="2.9"/><circle cx="1340.0" cy="339.6" r="2.9"/><circle cx="1342.2" cy="341.3" r="2.9"/><circle cx="1342.8" cy="339.9" r="2.9"/><circle cx="1345.6" cy="341.5" r="2.9"/><circle cx="1347.8" cy="341.5" r="2.9"/><circle cx="1349.1" cy="341.4" r="2.9"/><circle cx="1351.5" cy="340.8" r="2.9"/><circle cx="1352.8" cy="340.7" r="2.9"/><circle cx="1355.7" cy="341.4" r="2.9"/><circle cx="1357.8" cy="340.8" r="2.9"/><circle cx="1358.7" cy="341.7" r="2.9"/><circle cx="1361.8" cy="341.2" r="2.9"/><circle cx="1363.7" cy="342.5" r="2.9"/><circle cx="1366.2" cy="341.3" r="2.9"/><circle cx="1367.1" cy="342.2" r="2.9"/><circle cx="1370.2" cy="342.8" r="2.9"/><circle cx="1371.4" cy="341.2" r="2.9"/><circle cx="1374.1" cy="342.6" r="2.9"/><circle cx="1375.9" cy="342.3" r="2.9"/><circle cx="1377.8" cy="341.2" r="2.9"/><circle cx="1378.9" cy="342.3" r="2.9"/><circle cx="1381.0" cy="342.1" r="2.9"/><circle cx="1382.8" cy="342.3" r="2.9"/><circle cx="1385.3" cy="341.6" r="2.9"/><circle cx="1386.8" cy="341.1" r="2.9"/><circle cx="1390.2" cy="341.0" r="2.9"/><circle cx="1391.3" cy="340.6" r="2.9"/><circle cx="1393.4" cy="341.6" r="2.9"/><circle cx="1395.5" cy="341.9" r="2.9"/><circle cx="1397.8" cy="341.5" r="2.9"/><circle cx="1399.3" cy="339.6" r="2.9"/><circle cx="1401.9" cy="339.7" r="2.9"/><circle cx="1403.7" cy="340.1" r="2.9"/><circle cx="1405.8" cy="339.2" r="2.9"/><circle cx="1407.0" cy="339.6" r="2.9"/><circle cx="1409.2" cy="340.6" r="2.9"/><circle cx="1412.0" cy="339.7" r="2.9"/><circle cx="1414.1" cy="339.0" r="2.9"/><circle cx="1415.6" cy="340.4" r="2.9"/><circle cx="1416.7" cy="339.5" r="2.9"/><circle cx="1419.9" cy="340.0" r="2.9"/><circle cx="1420.8" cy="340.5" r="2.9"/><circle cx="1423.0" cy="338.8" r="2.9"/><circle cx="1424.7" cy="339.7" r="2.9"/><circle cx="1427.1" cy="338.6" r="2.9"/><circle cx="1430.3" cy="340.0" r="2.9"/><circle cx="1430.9" cy="337.8" r="2.9"/><circle cx="1434.3" cy="339.5" r="2.9"/><circle cx="1435.2" cy="338.5" r="2.9"/><circle cx="1437.2" cy="338.6" r="2.9"/><circle cx="1439.5" cy="338.9" r="2.9"/><circle cx="1440.8" cy="339.2" r="2.9"/><circle cx="1443.0" cy="339.0" r="2.9"/><circle cx="1445.7" cy="337.6" r="2.9"/><circle cx="1447.1" cy="337.3" r="2.9"/><circle cx="1449.9" cy="338.1" r="2.9"/><circle cx="1451.5" cy="338.4" r="2.9"/><circle cx="1454.2" cy="337.4" r="2.9"/><circle cx="1454.8" cy="338.2" r="2.9"/><circle cx="1457.8" cy="337.6" r="2.9"/><circle cx="1459.8" cy="337.8" r="2.9"/><circle cx="1462.0" cy="336.5" r="2.9"/><circle cx="1462.9" cy="336.8" r="2.9"/><circle cx="1465.0" cy="336.4" r="2.9"/></g>
<circle cx="222.3" cy="60.2" r="2.9" fill="#1f77b4"/>
<circle cx="222.3" cy="85.5" r="2.9" fill="#1f77b4"/>
<circle cx="222.3" cy="111.3" r="2.9" fill="#1f77b4"/>
<circle cx="222.3" cy="113.4" r="2.9" fill="#1f77b4"/>
<circle cx="222.3" cy="151.4" r="2.9" fill="#1f77b4"/>
<circle cx="217.1" cy="213.0" r="2.9" fill="#1f77b4"/>
<circle cx="222.3" cy="218.5" r="2.9" fill="#1f77b4"/>
<circle cx="222.3" cy="227.4" r="2.9" fill="#1f77b4"/>
<circle cx="222.3" cy="243.4" r="2.9" fill="#1f77b4"/>
<circle cx="222.3" cy="263.2" r="2.9" fill="#1f77b4"/>
<circle cx="222.3" cy="273.5" r="2.9" fill="#1f77b4"/>
<circle cx="222.3" cy="276.8" r="2.9" fill="#1f77b4"/>
<circle cx="222.3" cy="282.2" r="2.9" fill="#1f77b4"/>
<circle cx="222.3" cy="289.8" r="2.9" fill="#1f77b4"/>
<circle cx="217.1" cy="273.5" r="2.9" fill="#1f77b4"/>
<circle cx="217.4" cy="290.2" r="2.9" fill="#1f77b4"/>
<circle cx="236.4" cy="109.4" r="2.9" fill="#1f77b4"/>
<circle cx="236.4" cy="114.0" r="2.9" fill="#1f77b4"/>
<circle cx="236.4" cy="119.4" r="2.9" fill="#1f77b4"/>
<circle cx="236.4" cy="168.3" r="2.9" fill="#1f77b4"/>
<circle cx="236.1" cy="216.3" r="2.9" fill="#1f77b4"/>
<circle cx="236.1" cy="221.2" r="2.9" fill="#1f77b4"/>
<circle cx="236.1" cy="229.3" r="2.9" fill="#1f77b4"/>
<circle cx="236.1" cy="266.4" r="2.9" fill="#1f77b4"/>
<circle cx="236.1" cy="302.2" r="2.9" fill="#1f77b4"/>
<circle cx="236.1" cy="382.1" r="2.9" fill="#1f77b4"/>
<circle cx="234.5" cy="384.5" r="2.9" fill="#1f77b4"/>
<circle cx="234.8" cy="390.0" r="2.9" fill="#1f77b4"/>
<circle cx="236.1" cy="395.7" r="2.9" fill="#1f77b4"/>
<circle cx="236.1" cy="400.0" r="2.9" fill="#1f77b4"/>
<circle cx="236.1" cy="409.1" r="2.9" fill="#1f77b4"/>
<circle cx="234.2" cy="439.4" r="2.9" fill="#1f77b4"/>
<circle cx="234.2" cy="442.5" r="2.9" fill="#1f77b4"/>
<circle cx="234.2" cy="451.3" r="2.9" fill="#1f77b4"/>
<circle cx="222.5" cy="316.5" r="2.9" fill="#1f77b4"/>
<circle cx="283.2" cy="291.1" r="2.9" fill="#1f77b4"/>
<circle cx="302.1" cy="308.3" r="2.9" fill="#1f77b4"/>
<circle cx="301.5" cy="372.4" r="2.9" fill="#1f77b4"/>
<circle cx="347.4" cy="304.2" r="2.9" fill="#1f77b4"/>
<circle cx="360.1" cy="294.0" r="2.9" fill="#1f77b4"/>
<circle cx="343.0" cy="484.1" r="2.9" fill="#1f77b4"/>
<circle cx="344.5" cy="496.3" r="2.9" fill="#1f77b4"/>
<circle cx="353.8" cy="363.4" r="2.9" fill="#1f77b4"/>
<circle cx="365.4" cy="401.4" r="2.9" fill="#1f77b4"/>
<circle cx="479.3" cy="351.1" r="2.9" fill="#1f77b4"/>
<circle cx="479.3" cy="354.6" r="2.9" fill="#1f77b4"/>
<circle cx="475.4" cy="318.8" r="2.9" fill="#1f77b4"/>
<circle cx="495.0" cy="347.2" r="2.9" fill="#1f77b4"/>
<circle cx="816.1" cy="321.1" r="2.9" fill="#1f77b4"/>
<circle cx="1372.0" cy="319.3" r="2.9" fill="#1f77b4"/>
<circle cx="479.3" cy="311.9" r="2.9" fill="#1f77b4"/>
<circle cx="817.3" cy="313.0" r="2.9" fill="#1f77b4"/>
<circle cx="287.5" cy="278.9" r="2.9" fill="#1f77b4"/>
<circle cx="280.0" cy="268.4" r="2.9" fill="#1f77b4"/>
<circle cx="285.6" cy="275.5" r="2.9" fill="#1f77b4"/>
<circle cx="278.8" cy="269.9" r="2.9" fill="#1f77b4"/>
<circle cx="284.6" cy="268.6" r="2.9" fill="#1f77b4"/>
<circle cx="285.2" cy="270.6" r="2.9" fill="#1f77b4"/>
<circle cx="280.4" cy="273.4" r="2.9" fill="#1f77b4"/>
<circle cx="283.9" cy="277.9" r="2.9" fill="#1f77b4"/>
<circle cx="277.4" cy="277.9" r="2.9" fill="#1f77b4"/>
<circle cx="279.9" cy="271.4" r="2.9" fill="#1f77b4"/>
<circle cx="285.3" cy="277.4" r="2.9" fill="#1f77b4"/>
<circle cx="285.0" cy="280.5" r="2.9" fill="#1f77b4"/>
<circle cx="279.7" cy="271.7" r="2.9" fill="#1f77b4"/>
<circle cx="285.6" cy="270.9" r="2.9" fill="#1f77b4"/>
<circle cx="279.0" cy="270.4" r="2.9" fill="#1f77b4"/>
<circle cx="287.0" cy="279.4" r="2.9" fill="#1f77b4"/>
<circle cx="286.3" cy="281.4" r="2.9" fill="#1f77b4"/>
<circle cx="287.3" cy="271.6" r="2.9" fill="#1f77b4"/>
<circle cx="281.1" cy="277.8" r="2.9" fill="#1f77b4"/>
<circle cx="277.7" cy="276.1" r="2.9" fill="#1f77b4"/>
<circle cx="278.2" cy="267.7" r="2.9" fill="#1f77b4"/>
<circle cx="283.7" cy="269.3" r="2.9" fill="#1f77b4"/>
<circle cx="303.2" cy="284.2" r="2.9" fill="#1f77b4"/>
<circle cx="298.1" cy="268.5" r="2.9" fill="#1f77b4"/>
<circle cx="294.3" cy="275.7" r="2.9" fill="#1f77b4"/>
<circle cx="298.7" cy="272.3" r="2.9" fill="#1f77b4"/>
<circle cx="300.9" cy="276.2" r="2.9" fill="#1f77b4"/>
<circle cx="301.5" cy="266.4" r="2.9" fill="#1f77b4"/>
<circle cx="293.8" cy="272.9" r="2.9" fill="#1f77b4"/>
<circle cx="298.3" cy="269.8" r="2.9" fill="#1f77b4"/>
<circle cx="300.4" cy="269.1" r="2.9" fill="#1f77b4"/>
<circle cx="296.5" cy="275.0" r="2.9" fill="#1f77b4"/>
<circle cx="300.8" cy="281.7" r="2.9" fill="#1f77b4"/>
<circle cx="297.1" cy="274.3" r="2.9" fill="#1f77b4"/>
<circle cx="303.2" cy="285.5" r="2.9" fill="#1f77b4"/>
<circle cx="299.8" cy="266.4" r="2.9" fill="#1f77b4"/>
<circle cx="298.0" cy="278.6" r="2.9" fill="#1f77b4"/>
<circle cx="296.1" cy="264.9" r="2.9" fill="#1f77b4"/>
<circle cx="303.8" cy="284.9" r="2.9" fill="#1f77b4"/>
<circle cx="294.4" cy="274.7" r="2.9" fill="#1f77b4"/>
<circle cx="299.8" cy="270.9" r="2.9" fill="#1f77b4"/>
<circle cx="293.8" cy="281.3" r="2.9" fill="#1f77b4"/>
<circle cx="301.5" cy="274.1" r="2.9" fill="#1f77b4"/>
<circle cx="293.9" cy="273.1" r="2.9" fill="#1f77b4"/>
<circle cx="288.6" cy="395.5" r="2.9" fill="#1f77b4"/>
<circle cx="287.9" cy="386.7" r="2.9" fill="#1f77b4"/>
<circle cx="300.1" cy="384.8" r="2.9" fill="#1f77b4"/>
<circle cx="288.8" cy="383.9" r="2.9" fill="#1f77b4"/>
<circle cx="289.8" cy="389.9" r="2.9" fill="#1f77b4"/>
<circle cx="301.2" cy="385.2" r="2.9" fill="#1f77b4"/>
<circle cx="290.0" cy="392.9" r="2.9" fill="#1f77b4"/>
<circle cx="294.2" cy="387.4" r="2.9" fill="#1f77b4"/>
<circle cx="289.1" cy="386.2" r="2.9" fill="#1f77b4"/>
<circle cx="303.5" cy="384.5" r="2.9" fill="#1f77b4"/>
<circle cx="291.4" cy="392.6" r="2.9" fill="#1f77b4"/>
<circle cx="302.2" cy="394.8" r="2.9" fill="#1f77b4"/>
<circle cx="295.0" cy="395.4" r="2.9" fill="#1f77b4"/>
<circle cx="297.3" cy="386.8" r="2.9" fill="#1f77b4"/>
<circle cx="294.9" cy="392.3" r="2.9" fill="#1f77b4"/>
<circle cx="299.5" cy="384.7" r="2.9" fill="#1f77b4"/>
<circle cx="290.3" cy="395.5" r="2.9" fill="#1f77b4"/>
<circle cx="288.8" cy="393.6" r="2.9" fill="#1f77b4"/>
<circle cx="345.0" cy="267.5" r="2.9" fill="#1f77b4"/>
<circle cx="344.3" cy="272.3" r="2.9" fill="#1f77b4"/>
<circle cx="350.9" cy="265.3" r="2.9" fill="#1f77b4"/>
<circle cx="349.7" cy="269.1" r="2.9" fill="#1f77b4"/>
<circle cx="343.6" cy="278.4" r="2.9" fill="#1f77b4"/>
<circle cx="345.1" cy="266.1" r="2.9" fill="#1f77b4"/>
<circle cx="345.8" cy="280.1" r="2.9" fill="#1f77b4"/>
<circle cx="349.8" cy="274.6" r="2.9" fill="#1f77b4"/>
<circle cx="342.1" cy="278.8" r="2.9" fill="#1f77b4"/>
<circle cx="347.5" cy="281.8" r="2.9" fill="#1f77b4"/>
<circle cx="350.6" cy="269.2" r="2.9" fill="#1f77b4"/>
<circle cx="349.6" cy="280.0" r="2.9" fill="#1f77b4"/>
<circle cx="344.4" cy="270.0" r="2.9" fill="#1f77b4"/>
<circle cx="345.4" cy="269.8" r="2.9" fill="#1f77b4"/>
<circle cx="360.0" cy="269.5" r="2.9" fill="#1f77b4"/>
<circle cx="358.8" cy="280.7" r="2.9" fill="#1f77b4"/>
<circle cx="360.3" cy="276.9" r="2.9" fill="#1f77b4"/>
<circle cx="364.1" cy="278.6" r="2.9" fill="#1f77b4"/>
<circle cx="359.0" cy="280.9" r="2.9" fill="#1f77b4"/>
<circle cx="363.4" cy="281.9" r="2.9" fill="#1f77b4"/>
<circle cx="362.8" cy="278.6" r="2.9" fill="#1f77b4"/>
<circle cx="363.5" cy="271.5" r="2.9" fill="#1f77b4"/>
<circle cx="362.2" cy="273.3" r="2.9" fill="#1f77b4"/>
<circle cx="363.7" cy="269.9" r="2.9" fill="#1f77b4"/>
<circle cx="361.3" cy="272.7" r="2.9" fill="#1f77b4"/>
<circle cx="363.6" cy="272.8" r="2.9" fill="#1f77b4"/>
<circle cx="363.8" cy="279.9" r="2.9" fill="#1f77b4"/>
<circle cx="364.0" cy="269.9" r="2.9" fill="#1f77b4"/>
<circle cx="365.4" cy="393.5" r="2.9" fill="#1f77b4"/>
<circle cx="358.6" cy="390.1" r="2.9" fill="#1f77b4"/>
<circle cx="342.2" cy="398.2" r="2.9" fill="#1f77b4"/>
<circle cx="355.2" cy="382.9" r="2.9" fill="#1f77b4"/>
<circle cx="349.8" cy="395.0" r="2.9" fill="#1f77b4"/>
<circle cx="361.3" cy="398.2" r="2.9" fill="#1f77b4"/>
<circle cx="346.6" cy="378.6" r="2.9" fill="#1f77b4"/>
<circle cx="347.5" cy="369.7" r="2.9" fill="#1f77b4"/>
<circle cx="349.5" cy="367.0" r="2.9" fill="#1f77b4"/>
<circle cx="361.7" cy="374.4" r="2.9" fill="#1f77b4"/>
<circle cx="342.8" cy="368.5" r="2.9" fill="#1f77b4"/>
<circle cx="360.3" cy="373.3" r="2.9" fill="#1f77b4"/>
<circle cx="353.0" cy="380.9" r="2.9" fill="#1f77b4"/>
<circle cx="361.9" cy="401.3" r="2.9" fill="#1f77b4"/>
<circle cx="349.1" cy="389.4" r="2.9" fill="#1f77b4"/>
<circle cx="364.3" cy="383.4" r="2.9" fill="#1f77b4"/>
<circle cx="364.4" cy="393.1" r="2.9" fill="#1f77b4"/>
<circle cx="349.1" cy="398.3" r="2.9" fill="#1f77b4"/>
<circle cx="355.9" cy="369.9" r="2.9" fill="#1f77b4"/>
<circle cx="356.3" cy="396.7" r="2.9" fill="#1f77b4"/>
<circle cx="354.5" cy="383.9" r="2.9" fill="#1f77b4"/>
<circle cx="351.8" cy="398.6" r="2.9" fill="#1f77b4"/>
<circle cx="358.3" cy="373.7" r="2.9" fill="#1f77b4"/>
<circle cx="350.4" cy="379.4" r="2.9" fill="#1f77b4"/>
<circle cx="365.9" cy="391.7" r="2.9" fill="#1f77b4"/>
<circle cx="344.2" cy="399.8" r="2.9" fill="#1f77b4"/>
<circle cx="341.9" cy="387.9" r="2.9" fill="#1f77b4"/>
<circle cx="352.2" cy="392.5" r="2.9" fill="#1f77b4"/>
<circle cx="352.2" cy="369.4" r="2.9" fill="#1f77b4"/>
<circle cx="354.6" cy="396.4" r="2.9" fill="#1f77b4"/>
<circle cx="361.5" cy="379.2" r="2.9" fill="#1f77b4"/>
<circle cx="346.8" cy="393.6" r="2.9" fill="#1f77b4"/>
<circle cx="361.8" cy="374.1" r="2.9" fill="#1f77b4"/>
<circle cx="364.0" cy="402.7" r="2.9" fill="#1f77b4"/>
<circle cx="352.3" cy="380.1" r="2.9" fill="#1f77b4"/>
<circle cx="359.5" cy="400.4" r="2.9" fill="#1f77b4"/>
<circle cx="346.2" cy="377.2" r="2.9" fill="#1f77b4"/>
<circle cx="349.6" cy="393.1" r="2.9" fill="#1f77b4"/>
<circle cx="345.9" cy="386.2" r="2.9" fill="#1f77b4"/>
<circle cx="354.0" cy="390.7" r="2.9" fill="#1f77b4"/>
<circle cx="344.7" cy="401.4" r="2.9" fill="#1f77b4"/>
<circle cx="367.0" cy="386.8" r="2.9" fill="#1f77b4"/>
<circle cx="361.7" cy="372.8" r="2.9" fill="#1f77b4"/>
<circle cx="364.7" cy="386.4" r="2.9" fill="#1f77b4"/>
<circle cx="360.7" cy="398.1" r="2.9" fill="#1f77b4"/>
<circle cx="350.4" cy="400.2" r="2.9" fill="#1f77b4"/>
<circle cx="346.4" cy="366.9" r="2.9" fill="#1f77b4"/>
<circle cx="354.1" cy="399.3" r="2.9" fill="#1f77b4"/>
<circle cx="364.4" cy="401.3" r="2.9" fill="#1f77b4"/>
<circle cx="354.3" cy="400.5" r="2.9" fill="#1f77b4"/>
<circle cx="355.6" cy="371.3" r="2.9" fill="#1f77b4"/>
<circle cx="357.4" cy="395.7" r="2.9" fill="#1f77b4"/>
<circle cx="352.0" cy="388.3" r="2.9" fill="#1f77b4"/>
<circle cx="347.7" cy="376.2" r="2.9" fill="#1f77b4"/>
<circle cx="351.9" cy="385.0" r="2.9" fill="#1f77b4"/>
<circle cx="353.2" cy="369.4" r="2.9" fill="#1f77b4"/>
<circle cx="341.1" cy="378.6" r="2.9" fill="#1f77b4"/>
<circle cx="359.6" cy="393.7" r="2.9" fill="#1f77b4"/>
<circle cx="347.2" cy="375.5" r="2.9" fill="#1f77b4"/>
<circle cx="354.4" cy="372.5" r="2.9" fill="#1f77b4"/>
<circle cx="345.0" cy="450.9" r="2.9" fill="#1f77b4"/>
<circle cx="343.0" cy="434.0" r="2.9" fill="#1f77b4"/>
<circle cx="345.6" cy="442.7" r="2.9" fill="#1f77b4"/>
<circle cx="345.6" cy="440.7" r="2.9" fill="#1f77b4"/>
<circle cx="343.4" cy="447.4" r="2.9" fill="#1f77b4"/>
<circle cx="346.6" cy="405.8" r="2.9" fill="#1f77b4"/>
<circle cx="346.7" cy="426.5" r="2.9" fill="#1f77b4"/>
<circle cx="342.4" cy="406.7" r="2.9" fill="#1f77b4"/>
<circle cx="346.0" cy="438.9" r="2.9" fill="#1f77b4"/>
<circle cx="342.7" cy="427.4" r="2.9" fill="#1f77b4"/>
<circle cx="345.2" cy="455.9" r="2.9" fill="#1f77b4"/>
<circle cx="343.7" cy="443.6" r="2.9" fill="#1f77b4"/>
<circle cx="343.2" cy="413.5" r="2.9" fill="#1f77b4"/>
<circle cx="342.8" cy="424.7" r="2.9" fill="#1f77b4"/>
<circle cx="345.1" cy="419.1" r="2.9" fill="#1f77b4"/>
<circle cx="342.8" cy="414.6" r="2.9" fill="#1f77b4"/>
<circle cx="342.4" cy="413.2" r="2.9" fill="#1f77b4"/>
<circle cx="343.6" cy="429.7" r="2.9" fill="#1f77b4"/>
<circle cx="419.3" cy="384.0" r="2.9" fill="#1f77b4"/>
<circle cx="421.1" cy="395.4" r="2.9" fill="#1f77b4"/>
<circle cx="421.4" cy="394.7" r="2.9" fill="#1f77b4"/>
<circle cx="421.3" cy="377.6" r="2.9" fill="#1f77b4"/>
<circle cx="422.1" cy="376.3" r="2.9" fill="#1f77b4"/>
<circle cx="419.2" cy="374.7" r="2.9" fill="#1f77b4"/>
<circle cx="422.9" cy="395.2" r="2.9" fill="#1f77b4"/>
<circle cx="420.8" cy="381.1" r="2.9" fill="#1f77b4"/>
<circle cx="421.0" cy="381.1" r="2.9" fill="#1f77b4"/>
<circle cx="422.8" cy="382.0" r="2.9" fill="#1f77b4"/>
<circle cx="419.1" cy="392.9" r="2.9" fill="#1f77b4"/>
<circle cx="422.0" cy="373.1" r="2.9" fill="#1f77b4"/>
<circle cx="479.5" cy="306.4" r="2.9" fill="#1f77b4"/>
<circle cx="478.1" cy="305.8" r="2.9" fill="#1f77b4"/>
<circle cx="479.8" cy="304.4" r="2.9" fill="#1f77b4"/>
<circle cx="478.3" cy="303.8" r="2.9" fill="#1f77b4"/>
<circle cx="478.7" cy="386.0" r="2.9" fill="#1f77b4"/>
<circle cx="479.2" cy="388.5" r="2.9" fill="#1f77b4"/>
<circle cx="477.4" cy="383.3" r="2.9" fill="#1f77b4"/>
<circle cx="479.6" cy="387.1" r="2.9" fill="#1f77b4"/>
<circle cx="478.8" cy="386.1" r="2.9" fill="#1f77b4"/>
<circle cx="616.7" cy="317.4" r="2.9" fill="#1f77b4"/>
<circle cx="617.1" cy="312.0" r="2.9" fill="#1f77b4"/>
<circle cx="616.4" cy="309.2" r="2.9" fill="#1f77b4"/>
<circle cx="617.8" cy="316.0" r="2.9" fill="#1f77b4"/>
<circle cx="816.1" cy="310.9" r="2.9" fill="#1f77b4"/>
<circle cx="817.0" cy="312.0" r="2.9" fill="#1f77b4"/>
<circle cx="816.7" cy="314.4" r="2.9" fill="#1f77b4"/>
<polyline points="115.0,332.7 207.3,332.7 214.2,330.4 216.5,333.8 220.0,328.1 222.3,311.9 224.6,335.0 228.0,331.5 231.5,333.8 233.8,339.6 236.1,320.0 238.4,335.0 240.7,332.7 276.5,332.7 278.8,329.2 282.2,325.8 284.6,332.7 286.9,326.9 290.3,331.5 293.8,335.0 297.2,332.7 341.1,332.7 343.4,347.7 344.5,368.4 346.8,352.3 348.0,345.4 350.3,330.4 352.6,352.3 354.9,340.7 358.4,329.2 360.7,340.7 363.0,330.4 365.3,333.8 367.6,332.7 417.2,332.7 420.7,338.4 424.1,332.7 455.0,332.7 1465.5,333.0" fill="none" stroke="#ff7f0e" stroke-width="2.08" stroke-linejoin="round"/>
</g>
<rect x="119.5" y="38.5" width="1346.0" height="479.9" fill="none" stroke="#000" stroke-width="1.11" stroke-linejoin="miter"/>
<rect x="119.5" y="575.5" width="1346.0" height="478.9000000000001" fill="none" stroke="#000" stroke-width="1.11" stroke-linejoin="miter"/>
<line x1="114.64" y1="54.50" x2="119.5" y2="54.50" stroke="#000" stroke-width="1.11"/>
<line x1="114.64" y1="110.50" x2="119.5" y2="110.50" stroke="#000" stroke-width="1.11"/>
<line x1="114.64" y1="166.50" x2="119.5" y2="166.50" stroke="#000" stroke-width="1.11"/>
<line x1="114.64" y1="222.50" x2="119.5" y2="222.50" stroke="#000" stroke-width="1.11"/>
<line x1="114.64" y1="278.50" x2="119.5" y2="278.50" stroke="#000" stroke-width="1.11"/>
<line x1="114.64" y1="334.50" x2="119.5" y2="334.50" stroke="#000" stroke-width="1.11"/>
<line x1="114.64" y1="390.50" x2="119.5" y2="390.50" stroke="#000" stroke-width="1.11"/>
<line x1="114.64" y1="446.50" x2="119.5" y2="446.50" stroke="#000" stroke-width="1.11"/>
<line x1="114.64" y1="502.50" x2="119.5" y2="502.50" stroke="#000" stroke-width="1.11"/>
<line x1="114.64" y1="1026.30" x2="119.5" y2="1026.30" stroke="#000" stroke-width="1.11"/>
<line x1="114.64" y1="956.82" x2="119.5" y2="956.82" stroke="#000" stroke-width="1.11"/>
<line x1="114.64" y1="887.34" x2="119.5" y2="887.34" stroke="#000" stroke-width="1.11"/>
<line x1="114.64" y1="817.86" x2="119.5" y2="817.86" stroke="#000" stroke-width="1.11"/>
<line x1="114.64" y1="748.38" x2="119.5" y2="748.38" stroke="#000" stroke-width="1.11"/>
<line x1="114.64" y1="678.90" x2="119.5" y2="678.90" stroke="#000" stroke-width="1.11"/>
<line x1="114.64" y1="609.42" x2="119.5" y2="609.42" stroke="#000" stroke-width="1.11"/>
<line x1="119.50" y1="518.4" x2="119.50" y2="523.26" stroke="#000" stroke-width="1.11"/>
<line x1="119.50" y1="1054.4" x2="119.50" y2="1059.26" stroke="#000" stroke-width="1.11"/>
<line x1="287.75" y1="518.4" x2="287.75" y2="523.26" stroke="#000" stroke-width="1.11"/>
<line x1="287.75" y1="1054.4" x2="287.75" y2="1059.26" stroke="#000" stroke-width="1.11"/>
<line x1="456.00" y1="518.4" x2="456.00" y2="523.26" stroke="#000" stroke-width="1.11"/>
<line x1="456.00" y1="1054.4" x2="456.00" y2="1059.26" stroke="#000" stroke-width="1.11"/>
<line x1="624.25" y1="518.4" x2="624.25" y2="523.26" stroke="#000" stroke-width="1.11"/>
<line x1="624.25" y1="1054.4" x2="624.25" y2="1059.26" stroke="#000" stroke-width="1.11"/>
<line x1="792.50" y1="518.4" x2="792.50" y2="523.26" stroke="#000" stroke-width="1.11"/>
<line x1="792.50" y1="1054.4" x2="792.50" y2="1059.26" stroke="#000" stroke-width="1.11"/>
<line x1="960.75" y1="518.4" x2="960.75" y2="523.26" stroke="#000" stroke-width="1.11"/>
<line x1="960.75" y1="1054.4" x2="960.75" y2="1059.26" stroke="#000" stroke-width="1.11"/>
<line x1="1129.00" y1="518.4" x2="1129.00" y2="523.26" stroke="#000" stroke-width="1.11"/>
<line x1="1129.00" y1="1054.4" x2="1129.00" y2="1059.26" stroke="#000" stroke-width="1.11"/>
<line x1="1297.25" y1="518.4" x2="1297.25" y2="523.26" stroke="#000" stroke-width="1.11"/>
<line x1="1297.25" y1="1054.4" x2="1297.25" y2="1059.26" stroke="#000" stroke-width="1.11"/>
<line x1="1465.50" y1="518.4" x2="1465.50" y2="523.26" stroke="#000" stroke-width="1.11"/>
<line x1="1465.50" y1="1054.4" x2="1465.50" y2="1059.26" stroke="#000" stroke-width="1.11"/>
<rect x="1050.4" y="48.70" width="406.1" height="80" rx="2.8" ry="2.8" fill="#fff" fill-opacity="0.8" stroke="#cccccc" stroke-width="1.1"/><circle cx="1076.6" cy="63.40" r="2.9" fill="#1f77b4"/><line x1="1056" y1="101.80" x2="1095" y2="101.80" stroke="#ff7f0e" stroke-width="2.08"/>
<rect x="1050.4" y="585.20" width="406.1" height="80" rx="2.8" ry="2.8" fill="#fff" fill-opacity="0.8" stroke="#cccccc" stroke-width="1.1"/><circle cx="1076.6" cy="599.90" r="2.9" fill="#1f77b4"/><line x1="1056" y1="638.30" x2="1095" y2="638.30" stroke="#ff7f0e" stroke-width="2.08"/>
<g opacity="0.999">
<text transform="translate(37.35,510.00) scale(1.2545,1.0667)" font-size="22.2">−0.75</text>
<text transform="translate(36.82,454.00) scale(1.2778,1.0667)" font-size="22.2">−0.50</text>
<text transform="translate(37.35,398.00) scale(1.2545,1.0667)" font-size="22.2">−0.25</text>
<text transform="translate(53.83,342.00) scale(1.2683,1.0667)" font-size="22.2">0.00</text>
<text transform="translate(54.39,286.00) scale(1.2143,1.0667)" font-size="22.2">0.25</text>
<text transform="translate(53.83,230.00) scale(1.2683,1.0667)" font-size="22.2">0.50</text>
<text transform="translate(54.39,174.00) scale(1.2143,1.0667)" font-size="22.2">0.75</text>
<text transform="translate(54.36,118.00) scale(1.2439,1.0667)" font-size="22.2">1.00</text>
<text transform="translate(55.91,62.00) scale(1.1905,1.0667)" font-size="22.2">1.25</text>
<text transform="translate(38.36,1034.00) scale(1.2407,1.0667)" font-size="22.2">0.002</text>
<text transform="translate(38.36,965.00) scale(1.2364,1.0667)" font-size="22.2">0.004</text>
<text transform="translate(38.34,895.00) scale(1.2593,1.0667)" font-size="22.2">0.006</text>
<text transform="translate(38.36,826.00) scale(1.2407,1.0667)" font-size="22.2">0.008</text>
<text transform="translate(38.34,756.00) scale(1.2593,1.0667)" font-size="22.2">0.010</text>
<text transform="translate(38.36,687.00) scale(1.2407,1.0667)" font-size="22.2">0.012</text>
<text transform="translate(38.36,617.00) scale(1.2364,1.0667)" font-size="22.2">0.014</text>
<text transform="translate(20.98,1132.98) rotate(-30) scale(1.2558,1.0667)" font-size="22.2">06-24 00</text>
<text transform="translate(189.48,1133.48) rotate(-30) scale(1.2558,1.0667)" font-size="22.2">06-24 03</text>
<text transform="translate(357.48,1132.48) rotate(-30) scale(1.2558,1.0667)" font-size="22.2">06-24 06</text>
<text transform="translate(525.98,1132.98) rotate(-30) scale(1.2558,1.0667)" font-size="22.2">06-24 09</text>
<text transform="translate(694.48,1133.48) rotate(-30) scale(1.2558,1.0667)" font-size="22.2">06-24 12</text>
<text transform="translate(862.48,1133.48) rotate(-30) scale(1.2558,1.0667)" font-size="22.2">06-24 15</text>
<text transform="translate(1030.98,1133.48) rotate(-30) scale(1.2558,1.0667)" font-size="22.2">06-24 18</text>
<text transform="translate(1199.48,1132.98) rotate(-30) scale(1.2558,1.0667)" font-size="22.2">06-24 21</text>
<text transform="translate(24.01,392.12) rotate(-90) scale(1.2092,0.9381)" font-size="22.2">Doppler Shift [Hz]</text>
<text transform="translate(26.74,920.44) rotate(-90) scale(1.2189,0.9524)" font-size="22.2">Peak Voltage [V]</text>
<text transform="translate(768.05,1158.00) scale(1.0455,1.0667)" font-size="22.2">UTC</text>
<text transform="translate(637.65,30.00) scale(1.2240,1.0944)" font-size="26.7">10.0 MHz N0000013</text>
<text transform="translate(119.77,29.00) scale(1.2333,1.0000)" font-size="26.7">(a)</text>
<text transform="translate(119.91,565.70) scale(1.1906,1.0000)" font-size="26.7">(b)</text>
<text transform="translate(1109.01,69.00) scale(1.1878,1.0135)" font-size="18.5">Raw Data</text>
<text transform="translate(1108.78,95.70) scale(1.2154,0.9821)" font-size="18.5">Butterworth Filtered Data</text>
<text transform="translate(1108.77,116.70) scale(1.2284,0.9821)" font-size="18.5">(N=6, Tc=3.3333 min, Type: low)</text>
<text transform="translate(1109.01,606.00) scale(1.1878,1.0135)" font-size="18.5">Raw Data</text>
<text transform="translate(1108.78,632.70) scale(1.2154,0.9821)" font-size="18.5">Butterworth Filtered Data</text>
<text transform="translate(1108.77,653.70) scale(1.2284,0.9821)" font-size="18.5">(N=6, Tc=3.3333 min, Type: low)</text>
</g>
</svg></body></html>
